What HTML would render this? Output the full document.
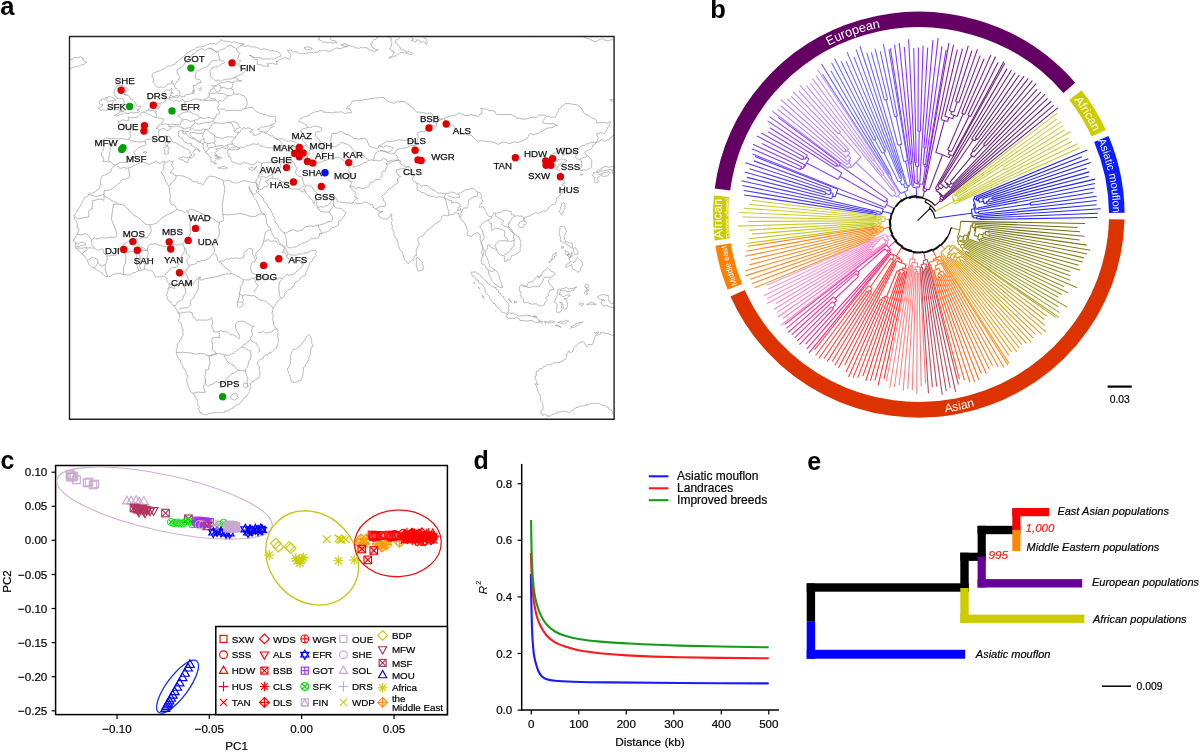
<!DOCTYPE html><html><head><meta charset="utf-8"><style>html,body{margin:0;padding:0;background:#fff;overflow:hidden}svg{display:block;will-change:transform}text{font-family:"Liberation Sans",sans-serif}</style></head><body><svg width="1200" height="752" viewBox="0 0 1200 752"><clipPath id="mapclip"><rect x="69.5" y="36.5" width="544.5" height="383"/></clipPath><g clip-path="url(#mapclip)" fill="none" stroke="#9a9a9a" stroke-width="0.72" stroke-linejoin="round"><path d="M173.5 161.2 L172.5 161.2 L171.5 161.5 L170.4 161.2 L169.6 160.5 L169.0 160.7 L168.5 161.1 L168.2 161.6 L167.6 161.9 L167.0 162.2 L166.3 162.3 L165.7 162.1 L165.1 161.9 L164.3 161.9 L163.6 161.7 L162.9 161.7 L162.2 161.9 L161.6 162.4 L161.1 163.0 L160.3 163.4 L159.5 163.3 L158.8 162.9 L158.0 162.7 L157.5 162.1 L156.9 161.6 L156.3 161.1 L155.6 161.1 L155.0 161.5 L154.7 162.2 L153.5 162.6 L152.3 162.6 L151.4 163.2 L150.7 163.9 L149.7 164.3 L148.7 164.5 L147.8 164.0 L146.8 163.7 L145.9 163.1 L145.3 162.3 L144.6 162.3 L143.9 162.1 L143.2 162.3 L142.5 161.9 L142.0 162.4 L141.3 162.4 L140.7 162.9 L140.0 163.0 L139.3 163.1 L138.6 163.2 L138.0 163.6 L137.5 164.1 L136.9 164.5 L136.1 164.5 L135.6 165.0 L135.1 165.4 L134.4 165.5 L133.7 165.4 L133.2 165.8 L132.6 166.2 L132.2 166.8 L131.4 167.0 L130.9 167.6 L130.1 167.6 L129.3 167.8 L128.5 167.7 L127.7 167.9 L126.9 168.3 L126.2 168.1 L125.5 168.0 L124.9 167.6 L124.1 167.6 L123.5 167.5 L122.8 167.6 L122.2 167.8 L121.7 168.2 L121.0 168.2 L120.4 168.1 L119.8 168.0 L119.2 167.9 L118.8 166.8 L117.6 166.6 L116.7 166.1 L116.0 165.4 L115.0 166.0 L113.9 165.8 L113.7 166.4 L113.3 166.9 L112.9 167.5 L112.5 167.9 L112.0 168.4 L111.5 168.7 L111.2 169.2 L111.2 169.9 L111.0 171.0 L110.7 172.1 L110.1 172.6 L109.3 172.8 L108.5 173.1 L107.9 173.6 L107.0 173.8 L106.4 174.4 L105.5 174.7 L104.7 175.0 L103.7 175.3 L102.6 175.4 L101.9 176.3 L101.9 177.4 L101.2 178.2 L101.0 179.2 L100.3 180.0 L100.1 181.0 L100.6 181.8 L100.8 182.9 L100.7 183.9 L100.8 184.8 L100.2 185.7 L99.7 186.7 L99.9 187.4 L99.7 188.0 L99.2 188.3 L98.7 188.7 L98.2 189.5 L97.3 189.4 L96.7 190.0 L96.6 190.8 L95.9 191.0 L95.4 191.5 L94.9 192.2 L94.1 192.3 L93.6 192.6 L92.9 192.8 L92.4 193.3 L91.7 193.2 L90.9 193.3 L90.3 192.7 L89.8 193.2 L89.2 193.7 L88.6 194.5 L88.1 195.4 L87.5 196.2 L86.7 196.8 L86.1 197.2 L85.5 197.2 L84.8 197.3 L84.3 197.6 L84.1 198.2 L83.7 198.8 L83.8 199.4 L83.5 200.0 L83.1 200.5 L82.7 200.9 L82.4 201.5 L82.3 202.1 L81.9 202.6 L81.7 203.2 L81.3 203.7 L81.0 204.3 L81.1 204.9 L80.6 205.4 L80.3 206.0 L79.7 206.3 L79.6 206.9 L79.3 207.5 L79.1 208.1 L78.6 208.5 L78.2 209.0 L78.1 209.6 L77.6 210.1 L77.1 210.4 L77.1 211.0 L77.1 211.7 L76.8 212.2 L76.5 212.7 L75.8 213.3 L75.2 214.0 L74.8 214.8 L73.9 215.2 L73.7 216.2 L74.4 216.9 L74.6 217.8 L74.5 218.7 L75.0 219.6 L75.6 220.4 L76.2 221.2 L76.5 222.2 L77.0 222.8 L77.2 223.6 L77.4 224.3 L77.5 225.1 L77.3 226.0 L76.8 226.9 L77.3 227.8 L78.2 228.2 L78.7 229.2 L78.8 230.3 L78.3 231.2 L77.9 232.1 L77.6 233.0 L77.3 234.0 L77.2 235.0 L76.5 235.7 L75.7 236.3 L75.3 237.3 L74.9 238.2 L74.7 239.2 L73.5 239.2 L72.9 240.2 L74.0 240.7 L74.7 241.6 L75.7 242.0 L76.0 243.0 L75.6 243.9 L75.4 244.8 L75.1 245.6 L75.3 246.4 L75.7 247.2 L75.7 248.0 L76.1 248.6 L76.8 248.8 L77.1 249.3 L77.5 249.8 L78.4 250.0 L79.0 250.7 L79.6 251.4 L80.3 251.9 L80.9 252.8 L81.8 253.6 L82.4 254.2 L82.9 255.0 L83.8 255.3 L84.2 256.1 L85.1 256.5 L85.2 257.4 L85.7 258.0 L86.3 258.6 L87.0 259.3 L87.4 260.2 L87.6 261.2 L88.1 262.1 L88.3 263.2 L88.7 264.3 L89.8 264.8 L90.6 265.6 L91.4 266.4 L91.9 267.4 L92.5 267.6 L92.9 268.1 L93.4 267.7 L94.1 267.8 L94.5 268.3 L94.8 268.9 L95.6 268.8 L96.2 269.2 L96.6 269.7 L97.1 270.1 L97.7 270.5 L98.3 270.6 L98.9 271.0 L99.5 271.2 L100.0 271.5 L100.5 271.9 L100.9 272.5 L101.6 272.6 L101.9 273.2 L102.2 273.8 L102.9 274.2 L103.6 274.6 L104.2 275.2 L104.8 275.7 L105.5 276.2 L106.1 276.8 L107.0 276.8 L107.9 276.6 L108.9 276.6 L109.9 276.5 L110.8 276.1 L111.8 275.9 L112.0 275.1 L112.6 274.6 L113.3 274.0 L114.1 274.1 L114.9 274.3 L115.6 274.0 L116.3 273.7 L117.0 273.8 L117.9 273.4 L118.8 273.4 L119.7 273.4 L120.6 273.4 L121.3 274.0 L122.2 274.2 L123.2 274.4 L124.1 274.1 L125.0 274.4 L125.9 274.7 L126.8 274.9 L127.6 275.3 L128.5 275.0 L129.4 274.6 L130.4 274.8 L131.2 274.1 L131.9 273.8 L132.6 273.4 L133.1 272.7 L134.0 272.5 L134.7 272.5 L135.4 272.5 L136.0 272.1 L136.5 271.5 L137.1 271.3 L137.7 271.1 L138.2 270.7 L138.9 270.6 L139.6 270.8 L140.2 271.2 L140.6 270.5 L141.2 270.1 L142.4 269.8 L143.5 269.7 L144.3 269.2 L145.1 268.8 L145.9 269.1 L146.7 269.5 L147.5 270.2 L148.5 270.8 L149.5 270.3 L150.6 270.2 L151.4 270.6 L151.8 271.3 L152.7 271.5 L153.1 272.3 L153.6 272.9 L154.0 273.4 L154.4 274.1 L154.5 274.8 L154.8 275.4 L154.9 276.1 L155.1 276.8 L155.9 276.9 L156.8 277.1 L157.7 276.9 L158.6 277.0 L159.4 276.6 L160.5 276.3 L161.7 276.2 L162.9 276.1 L164.0 275.9 L164.7 276.7 L165.3 277.5 L166.2 277.9 L167.2 278.3 L166.8 279.1 L166.7 279.8 L166.8 280.6 L166.8 281.4 L167.4 282.0 L167.9 282.6 L168.5 283.1 L169.3 283.3 L169.1 284.2 L169.0 285.0 L169.1 285.9 L169.3 286.8 L169.0 287.8 L168.0 288.4 L168.3 289.3 L168.2 290.3 L167.7 290.8 L167.2 291.4 L167.4 292.1 L167.5 292.8 L167.3 293.4 L166.9 293.9 L166.3 294.2 L165.8 294.6 L166.3 295.0 L166.6 295.7 L167.0 296.3 L167.2 297.0 L167.1 298.1 L167.5 299.1 L168.1 300.0 L168.6 300.9 L169.3 301.2 L169.6 301.8 L170.2 301.5 L170.9 301.8 L170.9 302.4 L171.2 303.0 L171.3 303.6 L171.8 304.1 L172.4 304.8 L173.3 305.2 L173.7 306.1 L174.6 306.6 L175.3 307.2 L175.1 308.1 L175.7 308.6 L176.4 309.0 L176.8 309.7 L176.7 310.5 L177.3 310.9 L177.8 311.5 L177.8 312.4 L178.1 313.3 L179.0 313.8 L179.8 314.4 L179.5 315.4 L179.9 316.4 L179.5 317.4 L179.2 318.3 L179.1 319.3 L178.5 320.2 L178.6 321.4 L179.3 322.3 L180.2 322.8 L181.3 323.1 L181.4 324.0 L181.2 324.9 L181.4 325.8 L181.6 326.7 L181.9 327.6 L182.2 328.4 L182.6 329.3 L183.4 329.8 L183.1 330.6 L182.9 331.4 L182.9 332.2 L182.7 333.0 L183.0 333.8 L183.2 334.5 L183.0 335.3 L182.4 335.8 L181.8 336.4 L181.6 337.2 L182.1 337.9 L181.8 338.7 L181.2 339.0 L180.5 339.3 L180.2 340.0 L179.5 340.4 L179.2 341.3 L179.2 342.3 L178.4 342.9 L177.8 343.6 L177.1 344.6 L177.4 345.7 L177.5 346.8 L177.3 347.8 L176.9 348.7 L176.4 349.6 L176.2 350.4 L176.4 351.3 L176.4 352.1 L176.2 353.0 L176.8 353.8 L177.1 354.8 L177.0 355.8 L177.8 356.7 L177.9 357.8 L178.7 358.6 L179.4 359.5 L180.2 360.2 L180.6 360.9 L180.5 361.7 L180.7 362.4 L181.1 363.0 L181.4 363.7 L181.9 364.3 L182.4 364.8 L182.7 365.5 L182.8 366.3 L182.8 367.1 L183.2 367.9 L183.9 368.2 L184.3 368.9 L184.9 369.4 L185.2 370.1 L185.5 370.8 L185.8 371.4 L186.1 372.0 L185.9 372.6 L185.9 373.2 L186.1 374.2 L186.6 375.0 L187.4 375.4 L188.2 375.8 L188.1 376.7 L187.5 377.4 L187.1 378.2 L186.6 378.9 L186.6 379.8 L186.8 380.7 L186.8 381.6 L187.1 382.4 L187.7 383.2 L187.8 384.1 L188.1 385.0 L188.0 385.9 L188.4 386.5 L188.6 387.2 L189.1 387.8 L189.4 388.4 L189.7 389.1 L189.9 389.8 L190.4 390.4 L190.4 391.2 L190.7 392.0 L191.4 392.4 L192.0 392.8 L192.8 393.0 L193.1 393.7 L193.7 394.0 L194.3 394.5 L194.2 395.3 L194.7 395.7 L195.0 396.3 L194.9 397.1 L195.4 397.6 L196.1 398.0 L196.4 398.8 L197.1 399.3 L197.1 400.2 L197.2 401.0 L197.4 401.8 L197.3 402.6 L197.9 403.2 L197.8 403.8 L197.9 404.5 L198.3 405.0 L198.3 405.6 L198.7 406.1 L199.2 406.6 L199.2 407.2 L199.3 407.8 L198.9 408.4 L198.2 408.5 L198.7 409.3 L199.4 409.9 L199.7 410.8 L199.7 411.7 L200.0 412.5 L200.0 413.3 L200.6 412.9 L201.1 412.4 L201.1 413.1 L201.5 413.8 L202.2 413.8 L202.8 414.2 L203.5 414.3 L204.0 414.8 L204.7 414.8 L205.3 415.0 L206.2 414.8 L207.1 414.7 L207.6 413.9 L208.5 413.5 L209.6 413.4 L210.6 413.2 L211.7 413.0 L212.7 412.8 L213.9 412.8 L215.0 412.7 L216.2 412.7 L217.3 412.4 L217.9 412.6 L218.6 412.6 L219.2 412.5 L219.8 412.3 L220.4 412.4 L221.1 412.3 L221.6 412.7 L222.2 412.8 L222.9 412.5 L223.6 412.3 L224.3 412.2 L225.1 412.1 L225.3 411.0 L226.4 410.6 L227.3 411.0 L228.2 411.2 L228.9 410.7 L229.1 409.9 L229.8 409.7 L230.3 409.1 L231.0 408.8 L231.7 408.5 L232.4 408.2 L233.2 408.5 L233.5 407.9 L233.7 407.2 L233.9 406.5 L234.5 406.1 L235.3 406.2 L235.8 405.6 L236.4 405.1 L237.1 405.0 L237.6 404.4 L238.4 404.5 L238.8 403.8 L239.6 403.7 L240.1 403.2 L240.6 402.7 L241.0 402.1 L241.3 401.5 L241.7 401.0 L242.0 400.5 L242.6 400.2 L243.1 399.8 L243.3 399.2 L243.8 398.8 L244.1 398.2 L244.1 397.6 L244.7 397.2 L245.5 397.0 L245.9 396.4 L246.6 396.2 L247.1 395.6 L247.2 394.9 L247.7 394.4 L248.0 393.7 L248.7 393.1 L249.4 392.4 L249.6 391.5 L249.4 390.5 L249.8 389.7 L250.0 388.7 L250.6 387.9 L250.8 387.0 L250.8 386.1 L250.7 385.3 L250.5 384.4 L249.8 383.8 L250.5 383.9 L250.9 383.3 L251.1 382.7 L251.2 382.1 L251.9 381.3 L253.0 381.2 L254.0 381.1 L254.7 380.3 L255.3 379.7 L256.1 379.5 L256.9 379.2 L257.7 379.1 L258.2 378.3 L258.2 377.4 L259.1 377.1 L259.7 376.4 L259.2 375.5 L259.8 374.6 L260.0 373.8 L260.0 372.9 L259.7 372.0 L259.0 371.5 L259.4 370.6 L259.3 369.7 L259.2 368.8 L259.2 367.9 L259.4 367.0 L259.0 366.2 L258.4 365.7 L257.8 365.1 L257.4 364.5 L257.2 363.7 L257.4 362.8 L257.5 362.0 L258.3 361.2 L259.0 360.4 L259.9 359.8 L260.7 359.1 L261.4 359.0 L262.2 358.9 L262.9 358.7 L263.5 358.4 L262.9 357.5 L263.4 356.4 L264.4 356.2 L265.0 355.3 L265.6 354.9 L266.2 355.0 L266.9 355.2 L267.6 355.1 L267.6 354.3 L268.4 354.0 L268.6 353.4 L268.8 352.8 L269.8 352.5 L270.9 352.7 L271.6 352.1 L272.4 351.4 L272.9 350.9 L273.3 350.4 L273.8 350.0 L274.3 349.6 L274.8 349.0 L275.2 348.4 L275.8 348.0 L276.6 348.2 L276.9 347.3 L276.9 346.4 L277.6 345.8 L278.0 345.0 L277.9 344.1 L278.2 343.3 L277.8 342.3 L278.4 341.5 L278.3 340.8 L278.2 340.1 L278.4 339.5 L278.5 338.8 L278.0 338.3 L277.8 337.6 L277.8 336.9 L277.7 336.2 L277.7 335.4 L277.9 334.6 L277.5 333.8 L278.0 333.0 L277.8 332.2 L277.8 331.4 L277.9 330.6 L277.7 329.8 L277.5 329.0 L276.7 328.5 L276.2 327.8 L275.5 327.4 L274.7 327.0 L274.3 326.2 L273.7 325.5 L273.1 324.8 L273.4 324.0 L273.5 323.1 L273.4 322.2 L273.8 321.4 L273.1 320.9 L272.4 320.4 L272.8 319.7 L272.8 318.8 L272.9 318.1 L272.8 317.4 L273.0 316.7 L273.4 316.1 L273.0 315.4 L273.0 314.5 L272.3 314.1 L271.7 313.6 L272.1 312.8 L272.3 311.9 L272.6 311.0 L272.7 310.1 L273.2 309.0 L273.1 307.9 L273.8 307.1 L274.8 306.6 L275.1 305.7 L275.2 304.8 L275.7 304.1 L276.3 303.4 L276.7 302.3 L277.1 301.3 L278.1 300.8 L279.1 300.2 L279.5 299.5 L280.0 298.8 L280.8 298.5 L281.5 298.1 L282.2 297.8 L282.7 297.2 L283.3 296.8 L283.8 296.3 L284.3 295.7 L284.7 295.0 L285.0 294.3 L284.7 293.5 L285.2 293.0 L285.5 292.4 L286.0 291.9 L286.4 291.3 L287.0 291.0 L287.4 290.4 L287.9 289.9 L288.3 289.3 L288.9 289.8 L289.8 289.7 L290.3 289.1 L290.8 288.5 L291.1 287.8 L291.8 287.6 L292.4 287.2 L292.5 286.5 L293.1 286.2 L293.6 285.8 L294.2 285.6 L294.6 285.0 L294.9 284.2 L294.8 283.3 L295.4 282.7 L295.8 281.9 L296.6 281.7 L297.5 281.5 L298.1 280.9 L298.8 280.5 L299.3 279.9 L299.8 279.4 L299.9 278.7 L300.2 278.0 L300.9 277.8 L301.4 277.3 L301.9 276.7 L302.4 276.2 L303.2 276.0 L304.0 276.2 L304.7 275.8 L305.3 275.3 L305.6 274.6 L305.9 273.9 L305.9 273.1 L305.9 272.3 L306.4 271.8 L306.8 271.1 L307.3 270.4 L306.8 269.6 L307.0 268.9 L307.6 268.3 L308.2 267.9 L308.7 267.4 L309.0 266.7 L309.0 266.0 L309.0 265.2 L308.9 264.5 L309.4 264.0 L309.5 263.2 L309.9 262.6 L310.5 262.1 L311.6 261.7 L312.3 260.8 L312.7 259.7 L313.0 258.6 L313.5 257.5 L314.6 257.0 L315.4 256.2 L316.1 255.4 L315.6 254.9 L315.1 254.4 L315.4 253.3 L316.2 252.5 L316.3 251.5 L315.8 250.5 L315.1 250.7 L314.5 250.9 L313.7 250.8 L313.3 250.1 L312.7 250.4 L312.1 250.6 L311.4 250.8 L310.7 250.9 L310.1 251.3 L309.4 251.3 L308.7 251.6 L308.4 252.2 L307.3 252.5 L306.3 253.0 L305.2 253.0 L304.1 252.6 L303.6 253.1 L302.8 253.2 L302.2 253.7 L301.8 254.3 L301.1 253.9 L300.3 253.9 L299.6 254.1 L298.8 254.0 L298.1 254.1 L297.4 254.2 L296.9 254.7 L296.3 255.3 L295.7 254.8 L294.9 255.0 L294.2 255.2 L293.5 255.4 L292.7 255.0 L291.8 254.7 L291.0 255.1 L290.0 255.1 L289.4 254.4 L288.7 253.9 L288.2 253.2 L287.5 252.6 L286.9 252.1 L286.8 251.2 L286.3 250.5 L285.8 249.7 L285.9 248.9 L285.8 248.0 L285.3 247.6 L285.2 246.9 L284.6 246.7 L284.0 246.6 L283.5 245.9 L283.1 245.2 L282.3 244.8 L281.5 244.5 L280.6 243.8 L279.6 243.1 L279.1 242.1 L278.7 240.9 L278.2 240.4 L278.2 239.7 L278.1 239.0 L277.6 238.5 L276.9 238.1 L276.2 238.2 L275.6 238.7 L274.8 238.5 L274.2 237.5 L273.8 236.4 L273.0 235.7 L272.3 234.9 L272.3 233.8 L272.0 232.8 L271.4 231.9 L271.2 230.7 L271.0 229.6 L270.6 228.6 L270.0 227.6 L269.4 226.6 L268.7 226.9 L268.2 226.3 L268.1 225.6 L267.4 225.4 L267.6 224.6 L267.3 223.9 L266.5 223.6 L266.0 223.0 L266.3 222.4 L266.5 221.7 L266.3 221.0 L266.9 220.5 L266.7 219.9 L266.2 219.4 L266.5 218.7 L266.4 218.0 L265.5 217.4 L265.5 216.3 L265.4 215.4 L265.0 214.5 L264.0 214.7 L263.4 214.0 L263.2 213.2 L262.5 212.7 L261.8 212.2 L261.0 211.9 L260.8 211.1 L260.7 210.3 L260.3 209.7 L259.9 209.2 L259.7 208.4 L260.0 207.8 L259.4 206.9 L258.9 206.0 L258.8 204.9 L257.9 204.3 L257.3 203.5 L256.9 202.6 L256.8 201.6 L256.5 200.7 L256.1 199.9 L255.5 199.2 L255.0 198.5 L254.4 197.9 L253.8 197.3 L253.2 196.7 L253.4 195.9 L253.0 195.1 L252.2 194.2 L251.5 193.3 L251.1 192.2 L250.5 191.2 L250.1 190.1 L249.6 189.0 L249.3 188.4 L249.3 187.8 L249.6 187.2 L249.8 186.6 L249.4 187.3 L248.7 187.7 L249.2 188.1 L249.8 188.5 L249.9 189.2 L250.1 189.8 L250.7 190.6 L251.4 191.1 L251.5 192.1 L251.9 193.0 L252.8 193.3 L253.3 194.0 L254.4 194.2 L255.4 194.0 L256.0 193.3 L256.5 192.6 L256.7 191.8 L256.3 191.1 L256.5 190.2 L257.2 189.8 L257.7 189.0 L257.9 188.0 L257.4 187.5 L256.8 187.0 L256.7 186.3 L256.9 185.6 L257.1 185.0 L257.3 184.3 L256.8 183.8 L256.4 183.2 L256.0 182.7 L255.8 182.0 L255.1 182.3 L254.4 182.3 L253.7 182.3 L253.0 182.4 L251.9 182.3 L250.8 182.1 L249.8 181.9 L248.7 181.7 L247.8 181.5 L247.0 181.0 L246.2 181.2 L245.5 180.7 L244.8 180.9 L244.1 180.6 L243.1 180.9 L242.1 181.1 L241.2 181.7 L240.2 182.0 L239.4 182.4 L238.5 182.5 L237.6 182.8 L236.7 183.1 L236.0 182.9 L235.2 182.9 L234.5 182.5 L233.7 182.5 L232.9 182.3 L232.1 182.4 L231.4 181.9 L230.7 181.5 L230.2 180.6 L229.2 180.3 L228.3 180.7 L227.3 180.5 L226.4 180.7 L225.5 180.9 L224.6 180.7 L223.7 180.6 L222.7 180.0 L221.6 179.7 L220.6 179.1 L219.4 178.9 L218.7 178.1 L217.7 177.9 L216.7 177.6 L215.9 177.1 L215.1 176.9 L214.5 176.4 L213.7 176.3 L213.0 176.7 L212.2 176.9 L211.7 176.2 L210.9 176.3 L210.2 176.1 L209.5 176.3 L208.8 176.4 L208.1 177.2 L207.6 178.0 L207.2 178.5 L206.9 179.0 L206.3 178.6 L205.7 178.9 L206.2 179.7 L205.7 180.5 L205.4 181.3 L204.9 182.0 L204.4 182.9 L203.6 183.6 L203.1 184.4 L202.5 185.2 L202.2 184.6 L201.8 184.1 L201.3 183.6 L200.9 183.1 L200.2 183.3 L199.6 183.6 L198.9 183.4 L198.2 183.4 L197.8 182.7 L197.5 181.9 L196.6 181.6 L195.8 182.0 L195.0 182.1 L194.4 181.7 L193.6 181.6 L192.9 182.0 L192.7 181.2 L192.2 180.6 L191.5 180.1 L190.7 179.9 L190.3 179.1 L189.6 178.8 L188.9 178.3 L188.4 177.8 L187.7 177.9 L187.1 178.1 L186.7 177.6 L186.2 177.2 L185.2 176.7 L184.1 176.4 L183.4 176.2 L182.8 175.8 L182.0 175.8 L181.3 176.0 L180.2 175.7 L179.2 175.2 L178.1 175.5 L177.1 176.0 L176.3 175.7 L175.8 175.0 L175.0 175.1 L174.2 175.0 L173.7 174.1 L173.2 173.2 L172.5 173.0 L171.8 172.8 L171.0 172.8 L170.4 172.5 L170.8 171.6 L171.4 170.7 L172.1 170.2 L172.8 169.7 L173.2 168.7 L173.9 167.9 L173.3 167.5 L172.9 166.9 L172.6 166.3 L172.1 165.8 L171.4 165.0 L171.8 164.0 L172.4 163.3 L172.2 162.3 L172.8 161.7 L173.5 161.2 M308.7 334.4 L309.3 334.8 L309.8 335.3 L310.0 335.9 L310.1 336.6 L310.7 337.1 L311.1 337.6 L311.2 338.4 L310.8 339.0 L311.3 339.5 L311.6 340.0 L311.8 340.6 L311.8 341.2 L311.6 341.8 L311.6 342.4 L311.8 343.0 L311.9 343.6 L312.4 344.3 L312.8 345.1 L313.4 345.9 L313.0 346.8 L312.0 346.7 L311.2 347.3 L310.9 348.2 L311.0 349.1 L310.9 349.9 L310.9 350.7 L310.5 351.4 L310.1 352.1 L310.6 352.6 L310.6 353.3 L310.7 353.9 L310.9 354.5 L310.2 354.7 L309.8 355.3 L309.6 355.9 L309.1 356.3 L308.7 357.1 L308.9 357.9 L308.8 358.7 L309.0 359.5 L308.4 360.1 L308.0 360.8 L307.6 361.4 L307.0 362.0 L306.9 362.7 L306.4 363.2 L306.1 363.8 L305.9 364.4 L305.5 365.4 L305.1 366.3 L304.4 367.1 L303.5 367.5 L303.5 368.5 L303.5 369.5 L303.5 370.5 L303.4 371.5 L303.2 372.1 L302.9 372.8 L303.2 373.4 L303.0 374.1 L302.7 374.8 L302.8 375.5 L302.7 376.2 L302.4 376.8 L302.1 377.8 L301.1 378.3 L301.2 379.3 L301.0 380.3 L300.0 380.4 L299.0 380.9 L298.0 380.9 L297.1 381.4 L296.5 381.9 L295.7 382.1 L295.0 382.2 L294.3 382.4 L293.3 382.2 L292.3 382.2 L291.9 381.2 L291.1 380.7 L291.1 380.0 L290.9 379.5 L290.8 378.9 L290.5 378.3 L290.3 377.8 L290.1 377.2 L290.2 376.5 L289.7 376.1 L289.7 375.2 L289.8 374.4 L289.3 373.8 L288.6 373.2 L288.5 372.3 L288.1 371.5 L287.8 370.6 L287.5 369.7 L287.6 368.8 L287.8 367.9 L288.7 367.5 L289.0 366.5 L289.5 365.6 L290.1 364.7 L290.2 363.6 L290.7 362.7 L290.6 361.6 L290.2 360.7 L290.3 359.6 L291.1 358.8 L290.4 358.2 L290.1 357.3 L290.3 356.5 L290.0 355.6 L290.6 354.8 L291.2 354.0 L291.5 353.1 L291.4 352.1 L292.1 351.5 L292.5 350.8 L292.7 349.9 L293.2 349.3 L293.9 349.3 L294.6 349.3 L295.2 349.2 L295.9 349.0 L296.4 348.5 L296.9 348.1 L297.6 347.9 L298.1 347.5 L298.9 347.0 L299.6 346.3 L300.3 345.7 L301.0 345.0 L301.6 344.1 L302.3 343.2 L302.8 342.1 L303.8 341.5 L304.2 340.9 L304.5 340.3 L304.9 339.7 L305.2 339.0 L305.7 338.3 L306.0 337.5 L306.3 336.7 L307.0 336.2 L307.5 335.9 L308.1 335.6 L308.4 335.0 L308.7 334.4 M255.8 182.0 L256.3 181.2 L256.1 180.2 L256.9 179.6 L257.5 178.9 L257.8 178.3 L258.1 177.7 L258.2 177.0 L258.2 176.4 L258.5 175.5 L259.0 174.6 L259.3 173.5 L260.0 172.5 L260.7 171.7 L261.1 170.7 L261.5 169.7 L261.4 168.6 L261.2 167.8 L261.1 166.9 L261.2 165.9 L261.8 165.1 L261.4 164.5 L261.6 163.9 L261.9 163.3 L262.5 163.0 L261.4 163.2 L260.4 163.0 L260.0 162.6 L259.2 162.4 L258.4 162.2 L257.6 162.2 L256.8 162.3 L256.2 162.5 L255.6 163.0 L255.1 163.4 L254.7 164.0 L253.9 164.6 L253.0 164.6 L252.3 164.8 L251.7 164.8 L251.1 165.0 L250.5 165.1 L250.1 164.2 L249.3 163.8 L248.4 163.9 L247.7 163.3 L247.0 163.4 L246.5 163.0 L245.8 163.1 L245.2 163.1 L244.6 162.8 L244.0 162.7 L243.6 162.3 L243.1 161.9 L242.8 162.8 L242.4 163.7 L241.5 164.0 L240.7 164.4 L239.8 164.0 L238.8 164.4 L238.4 163.9 L237.9 163.6 L237.3 163.3 L236.7 163.0 L236.1 163.2 L235.5 163.1 L234.9 162.9 L234.6 162.3 L233.9 162.1 L233.2 162.0 L232.4 162.2 L231.8 161.6 L231.4 160.6 L230.7 159.8 L230.9 159.0 L231.1 158.2 L230.7 157.7 L230.4 157.2 L229.9 156.9 L229.3 156.6 L228.6 156.7 L227.9 157.0 L228.5 156.2 L229.3 155.6 L229.1 154.9 L229.3 154.2 L228.3 153.9 L227.5 153.1 L227.4 152.5 L227.5 151.8 L227.2 151.3 L227.2 150.6 L228.0 150.1 L229.0 149.6 L229.7 149.8 L230.4 149.6 L231.1 149.8 L231.8 149.6 L232.8 149.8 L233.5 149.2 L234.4 149.6 L235.3 149.6 L236.2 149.8 L237.1 149.6 L237.9 149.5 L238.8 149.3 L239.5 148.8 L240.2 148.3 L239.4 148.1 L238.5 148.2 L237.8 147.8 L237.4 147.1 L238.1 147.8 L239.1 148.1 L239.9 147.6 L240.6 146.9 L241.6 147.2 L242.7 147.5 L243.9 147.8 L244.8 147.1 L245.4 146.4 L246.0 145.8 L246.8 145.6 L247.7 145.3 L248.3 145.2 L248.9 145.6 L249.5 145.3 L250.1 145.2 L250.7 145.0 L251.3 144.7 L251.6 144.1 L252.2 143.9 L252.9 144.2 L253.5 144.0 L254.1 143.8 L254.7 143.9 L255.3 144.2 L255.9 144.3 L256.6 144.7 L257.2 144.1 L258.1 143.8 L259.0 143.9 L259.6 144.5 L260.0 145.3 L260.4 146.2 L261.4 146.0 L262.1 146.2 L262.8 146.4 L263.4 146.7 L264.0 146.8 L264.7 147.0 L265.3 147.1 L266.2 147.4 L267.1 147.5 L267.9 148.1 L268.8 147.8 L269.6 147.7 L270.3 147.6 L271.1 147.6 L271.8 147.5 L272.5 147.9 L273.3 148.1 L274.1 147.8 L274.8 147.5 L275.6 147.1 L276.4 147.0 L277.2 147.3 L278.0 147.5 L278.8 146.8 L279.9 146.5 L280.8 146.0 L281.5 145.3 L281.7 144.4 L281.9 143.6 L281.4 142.7 L280.6 142.0 L280.1 141.1 L279.4 140.4 L278.8 140.1 L278.4 139.6 L277.7 139.5 L277.3 139.0 L276.7 138.8 L276.1 138.7 L275.4 138.5 L274.8 138.3 L274.5 137.7 L273.8 137.5 L273.7 136.8 L273.4 136.2 L272.9 135.9 L272.2 135.7 L271.6 135.9 L271.0 135.8 L270.2 135.6 L269.4 135.3 L268.9 134.7 L268.1 134.4 L267.4 133.7 L266.4 133.3 L265.6 133.5 L265.0 133.0 L264.4 132.7 L263.9 132.3 L264.8 131.8 L265.8 132.1 L266.7 131.9 L267.4 131.2 L268.2 130.6 L268.8 129.8 L269.2 129.2 L269.7 128.8 L270.0 128.1 L270.6 127.7 L271.4 127.5 L272.1 127.1 L272.7 126.7 L273.4 126.3 L272.7 126.1 L272.0 125.6 L271.4 125.7 L270.8 125.9 L270.2 125.9 L269.5 125.9 L268.9 125.7 L268.3 125.8 L267.7 126.0 L267.1 126.3 L266.1 126.3 L265.2 126.5 L264.4 126.9 L263.5 127.3 L262.6 126.8 L261.5 126.9 L260.5 127.4 L260.0 128.4 L259.5 128.8 L258.9 129.1 L258.2 128.9 L257.5 129.1 L258.3 129.4 L258.7 130.0 L259.3 130.5 L259.7 131.2 L260.7 131.3 L261.6 131.6 L262.6 131.6 L263.5 131.9 L262.5 132.1 L261.6 132.6 L260.8 133.3 L259.7 133.3 L259.0 134.2 L258.0 134.4 L257.1 134.7 L256.1 135.1 L255.4 135.4 L254.5 135.3 L253.8 135.2 L253.0 135.1 L253.1 134.2 L253.3 133.3 L252.5 132.6 L251.6 132.0 L250.5 132.1 L249.4 131.9 L250.3 131.3 L251.3 130.8 L252.4 130.5 L253.3 129.8 L252.6 129.7 L251.8 129.6 L251.1 129.1 L250.5 128.8 L249.8 128.3 L248.9 128.1 L248.1 128.0 L247.3 127.7 L246.7 128.5 L245.7 128.7 L244.9 128.3 L244.1 127.7 L243.1 128.0 L242.5 128.5 L242.4 129.3 L241.8 129.6 L241.3 130.2 L240.6 130.7 L240.6 131.5 L239.9 131.9 L239.5 132.6 L238.8 132.9 L238.2 133.4 L237.7 134.0 L237.1 134.4 L237.2 135.1 L236.9 135.7 L236.4 136.2 L235.7 136.2 L235.5 137.2 L235.3 138.3 L234.9 138.8 L234.4 139.3 L233.9 139.7 L233.2 139.7 L232.8 140.4 L232.2 140.7 L231.9 141.4 L231.8 142.2 L232.0 143.1 L232.3 143.9 L233.2 144.4 L233.5 145.3 L234.4 145.7 L235.4 145.8 L236.1 146.6 L237.1 146.7 L236.1 146.6 L235.3 146.9 L234.4 147.3 L233.5 147.5 L232.7 147.7 L231.8 147.5 L231.1 147.6 L230.7 148.1 L230.4 148.7 L229.7 148.9 L229.1 149.2 L228.6 149.6 L228.0 149.0 L227.2 148.9 L226.6 148.5 L226.1 148.0 L225.3 148.4 L224.4 148.7 L223.6 148.2 L222.9 147.6 L221.9 147.5 L220.8 147.8 L220.2 148.0 L219.7 148.5 L219.0 148.7 L218.4 148.5 L217.7 148.9 L217.0 148.9 L216.3 148.9 L215.5 148.9 L216.0 149.3 L216.7 149.5 L217.3 149.7 L217.7 150.3 L217.1 150.7 L216.9 151.3 L216.3 151.6 L215.7 151.9 L215.1 152.2 L214.5 152.4 L214.9 153.1 L215.5 153.4 L216.1 154.2 L216.6 154.9 L215.6 155.3 L214.5 155.0 L215.0 155.4 L215.5 155.8 L215.8 156.4 L216.2 156.9 L216.9 157.0 L217.5 157.2 L217.8 157.8 L218.4 158.2 L218.8 158.8 L219.4 159.3 L218.7 159.0 L217.9 158.9 L217.3 158.6 L216.6 158.2 L215.5 158.4 L216.1 159.4 L215.9 160.5 L215.2 161.0 L214.5 161.7 L214.8 162.5 L215.2 163.3 L215.8 163.9 L216.6 163.7 L216.0 163.6 L215.4 163.6 L214.8 163.7 L214.1 163.7 L213.8 163.1 L213.5 162.5 L213.2 162.0 L212.7 161.6 L211.9 161.7 L211.3 162.3 L211.3 161.6 L211.3 160.8 L211.2 160.1 L210.9 159.4 L210.7 158.3 L211.3 157.3 L210.6 157.0 L209.8 157.1 L209.4 156.4 L208.8 155.9 L208.5 154.9 L207.8 154.2 L207.1 153.1 L206.0 152.7 L205.7 151.7 L204.9 151.0 L204.4 149.9 L203.5 149.2 L203.4 148.5 L203.4 147.8 L203.1 147.1 L203.2 146.4 L203.4 145.3 L203.2 144.3 L202.6 143.6 L201.8 143.6 L201.0 142.9 L200.0 142.5 L199.6 141.5 L198.6 140.9 L197.5 140.7 L196.5 140.4 L195.6 139.7 L194.8 138.9 L193.7 138.7 L192.6 138.6 L192.0 138.4 L191.5 138.1 L190.9 138.0 L190.3 138.0 L189.9 137.4 L189.5 137.0 L188.8 136.9 L188.4 136.5 L188.1 135.5 L187.3 134.8 L186.5 134.2 L185.9 133.3 L185.5 132.3 L185.3 132.9 L184.9 133.4 L184.3 133.7 L183.8 134.0 L183.5 133.3 L182.7 133.0 L182.7 132.0 L183.4 131.2 L182.8 130.9 L182.2 131.0 L181.5 130.9 L180.9 130.7 L180.2 130.8 L179.4 131.0 L178.9 131.6 L178.1 131.9 L178.4 132.8 L178.8 133.7 L178.6 134.6 L178.1 135.5 L178.8 135.9 L179.2 136.5 L180.1 136.8 L180.7 137.6 L181.6 137.7 L182.4 138.3 L182.8 139.4 L183.3 140.4 L184.0 141.3 L184.8 142.2 L185.8 142.1 L186.3 143.0 L187.0 143.4 L187.6 143.9 L188.7 143.7 L189.8 143.6 L191.0 143.5 L191.9 144.3 L191.5 145.0 L190.8 145.3 L191.7 145.8 L192.6 146.2 L193.6 146.5 L194.4 147.1 L195.2 147.9 L196.3 148.0 L197.4 148.2 L198.2 148.9 L198.4 149.5 L198.9 149.9 L199.6 150.1 L200.0 150.6 L199.7 151.7 L199.1 151.4 L198.7 150.9 L198.5 150.2 L197.9 149.9 L197.3 149.7 L196.7 149.3 L196.1 149.3 L195.4 149.2 L195.3 150.0 L194.6 150.4 L193.9 150.7 L193.3 151.0 L193.4 151.8 L192.9 152.4 L193.1 153.2 L193.8 153.7 L194.4 154.1 L195.1 154.5 L194.6 155.1 L194.1 155.7 L193.5 156.1 L192.9 156.6 L192.4 157.5 L191.5 158.0 L190.7 157.9 L189.9 157.7 L189.9 156.7 L190.5 155.9 L191.1 155.5 L191.9 155.2 L191.6 154.5 L190.9 154.5 L190.4 154.0 L190.3 153.4 L190.3 152.7 L189.8 152.2 L190.2 151.7 L190.1 151.0 L189.4 150.4 L188.6 149.9 L187.7 149.4 L186.9 148.9 L185.9 148.7 L185.0 148.2 L184.4 148.0 L184.0 147.5 L183.3 147.4 L183.1 146.7 L182.1 146.2 L180.9 145.9 L180.3 145.8 L179.7 145.8 L179.3 145.3 L178.8 145.0 L178.4 144.4 L177.7 144.1 L177.2 143.7 L176.5 143.5 L176.0 143.0 L175.3 142.7 L174.6 142.7 L173.9 142.5 L173.1 142.2 L172.4 141.9 L172.0 141.2 L171.8 140.4 L171.4 139.5 L171.1 138.6 L170.3 138.4 L170.1 137.6 L169.9 136.9 L169.3 136.5 L168.4 136.3 L167.6 136.4 L166.7 136.1 L166.1 135.5 L165.5 136.2 L164.6 136.4 L163.7 136.7 L162.9 137.2 L162.3 137.6 L161.7 137.4 L161.0 137.6 L160.5 137.9 L159.3 138.1 L158.4 138.8 L157.7 139.7 L156.6 140.0 L155.8 139.7 L155.4 139.0 L154.5 138.8 L153.8 139.3 L153.0 139.4 L152.3 139.3 L151.6 139.1 L150.9 139.0 L150.0 139.1 L149.0 139.1 L148.1 139.7 L147.1 139.3 L146.1 139.6 L145.5 140.3 L145.0 141.2 L145.3 142.2 L145.8 143.2 L146.0 144.3 L145.3 145.0 L144.4 145.5 L143.5 146.0 L142.5 146.0 L141.5 146.1 L140.8 146.8 L139.9 147.3 L138.9 147.1 L138.5 147.9 L137.9 148.5 L137.1 149.2 L136.3 149.8 L135.7 150.6 L134.7 151.0 L134.1 151.8 L133.6 152.7 L134.5 153.1 L134.8 154.0 L135.2 154.7 L135.4 155.6 L135.2 156.4 L134.4 156.6 L133.7 157.0 L132.9 157.0 L132.7 157.6 L132.4 158.2 L132.3 158.9 L131.9 159.4 L131.2 159.4 L130.9 160.1 L130.3 160.5 L129.6 160.3 L129.1 160.9 L128.6 161.3 L128.3 161.9 L127.9 162.3 L127.3 162.6 L126.5 162.3 L125.7 162.5 L124.9 162.4 L124.1 162.6 L123.5 162.5 L122.9 162.6 L122.3 162.7 L121.6 162.7 L121.0 162.7 L120.4 162.4 L119.8 162.6 L119.2 162.6 L118.5 163.4 L117.8 164.1 L116.8 164.6 L115.8 164.7 L114.9 165.1 L114.3 164.5 L113.4 164.7 L112.9 164.0 L112.5 163.3 L111.9 162.6 L110.9 162.4 L110.1 161.9 L110.0 160.9 L109.4 161.5 L108.5 161.8 L107.6 161.9 L106.8 161.6 L105.8 161.4 L104.9 161.3 L103.9 161.4 L102.9 161.6 L103.4 160.9 L103.6 160.0 L103.7 159.2 L103.6 158.4 L103.3 157.7 L103.0 156.9 L102.7 156.2 L102.2 155.6 L101.2 155.2 L101.4 154.2 L101.5 153.1 L102.0 152.4 L102.2 151.6 L102.8 151.0 L103.3 150.3 L103.0 149.3 L103.7 148.5 L103.7 147.6 L104.0 146.7 L103.9 146.0 L103.7 145.3 L103.4 144.6 L103.3 143.9 L103.6 143.2 L103.4 142.4 L102.8 142.0 L102.2 141.4 L101.9 140.7 L102.6 140.2 L103.4 139.7 L104.1 139.2 L105.0 139.0 L105.6 138.5 L106.1 138.0 L106.9 138.1 L107.5 137.8 L108.2 138.3 L109.1 138.6 L110.0 138.5 L110.9 138.3 L111.7 138.5 L112.5 138.6 L113.4 138.4 L114.2 138.3 L115.1 138.6 L115.9 138.8 L116.8 138.6 L117.7 138.8 L118.6 138.8 L119.5 138.8 L120.4 138.7 L121.3 138.6 L122.1 138.3 L122.9 138.5 L123.6 138.9 L124.5 139.2 L125.3 139.0 L126.1 139.2 L126.8 139.3 L127.6 139.3 L128.5 139.0 L129.4 138.6 L129.8 137.7 L130.2 136.8 L130.5 135.8 L130.5 134.8 L130.0 133.9 L129.9 132.9 L130.5 132.2 L130.8 131.2 L130.4 130.3 L130.6 129.3 L129.6 129.0 L128.6 128.7 L128.3 127.6 L127.3 127.0 L126.8 126.2 L126.9 125.2 L126.2 125.3 L125.4 125.3 L124.8 124.9 L124.1 124.5 L123.4 124.7 L122.8 124.5 L122.6 123.8 L121.9 123.5 L121.3 123.7 L120.7 123.2 L120.1 123.2 L119.5 123.5 L119.1 123.0 L118.7 122.6 L118.2 122.0 L118.5 121.3 L118.1 120.6 L118.7 120.9 L119.2 121.2 L119.8 121.5 L120.4 121.4 L120.9 121.0 L121.5 120.8 L122.0 120.5 L122.3 119.9 L123.0 119.9 L123.7 120.1 L124.4 120.1 L125.0 120.4 L125.6 120.6 L126.3 120.9 L127.0 120.7 L127.6 120.5 L128.4 120.5 L129.1 120.3 L128.8 119.4 L128.5 118.5 L128.2 117.7 L128.0 116.8 L128.5 117.1 L129.2 117.4 L129.8 117.2 L130.5 117.5 L131.6 117.7 L132.8 117.7 L133.9 117.3 L135.1 117.5 L136.0 117.4 L137.0 117.1 L137.9 116.8 L138.6 116.1 L139.5 115.7 L140.3 115.0 L140.6 114.3 L141.0 113.7 L141.0 113.0 L141.2 112.3 L142.2 112.3 L143.2 112.0 L144.0 112.3 L144.7 111.9 L145.4 111.4 L146.0 110.9 L146.7 110.7 L147.4 110.4 L148.2 109.6 L149.2 109.0 L150.2 108.6 L150.6 107.6 L150.9 107.0 L150.9 106.4 L151.3 105.9 L151.5 105.3 L152.5 104.8 L153.4 104.1 L154.1 104.3 L154.8 104.4 L155.5 104.2 L155.9 103.5 L156.8 103.4 L157.7 103.3 L158.6 103.2 L159.4 103.7 L160.3 103.4 L161.2 103.2 L162.0 103.0 L162.9 103.0 L163.3 102.5 L163.9 102.3 L164.5 102.1 L165.1 101.9 L166.1 101.6 L165.7 100.7 L165.2 99.9 L165.2 99.0 L165.1 98.1 L164.7 97.5 L164.3 96.9 L163.8 96.5 L163.3 96.1 L163.4 95.2 L163.4 94.3 L163.4 93.3 L163.6 92.4 L164.4 91.6 L165.1 90.7 L165.7 90.1 L166.6 89.8 L167.4 90.1 L168.2 90.3 L169.3 90.2 L170.3 89.6 L171.1 88.8 L172.1 88.4 L172.1 89.4 L171.8 90.3 L171.7 91.0 L171.1 91.4 L171.2 92.1 L171.1 92.8 L172.2 92.5 L173.2 93.1 L172.5 93.1 L171.8 93.1 L171.2 93.4 L170.7 94.0 L170.9 94.6 L170.8 95.3 L170.4 95.8 L170.0 96.3 L169.6 97.3 L169.3 98.4 L169.8 99.0 L170.0 99.8 L170.7 100.2 L171.5 100.4 L172.3 100.6 L172.8 101.3 L173.5 101.6 L174.3 100.9 L175.4 100.6 L176.4 100.6 L177.4 100.9 L178.1 101.0 L178.7 101.4 L179.4 101.3 L179.9 100.9 L180.6 100.6 L181.3 100.7 L181.6 100.1 L182.0 99.5 L182.8 100.0 L183.8 100.3 L184.0 101.3 L184.8 101.9 L185.9 101.4 L187.1 101.2 L187.6 101.4 L188.2 101.5 L188.8 101.4 L189.4 101.2 L190.3 101.0 L191.2 100.6 L192.2 100.4 L192.9 99.8 L193.8 99.2 L194.8 99.1 L195.8 99.0 L196.8 98.8 L197.8 99.3 L198.9 99.5 L200.0 99.8 L201.1 99.5 L200.5 100.4 L201.3 100.3 L202.0 100.0 L202.8 100.2 L203.5 100.2 L204.2 99.3 L205.3 99.1 L206.0 99.0 L206.6 98.6 L206.9 98.0 L207.4 97.6 L208.2 97.4 L208.8 97.0 L209.2 96.3 L209.2 95.6 L209.1 94.8 L209.4 94.1 L208.8 93.6 L208.8 92.8 L209.4 92.1 L210.0 91.3 L210.8 90.6 L210.8 89.6 L211.9 89.5 L212.5 88.6 L213.5 88.7 L214.5 88.4 L214.9 89.1 L215.0 89.9 L215.5 90.6 L216.2 91.0 L217.2 91.1 L218.0 91.4 L218.9 91.4 L219.8 91.0 L219.9 90.2 L220.2 89.4 L220.8 88.7 L220.8 87.8 L221.1 87.0 L221.2 86.1 L220.2 85.9 L219.4 85.4 L218.7 84.7 L217.7 84.7 L217.3 83.9 L217.9 83.7 L218.4 83.4 L219.1 83.6 L219.7 83.2 L220.3 82.9 L221.0 83.0 L221.5 82.6 L222.1 82.4 L223.2 82.5 L224.3 82.5 L225.3 81.8 L226.5 81.8 L227.4 81.3 L228.5 81.5 L229.7 81.7 L230.0 82.9 L230.8 82.2 L231.7 82.6 L232.6 82.5 L233.5 82.4 L234.4 81.9 L235.3 81.6 L236.1 81.1 L237.1 80.8 L238.2 81.0 L239.4 80.8 L240.5 80.9 L241.7 80.8 L240.8 80.8 L239.9 81.1 L239.2 80.6 L238.8 79.7 L238.0 79.4 L237.2 79.1 L236.6 78.6 L236.0 78.0 L234.9 77.7 L233.9 78.1 L232.7 78.0 L231.8 78.7 L230.7 79.0 L229.7 78.8 L228.8 79.2 L227.9 79.1 L227.0 79.6 L226.2 79.0 L225.3 79.2 L224.5 79.5 L223.7 80.0 L222.8 79.9 L222.1 80.7 L221.3 81.3 L220.2 81.1 L219.3 80.7 L218.5 80.0 L217.4 80.0 L216.9 81.1 L215.7 81.1 L215.2 80.5 L214.6 80.0 L214.1 79.3 L213.4 78.8 L212.8 78.2 L212.0 77.7 L211.3 77.1 L210.6 76.5 L210.8 75.8 L210.6 75.1 L210.2 74.3 L210.4 73.5 L210.0 72.8 L209.9 72.0 L210.0 71.3 L210.4 70.7 L210.7 70.1 L210.9 69.5 L211.4 68.8 L211.8 68.1 L212.8 68.2 L213.2 67.4 L214.0 67.3 L214.7 67.2 L215.5 67.1 L216.2 66.8 L216.9 66.7 L217.6 66.5 L218.3 66.3 L218.8 65.7 L219.5 65.5 L220.1 65.0 L220.7 64.7 L221.2 64.2 L222.0 63.6 L222.8 63.0 L223.8 63.5 L224.7 62.8 L224.5 61.7 L223.7 61.0 L222.6 61.1 L221.7 60.7 L220.7 60.4 L219.9 59.8 L219.0 60.1 L218.1 59.9 L217.3 60.3 L216.5 60.8 L215.6 60.7 L214.7 60.9 L213.8 60.8 L212.9 60.7 L212.3 60.8 L211.7 61.1 L211.3 61.6 L211.3 62.2 L210.5 63.1 L209.5 63.7 L208.9 64.7 L208.4 65.7 L207.7 65.6 L207.1 65.9 L206.7 66.5 L206.4 67.0 L205.8 67.4 L205.3 67.9 L204.6 67.9 L203.9 67.8 L203.3 68.0 L202.7 68.2 L202.1 68.6 L201.8 69.1 L200.7 69.4 L199.8 69.9 L198.8 70.3 L197.9 70.9 L197.3 71.1 L196.9 71.6 L196.4 71.9 L195.8 72.0 L195.8 72.6 L196.1 73.2 L196.2 73.8 L196.1 74.4 L195.2 75.0 L194.9 76.0 L195.4 76.9 L195.2 78.0 L195.9 78.2 L196.3 78.7 L196.7 79.3 L197.4 79.5 L198.0 79.3 L198.7 79.5 L199.4 79.6 L200.0 79.7 L200.5 80.4 L200.5 81.2 L200.8 82.0 L201.4 82.5 L200.7 82.6 L200.0 82.6 L199.3 82.6 L198.6 82.9 L198.1 83.6 L197.1 83.5 L197.0 84.4 L196.5 85.0 L195.7 85.4 L194.7 85.4 L193.8 85.4 L192.9 85.5 L193.5 86.4 L193.4 87.4 L193.4 88.3 L193.7 89.2 L193.2 89.9 L193.1 90.8 L192.7 91.5 L192.4 92.2 L191.8 92.8 L191.3 93.5 L190.6 93.8 L189.8 94.0 L188.9 94.6 L187.9 94.7 L186.9 94.6 L185.9 94.5 L185.4 94.9 L184.9 95.3 L184.6 96.0 L184.8 96.6 L183.8 96.5 L182.7 96.6 L181.7 96.8 L180.6 96.6 L180.6 95.9 L179.9 95.2 L179.5 94.2 L179.7 93.2 L180.1 92.2 L179.6 91.8 L179.3 91.2 L178.7 91.0 L178.2 90.6 L177.7 90.1 L177.2 89.7 L176.7 89.2 L176.7 88.5 L175.8 88.4 L175.3 87.5 L174.8 86.9 L174.2 86.2 L174.0 85.1 L173.9 83.9 L173.2 83.9 L172.6 83.6 L172.3 83.0 L171.8 82.5 L171.8 81.5 L172.6 80.8 L172.3 81.5 L171.9 82.2 L171.7 83.1 L171.1 83.6 L170.5 83.8 L169.8 83.8 L169.2 84.0 L168.6 83.9 L167.6 83.9 L166.8 84.5 L166.9 85.5 L166.2 86.3 L165.4 86.6 L164.7 87.1 L163.8 87.1 L162.9 86.9 L162.1 87.3 L161.3 87.3 L160.4 87.1 L159.6 87.5 L158.7 87.0 L157.7 87.2 L156.7 86.9 L155.9 86.4 L155.9 85.7 L155.4 85.2 L155.1 84.7 L154.8 84.1 L153.9 83.4 L153.1 82.5 L153.2 81.6 L153.7 80.8 L153.5 79.9 L153.4 79.0 L153.4 78.3 L153.1 77.7 L152.7 77.1 L152.0 76.9 L152.2 76.2 L152.4 75.5 L152.1 74.8 L152.3 74.1 L153.2 73.4 L154.1 72.7 L154.8 72.6 L155.5 72.4 L156.0 71.9 L156.6 71.6 L157.3 71.3 L158.0 71.1 L158.7 71.1 L159.4 71.0 L160.2 70.9 L160.7 70.4 L161.3 70.0 L161.9 69.5 L162.6 69.3 L163.4 68.9 L163.9 68.3 L164.7 68.1 L165.7 67.7 L166.5 67.0 L167.0 66.5 L167.7 66.2 L168.3 66.1 L169.0 65.9 L169.8 66.2 L170.5 66.1 L171.0 65.5 L171.8 65.2 L172.7 64.9 L173.7 64.7 L174.8 64.5 L175.3 63.5 L175.8 62.5 L176.9 62.4 L177.3 61.6 L178.1 61.0 L178.8 60.6 L179.5 60.1 L179.9 59.4 L180.6 58.9 L181.2 58.4 L181.8 57.8 L182.6 57.5 L183.0 56.7 L183.6 56.1 L184.3 55.7 L184.9 55.2 L185.5 54.7 L185.8 53.9 L186.5 53.5 L187.3 53.3 L187.6 52.5 L188.7 52.7 L189.5 51.9 L190.1 51.0 L191.2 50.8 L192.0 50.3 L192.9 49.9 L193.7 49.3 L194.7 49.4 L195.3 48.5 L196.2 47.7 L197.2 47.2 L198.2 46.9 L199.2 47.0 L200.2 47.1 L201.2 46.7 L201.8 45.8 L202.4 46.3 L203.1 46.4 L203.8 46.1 L204.6 46.1 L205.2 45.7 L205.8 45.3 L206.4 45.0 L207.1 44.8 L207.7 44.6 L208.4 44.4 L208.9 43.9 L209.6 43.8 L210.3 43.6 L211.0 44.0 L211.7 44.0 L212.4 43.7 L213.2 43.4 L214.1 43.4 L214.9 43.6 L215.5 44.2 L216.3 44.0 L217.0 43.5 L217.6 43.0 L218.4 42.7 L219.0 41.8 L219.7 40.9 L220.5 40.2 L221.7 40.0 L222.7 40.5 L223.6 41.2 L224.7 41.2 L225.8 41.1 L226.7 41.7 L227.9 41.7 L228.9 41.7 L230.0 41.6 L230.5 42.2 L231.2 42.4 L231.9 42.5 L232.6 42.3 L233.3 41.9 L234.0 42.0 L234.6 41.9 L235.3 42.0 L236.0 42.2 L236.7 42.2 L237.4 42.4 L237.9 42.8 L238.6 43.1 L239.2 43.6 L239.9 43.4 L240.6 43.4 L241.6 43.5 L242.6 43.6 L243.5 43.8 L244.5 43.9 L243.5 44.6 L242.3 44.5 L241.3 45.0 L240.6 45.8 L241.5 46.2 L242.4 46.1 L243.3 45.9 L244.1 46.3 L245.0 46.3 L245.9 46.0 L246.8 46.1 L247.7 45.8 L248.7 45.7 L249.6 46.1 L250.5 46.5 L251.2 47.3 L252.1 46.9 L253.0 46.9 L253.9 46.7 L254.8 47.0 L255.7 47.2 L256.5 47.5 L257.4 47.7 L258.2 48.0 L259.1 48.5 L259.7 49.2 L260.7 49.3 L261.6 49.4 L262.8 49.4 L263.4 48.4 L264.3 48.9 L265.3 49.0 L266.5 49.5 L267.8 49.2 L268.7 50.1 L269.5 50.9 L270.8 51.0 L271.9 50.5 L273.1 50.6 L274.1 51.1 L274.9 51.1 L275.6 51.0 L276.3 51.5 L277.1 51.5 L277.6 52.2 L278.4 52.1 L278.9 52.7 L279.4 53.3 L280.2 53.8 L280.5 54.6 L280.7 55.5 L280.5 56.4 L279.9 56.5 L279.3 56.6 L278.7 56.8 L278.1 57.0 L277.7 57.5 L277.1 57.7 L276.4 57.9 L275.9 58.2 L274.9 58.3 L274.3 59.1 L273.4 59.0 L272.4 59.2 L271.5 59.0 L270.7 58.8 L269.8 58.9 L268.8 58.9 L267.7 59.2 L266.6 58.9 L265.4 58.6 L264.3 59.1 L263.2 59.1 L262.0 59.0 L261.2 58.1 L260.0 57.8 L259.1 57.8 L258.2 57.2 L257.3 57.3 L256.4 57.7 L255.5 57.5 L254.6 57.6 L253.8 57.2 L253.0 56.8 L251.9 56.6 L251.1 56.0 L250.1 55.6 L249.1 55.4 L249.9 55.2 L250.7 55.3 L251.2 56.1 L252.2 55.8 L252.5 56.6 L253.3 57.0 L253.2 57.8 L253.7 58.5 L254.4 59.3 L255.5 59.5 L256.5 59.4 L257.5 59.6 L257.8 60.8 L257.4 61.9 L257.1 63.0 L256.8 64.2 L257.6 64.5 L258.3 64.9 L259.2 64.5 L260.0 64.9 L261.0 64.9 L262.0 65.1 L262.7 65.8 L263.5 66.3 L264.2 66.0 L264.9 66.0 L265.6 66.2 L266.2 65.9 L266.8 66.3 L267.5 66.4 L268.1 66.9 L268.8 66.7 L268.2 65.9 L268.0 64.9 L267.5 64.1 L266.7 63.5 L267.7 63.6 L268.7 64.0 L269.6 63.5 L270.6 63.5 L271.5 63.3 L272.4 63.1 L273.3 63.5 L274.1 63.9 L275.1 64.0 L275.8 64.6 L276.7 64.1 L277.7 64.4 L277.2 63.7 L276.7 63.1 L276.2 62.5 L275.9 61.7 L277.0 61.5 L278.1 61.1 L278.7 60.1 L279.4 59.3 L280.6 59.0 L281.8 59.0 L282.8 58.3 L283.7 57.5 L284.5 57.2 L285.3 57.7 L286.1 57.9 L286.8 58.3 L287.6 58.5 L288.4 58.8 L289.2 59.0 L290.0 58.5 L290.6 57.8 L290.3 56.9 L290.2 56.1 L290.7 55.4 L290.4 54.4 L290.0 53.4 L289.1 52.9 L288.3 52.2 L288.1 51.1 L287.5 50.1 L288.6 50.3 L289.7 50.1 L290.8 49.7 L291.8 50.4 L291.8 51.4 L292.6 51.9 L293.4 51.8 L294.2 51.9 L295.0 51.5 L295.7 52.0 L296.4 51.8 L297.1 51.5 L297.8 52.4 L298.8 52.9 L299.4 53.4 L300.0 53.9 L300.7 53.6 L301.5 53.4 L302.2 53.5 L302.8 53.9 L303.4 53.6 L304.1 53.6 L305.0 53.3 L305.9 53.0 L306.8 53.2 L307.8 53.3 L308.5 52.6 L309.5 52.7 L310.3 52.4 L311.2 52.2 L312.5 52.4 L313.5 53.2 L314.5 52.4 L315.8 52.2 L317.0 52.1 L318.2 51.9 L318.9 51.0 L320.0 50.4 L320.9 50.7 L321.8 51.1 L322.4 50.8 L323.0 50.5 L323.7 50.0 L324.4 50.4 L325.1 50.7 L325.7 50.8 L326.4 51.0 L327.1 51.1 L327.8 51.4 L328.4 51.8 L329.1 51.4 L329.9 51.4 L330.6 51.0 L331.4 51.2 L331.7 50.5 L332.4 50.1 L333.7 49.9 L334.4 48.7 L335.5 48.4 L336.6 47.8 L337.7 48.2 L338.8 48.6 L340.1 48.6 L341.2 49.0 L341.8 48.5 L342.5 48.2 L342.8 47.4 L343.5 47.0 L344.2 47.0 L345.0 46.9 L345.7 47.1 L346.5 46.9 L347.0 46.3 L347.5 45.8 L348.3 45.8 L349.0 45.5 L350.1 45.9 L351.2 46.3 L352.4 46.4 L353.6 46.6 L354.5 47.0 L355.0 47.8 L356.0 48.0 L356.9 48.0 L357.9 48.1 L358.8 48.4 L359.8 48.1 L360.6 47.6 L361.5 47.5 L362.4 47.8 L363.4 47.8 L364.2 47.4 L365.0 47.9 L366.0 47.7 L366.9 47.9 L367.7 48.3 L368.2 48.6 L368.7 49.0 L369.0 49.6 L369.4 50.1 L370.1 49.9 L370.7 49.9 L371.4 50.0 L371.9 50.4 L372.8 50.8 L373.5 51.5 L374.5 51.4 L375.4 51.1 L376.2 50.6 L377.2 50.6 L377.6 49.7 L378.3 49.0 L377.5 49.8 L376.5 49.4 L375.6 49.3 L374.8 49.0 L374.2 48.2 L373.4 47.9 L372.6 47.5 L371.9 46.9 L371.7 46.1 L371.7 45.3 L371.3 44.4 L370.5 44.1 L371.4 44.0 L372.1 43.4 L372.2 42.5 L372.3 41.6 L372.7 41.1 L373.1 40.7 L373.3 39.9 L374.1 39.7 L374.7 39.6 L375.4 39.6 L375.9 39.2 L376.5 38.8 L376.7 37.9 L377.3 37.2 L378.2 37.2 L379.0 36.7 M387.1 36.7 L388.2 37.1 L389.3 37.0 L390.4 37.4 L391.3 38.1 L391.4 39.0 L391.4 39.9 L391.1 40.7 L391.0 41.6 L391.7 42.6 L391.7 43.7 L391.3 44.8 L391.5 45.9 L390.8 46.7 L390.3 47.6 L390.1 48.4 L390.2 49.3 L390.7 50.0 L391.0 50.8 L392.0 50.7 L393.0 50.9 L393.4 52.0 L394.5 52.2 L394.1 52.9 L393.4 53.2 L393.3 54.0 L393.1 54.7 L392.7 55.2 L392.4 55.8 L392.0 56.4 L391.4 56.7 L390.8 56.8 L390.1 56.9 L389.5 57.1 L388.9 57.1 L389.3 58.1 L390.3 58.5 L391.1 57.8 L391.8 57.1 L393.0 57.2 L393.9 56.4 L394.9 56.0 L396.0 55.9 L396.9 55.4 L397.7 54.7 L398.2 54.2 L398.9 53.9 L399.3 53.4 L399.8 52.9 L400.7 52.6 L401.5 52.2 L402.3 52.6 L403.2 52.9 L404.0 52.6 L404.9 52.8 L405.7 53.0 L406.5 53.3 L407.3 52.9 L408.0 53.2 L408.4 53.9 L409.1 54.3 L409.7 54.6 L410.5 54.4 L411.1 54.5 L411.8 54.7 L412.0 53.6 L411.9 52.5 L410.7 52.4 L410.0 51.5 L409.2 51.2 L408.3 51.2 L407.6 51.8 L407.0 52.4 L406.2 51.9 L406.1 51.0 L405.4 50.6 L404.7 50.1 L403.6 49.9 L402.5 49.9 L401.5 49.6 L400.5 49.0 L400.3 47.9 L399.5 47.0 L398.8 46.0 L398.0 45.1 L397.5 44.3 L397.1 43.4 L396.2 43.0 L395.2 42.7 L395.4 41.7 L395.6 40.8 L396.1 40.0 L397.0 39.5 L397.6 39.5 L398.2 39.1 L398.6 38.6 L398.9 38.1 L399.2 37.5 L399.6 37.0 L400.1 36.4 L400.9 36.7 M410.7 36.7 L411.3 37.4 L411.9 38.1 L412.6 38.7 L413.6 38.8 L412.9 39.2 L412.1 39.4 L411.6 40.1 L411.5 40.9 L412.5 40.6 L413.6 41.0 L414.5 41.6 L415.4 42.1 L416.2 41.1 L416.4 39.8 L417.6 40.2 L418.9 39.8 L419.4 40.4 L419.7 41.1 L419.9 41.8 L420.6 42.3 L421.3 42.3 L422.1 42.1 L422.8 42.1 L423.5 41.6 L424.5 42.1 L425.7 42.2 L425.7 43.4 L426.3 44.4 L426.5 43.7 L427.0 43.2 L427.4 42.6 L427.7 42.0 L427.2 41.6 L426.7 41.2 L426.8 40.6 L427.1 40.0 L426.6 39.2 L425.9 38.4 L424.9 38.5 L424.0 37.8 L423.2 37.2 L422.4 36.7 M501.8 36.7 L502.5 36.3 L503.1 35.9 L503.7 36.4 L504.5 36.5 L505.1 36.5 L505.8 36.5 L506.5 36.5 L507.1 36.3 L508.0 36.6 L509.0 36.6 L509.8 36.1 L510.7 35.6 L511.6 35.8 L512.6 35.6 L513.6 35.8 L514.2 36.7 L515.2 36.3 L516.3 36.0 L517.5 35.8 L518.6 35.5 L519.8 35.6 L521.0 35.2 L521.8 36.3 L523.0 36.7 M533.6 36.7 L534.4 36.2 L535.3 36.0 L536.2 35.7 L537.1 35.6 L536.4 35.3 L536.0 34.8 L535.4 34.3 L535.4 33.5 M583.0 36.7 L583.7 36.9 L584.4 37.4 L585.1 37.6 L585.8 37.9 L586.5 38.3 L587.0 38.9 L587.9 38.8 L588.7 38.8 L589.6 38.9 L590.5 39.2 L591.4 39.6 L591.8 40.6 L592.9 40.6 L594.0 41.1 L594.9 41.6 L596.1 41.6 L596.7 41.0 L597.5 40.7 L598.1 40.1 L598.9 39.8 L599.8 39.6 L600.6 39.1 L601.7 39.3 L602.4 38.4 L603.3 39.0 L604.0 39.8 L604.9 40.3 L606.0 40.2 L607.1 40.3 L608.0 41.0 L609.0 40.5 L610.0 40.2 L611.0 39.8 L612.0 39.6 L613.1 40.1 L614.1 39.5 M257.9 188.0 L258.3 188.6 L258.5 189.3 L258.6 190.0 L259.1 190.6 L258.9 191.5 L258.1 191.8 L258.0 192.6 L258.2 193.3 L258.7 194.1 L259.5 194.4 L260.1 194.9 L260.7 195.4 L261.3 195.9 L261.5 196.7 L262.0 197.2 L262.7 197.6 L263.3 198.1 L263.7 198.8 L263.7 199.6 L263.5 200.4 L264.0 201.5 L265.0 202.1 L265.7 203.0 L266.4 203.9 L267.4 204.4 L267.5 205.6 L268.0 206.4 L268.1 207.4 L268.9 207.9 L269.7 208.4 L270.2 209.1 L270.6 209.9 L271.1 210.6 L271.3 211.4 L271.6 212.3 L272.1 213.0 L272.6 213.7 L272.9 214.5 L272.8 215.4 L273.1 216.2 L273.7 216.6 L274.2 217.0 L274.5 217.6 L274.4 218.4 L274.0 219.0 L274.1 219.7 L274.6 220.2 L274.8 220.8 L275.3 221.3 L275.8 221.8 L275.7 222.5 L276.2 223.0 L276.5 223.6 L277.2 223.8 L277.4 224.5 L277.7 225.1 L278.5 226.0 L278.5 227.1 L279.4 227.8 L280.1 228.6 L280.4 229.8 L281.3 230.5 L281.9 231.6 L283.0 232.1 L284.0 232.3 L285.1 232.5 L284.6 233.0 L284.4 233.7 L284.6 234.4 L285.0 235.0 L285.5 235.5 L285.6 236.1 L285.8 236.8 L285.8 237.4 L286.0 238.3 L286.3 239.2 L286.0 240.1 L286.5 240.9 L286.6 242.0 L286.6 243.1 L286.8 244.2 L287.2 245.2 L286.6 245.9 L286.9 246.8 L287.7 247.0 L288.3 247.6 L288.9 247.5 L289.5 247.8 L290.1 247.8 L290.7 247.6 L291.6 247.7 L292.3 248.0 L292.9 247.4 L293.5 246.9 L294.3 247.1 L295.1 247.1 L295.9 247.0 L296.4 246.4 L297.0 246.0 L297.7 245.7 L298.2 245.2 L298.8 244.8 L299.6 244.6 L300.4 244.6 L300.8 244.0 L301.4 243.5 L302.0 243.0 L302.7 242.8 L303.4 242.9 L304.1 242.7 L305.1 242.4 L306.1 241.9 L307.1 241.6 L308.0 240.9 L308.7 240.7 L309.2 240.3 L309.8 239.8 L310.2 239.4 L310.7 238.6 L311.6 238.6 L312.4 238.6 L313.0 239.2 L313.7 238.8 L314.4 238.4 L315.3 238.8 L316.1 238.5 L316.8 238.1 L317.6 238.0 L318.4 237.7 L319.0 237.1 L318.9 236.2 L319.6 235.7 L319.1 235.0 L319.3 234.2 L320.4 233.8 L321.5 233.8 L322.5 233.2 L323.6 232.8 L324.7 232.7 L325.7 232.1 L326.7 232.0 L327.6 231.4 L328.6 231.2 L329.6 230.7 L329.9 230.1 L330.3 229.5 L330.7 228.9 L331.3 228.6 L331.8 227.8 L332.7 227.3 L333.5 227.7 L334.5 227.5 L335.2 226.8 L336.2 226.6 L337.1 226.2 L338.0 225.7 L338.7 225.1 L338.6 224.5 L338.4 223.9 L339.0 223.5 L339.2 223.0 L338.7 222.6 L338.5 222.0 L338.4 221.4 L338.7 220.8 L339.4 221.0 L340.0 220.7 L340.8 220.8 L341.2 220.1 L341.7 219.6 L342.0 219.0 L342.4 218.4 L343.0 218.0 L343.0 217.2 L343.3 216.4 L344.1 216.0 L344.8 215.6 L344.8 214.8 L344.8 214.0 L345.6 213.6 L345.8 212.7 L345.4 212.2 L344.8 211.9 L344.3 211.5 L343.7 211.3 L343.1 210.7 L342.8 209.9 L342.3 209.3 L341.6 208.8 L340.8 208.5 L340.1 208.7 L339.4 208.3 L338.7 208.1 L338.0 208.3 L337.2 208.2 L336.4 208.0 L335.9 207.4 L335.2 207.3 L334.6 207.0 L334.2 206.4 L334.1 205.7 L334.2 205.0 L333.6 204.5 L333.5 203.8 L333.4 203.2 L333.8 202.2 L333.4 201.2 L333.5 200.2 L333.8 199.3 L333.3 199.8 L332.7 200.0 L332.2 200.4 L331.8 200.9 L331.3 201.3 L331.0 201.8 L330.7 202.7 L329.9 203.2 L329.1 203.9 L328.3 204.5 L327.5 205.2 L326.7 206.0 L325.8 205.9 L324.9 205.9 L324.3 206.5 L323.6 207.1 L322.7 207.0 L321.8 207.0 L321.0 206.6 L320.0 206.7 L319.3 206.9 L319.0 207.7 L318.3 207.6 L317.6 207.4 L317.6 206.6 L317.2 206.0 L317.0 205.3 L316.8 204.6 L316.7 203.8 L316.6 203.0 L316.8 202.2 L316.8 201.4 L316.3 200.7 L315.8 200.0 L315.3 200.4 L314.7 200.7 L314.7 201.6 L314.7 202.4 L314.1 203.1 L314.0 203.9 L313.5 203.0 L313.0 202.1 L312.8 201.5 L312.7 200.8 L312.3 200.2 L311.9 199.7 L311.3 198.9 L310.6 198.3 L309.9 197.7 L309.4 196.8 L308.7 196.3 L308.2 195.6 L307.7 194.9 L307.0 194.4 L306.5 193.6 L305.8 193.2 L305.8 192.4 L305.9 191.6 L305.4 190.9 L305.3 190.1 L304.5 190.1 L303.8 189.8 L303.8 189.0 L304.1 188.4 L304.5 187.8 L305.0 187.3 L305.4 186.8 L305.9 186.3 L306.6 185.4 L307.7 185.2 L308.5 185.4 L309.4 185.7 L310.3 186.3 L311.2 185.9 L311.7 186.3 L312.0 186.8 L312.3 187.4 L312.3 188.0 L312.8 188.5 L313.1 189.1 L313.8 189.5 L314.0 190.1 L314.3 190.7 L314.6 191.2 L315.2 191.4 L315.6 191.9 L315.9 192.4 L316.4 192.8 L316.8 193.4 L316.5 194.0 L317.5 194.1 L318.3 194.5 L319.3 194.8 L320.0 195.4 L320.9 195.9 L321.9 196.3 L322.7 196.9 L323.6 197.5 L324.5 197.4 L325.5 197.6 L326.3 198.0 L327.1 198.6 L328.0 198.4 L328.8 198.0 L329.7 197.9 L330.6 197.5 L331.5 197.3 L331.9 196.5 L332.6 196.2 L333.4 196.1 L334.0 196.6 L334.7 196.5 L335.1 197.2 L335.9 197.2 L336.1 198.2 L336.7 199.1 L337.3 200.0 L337.0 201.1 L338.0 201.2 L338.7 201.8 L339.4 202.1 L340.2 202.1 L341.0 202.2 L341.7 202.2 L342.5 202.3 L343.2 202.8 L343.9 202.5 L344.7 202.5 L345.6 202.9 L346.7 202.9 L347.6 203.0 L348.6 202.8 L349.5 202.8 L350.4 203.0 L351.2 203.3 L352.1 203.2 L352.8 203.1 L353.5 202.8 L354.0 203.2 L354.6 203.5 L355.7 203.1 L356.8 203.6 L357.8 203.6 L358.9 203.2 L359.8 203.5 L360.8 203.6 L361.8 203.6 L362.7 203.2 L363.2 202.7 L363.8 202.3 L364.5 202.1 L365.0 201.7 L365.6 202.2 L366.2 202.7 L367.0 202.8 L367.7 202.5 L368.2 203.4 L369.2 204.0 L370.2 204.4 L371.2 204.6 L372.2 204.8 L373.0 205.5 L373.1 206.4 L373.0 207.4 L374.0 207.6 L374.7 208.4 L375.6 208.9 L376.5 209.2 L377.4 209.8 L378.1 210.7 L379.1 211.1 L380.0 211.7 L380.8 211.4 L381.5 211.9 L382.2 211.7 L382.9 211.3 L382.4 211.7 L381.8 211.9 L381.2 211.5 L380.5 211.7 L380.0 212.3 L380.3 213.0 L379.6 213.1 L379.0 213.4 L378.6 213.9 L378.3 214.5 L378.1 215.2 L378.5 215.9 L379.1 216.2 L379.7 216.6 L380.0 217.3 L380.4 217.8 L381.1 218.0 L381.8 218.0 L382.6 218.6 L383.4 219.2 L384.3 218.6 L385.3 219.1 L386.4 219.0 L387.5 219.0 L388.3 218.3 L388.9 217.3 L389.8 216.8 L390.6 216.2 L390.7 215.6 L391.0 215.0 L391.2 214.4 L391.0 213.8 L391.2 214.8 L392.0 215.6 L391.7 216.6 L391.7 217.7 L391.7 218.7 L392.1 219.6 L392.2 220.6 L391.7 221.5 L391.5 222.5 L391.1 223.3 L391.7 224.1 L391.7 225.1 L392.4 225.5 L392.4 226.4 L392.0 227.0 L392.0 227.8 L392.2 228.4 L392.1 229.1 L392.5 229.7 L392.7 230.4 L393.2 230.8 L393.5 231.4 L393.6 232.0 L394.0 232.5 L393.8 233.1 L393.6 233.7 L393.7 234.3 L393.8 234.9 L394.2 235.5 L394.6 236.1 L395.1 236.7 L395.2 237.4 L395.6 237.9 L395.9 238.4 L396.5 238.5 L397.1 238.7 L396.9 239.9 L397.3 240.9 L397.4 241.7 L397.8 242.3 L398.2 243.0 L398.2 243.7 L398.2 244.5 L398.3 245.2 L398.5 245.9 L398.7 246.6 L399.1 247.1 L399.6 247.6 L399.5 248.3 L399.3 248.9 L399.9 249.3 L400.2 249.8 L400.4 250.4 L400.9 250.8 L401.5 251.5 L402.3 251.6 L402.4 252.5 L402.6 253.3 L402.9 254.2 L403.2 255.0 L403.1 256.0 L403.7 256.8 L403.6 257.8 L404.1 258.6 L404.6 259.4 L404.7 260.3 L405.4 260.8 L405.9 261.3 L406.3 261.9 L406.9 262.5 L407.7 263.0 L408.5 263.6 L408.7 262.7 L409.4 262.1 L410.1 261.7 L410.7 261.1 L411.5 260.6 L412.0 259.9 L412.8 259.6 L413.6 259.3 L413.5 258.3 L414.1 257.5 L414.3 256.6 L414.6 255.8 L415.5 255.3 L416.4 255.8 L416.4 254.9 L416.3 254.0 L416.4 253.1 L416.4 252.2 L416.2 251.1 L416.1 249.9 L416.7 248.9 L417.5 248.0 L417.6 246.9 L418.2 245.9 L418.7 245.4 L419.1 244.8 L418.8 244.1 L418.9 243.3 L418.6 242.7 L418.8 241.9 L418.2 241.5 L417.8 240.9 L417.7 240.1 L417.8 239.2 L418.3 238.3 L419.0 237.6 L419.6 236.7 L420.6 236.4 L421.3 236.4 L422.1 236.3 L422.5 235.7 L423.2 235.4 L423.5 234.7 L424.1 234.3 L424.4 233.5 L425.2 233.5 L425.4 232.9 L425.5 232.2 L426.0 231.6 L426.6 231.2 L427.2 231.0 L427.7 230.5 L428.3 230.2 L428.7 229.7 L429.2 228.8 L430.0 228.4 L430.7 227.8 L431.6 227.5 L432.3 226.6 L433.1 225.7 L433.9 224.9 L434.8 224.0 L435.5 223.6 L436.3 223.3 L437.1 223.0 L437.6 222.2 L438.2 221.8 L438.6 221.2 L439.4 221.4 L440.0 220.8 L440.5 220.3 L440.7 219.8 L441.1 219.3 L441.5 218.7 L441.4 218.0 L441.0 217.4 L441.4 216.8 L441.8 216.2 L442.8 216.0 L443.5 215.3 L444.4 215.3 L445.3 215.5 L446.2 215.7 L447.1 215.9 L447.9 215.4 L448.9 215.2 L449.6 215.1 L450.3 215.1 L450.9 214.5 L451.7 214.8 L452.3 214.6 L453.0 214.5 L453.6 214.2 L454.2 213.8 L454.5 213.2 L454.7 212.6 L455.3 212.5 L455.9 212.4 L456.6 212.8 L457.3 213.0 L457.9 213.7 L458.8 213.4 L458.9 214.3 L459.1 215.2 L459.2 216.1 L459.5 217.0 L460.1 218.0 L460.5 219.1 L461.0 219.6 L461.6 220.1 L462.0 220.8 L462.6 221.2 L463.6 221.5 L464.2 222.3 L464.5 223.2 L465.1 224.0 L465.0 224.9 L465.7 225.5 L465.9 226.3 L466.5 226.8 L466.5 227.5 L466.6 228.1 L466.8 228.6 L467.2 229.1 L467.4 229.7 L467.8 230.2 L467.8 230.8 L467.9 231.4 L467.8 232.0 L467.7 232.6 L467.1 232.9 L466.8 233.5 L467.2 234.6 L467.6 235.7 L468.3 235.6 L469.0 235.4 L469.6 235.8 L470.0 236.4 L470.9 235.9 L471.8 236.0 L472.5 235.4 L473.3 235.1 L473.8 234.3 L474.6 233.9 L475.3 233.5 L476.0 233.5 L476.8 233.2 L477.1 232.5 L477.7 232.7 L478.4 232.8 L478.7 233.5 L479.2 233.9 L479.6 234.5 L479.8 235.1 L480.3 235.7 L480.4 236.4 L480.4 237.1 L480.4 237.8 L480.3 238.5 L479.9 239.2 L480.4 240.0 L480.6 240.9 L480.5 241.7 L481.1 242.3 L481.2 243.0 L481.3 243.7 L481.7 244.3 L481.7 245.0 L482.0 245.6 L482.4 246.2 L482.7 247.1 L482.9 248.0 L482.4 248.8 L482.4 249.8 L482.1 250.6 L481.8 251.5 L481.4 252.4 L481.8 253.3 L482.2 254.2 L482.8 254.9 L482.5 255.9 L482.8 256.8 L482.1 257.5 L481.6 258.4 L481.5 259.4 L481.7 260.3 L481.3 261.3 L481.8 262.1 L482.0 263.0 L481.7 263.9 L482.5 264.3 L483.5 264.2 L484.0 264.6 L484.5 264.9 L485.1 265.2 L485.5 265.7 L485.6 266.3 L485.7 266.9 L485.9 267.5 L485.9 268.1 L486.6 268.4 L487.2 268.7 L487.4 269.5 L488.1 269.9 L488.3 270.7 L488.2 271.5 L488.5 272.3 L488.8 273.0 L488.6 273.9 L489.0 274.7 L489.1 275.7 L489.8 276.2 L490.4 277.1 L491.2 277.7 L490.8 278.8 L491.2 279.8 L492.1 280.5 L492.6 281.5 L493.4 282.3 L494.1 283.1 L494.8 284.0 L495.8 284.3 L496.2 285.0 L496.9 285.1 L497.3 285.7 L498.0 285.9 L498.4 286.4 L498.7 287.0 L499.5 286.9 L500.1 287.5 L501.1 287.5 L502.0 287.1 L502.9 287.2 L502.4 286.8 L502.0 286.3 L502.0 285.7 L502.0 285.1 L501.8 283.9 L501.1 282.9 L500.8 281.8 L500.8 280.7 L500.2 279.7 L499.7 278.7 L499.5 278.0 L499.3 277.3 L499.4 276.6 L499.3 275.9 L498.9 275.4 L498.4 274.8 L498.1 274.1 L498.3 273.4 L497.7 272.6 L497.5 271.6 L496.7 271.0 L495.8 270.6 L495.0 269.8 L493.9 269.4 L493.1 268.6 L492.3 267.8 L491.5 267.8 L490.8 267.9 L490.2 267.4 L489.8 266.7 L489.7 265.8 L489.4 264.9 L489.0 264.1 L488.8 263.2 L488.3 262.4 L488.5 261.6 L488.4 260.8 L487.7 260.3 L487.3 259.7 L487.1 258.9 L487.1 258.1 L487.0 257.3 L486.5 256.7 L485.9 256.2 L485.5 255.5 L484.9 255.1 L485.6 254.4 L485.8 253.4 L485.7 252.5 L485.9 251.5 L485.9 250.5 L486.6 249.8 L487.1 248.9 L487.3 248.0 L487.6 247.3 L487.6 246.6 L487.5 245.9 L487.7 245.2 L488.6 244.9 L489.5 244.5 L489.7 245.3 L489.8 246.3 L490.4 246.9 L491.2 247.3 L492.1 247.7 L492.9 248.3 L493.9 248.7 L494.8 249.1 L495.7 249.2 L496.6 249.5 L496.6 250.6 L497.6 251.2 L497.7 252.3 L498.3 253.3 L499.0 253.5 L499.3 254.2 L499.8 254.8 L500.4 255.1 L501.2 255.1 L502.0 255.2 L502.7 255.6 L503.6 255.4 L504.4 256.0 L504.2 257.0 L504.4 257.8 L504.6 258.6 L504.4 259.4 L504.3 260.2 L504.8 260.9 L504.6 261.8 L505.5 261.6 L506.4 261.4 L506.9 260.8 L507.1 260.0 L507.9 260.0 L508.6 260.1 L509.3 259.9 L510.0 259.8 L510.5 259.3 L510.6 258.6 L511.0 257.8 L511.2 257.0 L511.3 256.2 L511.7 255.4 L512.4 255.3 L513.0 255.5 L513.6 255.4 L514.2 255.1 L514.9 254.3 L515.9 254.0 L516.9 253.8 L517.6 253.3 L518.3 252.6 L519.1 252.2 L519.8 251.4 L520.2 250.5 L520.3 249.7 L520.2 249.0 L519.9 248.2 L520.3 247.5 L520.7 246.8 L520.9 246.0 L521.0 245.2 L520.5 244.5 L520.2 243.8 L520.4 243.0 L520.7 242.3 L521.0 241.6 L521.1 240.8 L520.5 240.3 L519.9 239.8 L519.5 239.2 L519.7 238.5 L519.6 237.8 L519.1 237.3 L518.9 236.6 L518.1 236.6 L517.4 236.5 L516.9 236.0 L516.6 235.3 L516.0 235.2 L515.3 235.0 L514.9 234.4 L514.4 233.9 L514.0 233.2 L513.9 232.5 L513.2 232.3 L512.4 232.1 L512.1 231.1 L511.9 230.0 L511.3 229.1 L510.3 228.6 L509.7 228.0 L509.0 227.6 L508.8 226.7 L508.2 226.1 L508.7 225.5 L508.7 224.6 L508.6 223.8 L507.8 223.3 L508.4 223.0 L509.1 223.0 L509.8 222.7 L510.1 222.1 L510.3 221.4 L510.4 220.8 L511.0 220.4 L511.4 219.8 L511.7 218.7 L512.5 217.8 L513.1 217.5 L513.7 217.4 L514.0 216.8 L514.2 216.2 L515.1 216.1 L516.0 216.3 L516.8 215.9 L517.7 215.5 L518.5 216.0 L519.5 216.2 L520.2 216.0 L520.9 216.3 L521.6 216.2 L522.3 216.6 L523.1 217.4 L523.8 218.3 L523.7 219.4 L524.1 220.5 L524.2 219.7 L524.3 218.9 L524.5 218.1 L524.8 217.3 L525.7 217.0 L526.7 217.2 L527.2 216.3 L528.3 216.2 L529.2 216.2 L530.1 215.9 L530.6 215.2 L531.5 214.8 L532.6 214.4 L533.6 213.8 L534.7 213.4 L535.7 212.7 L536.8 212.8 L537.8 213.4 L538.5 213.5 L539.1 213.1 L539.4 212.6 L540.0 212.2 L540.6 212.4 L541.2 212.1 L541.8 211.9 L542.4 211.7 L543.2 211.1 L544.2 211.4 L545.1 211.2 L545.9 211.0 L546.7 210.6 L547.1 209.8 L547.6 209.1 L548.4 208.8 L548.7 207.9 L548.9 207.0 L549.6 206.4 L550.2 205.7 L551.0 205.2 L551.8 204.5 L552.7 204.6 L553.7 204.6 L554.4 204.5 L555.1 204.2 L555.5 203.6 L555.7 202.9 L556.0 202.3 L556.2 201.7 L556.5 201.0 L556.5 200.4 L556.6 199.6 L557.0 198.9 L557.2 198.2 L557.6 197.5 L558.2 196.9 L559.0 196.4 L559.4 195.6 L560.1 195.1 L560.4 194.5 L560.7 194.0 L561.2 193.4 L561.8 193.3 L562.5 192.6 L562.2 191.6 L563.0 191.1 L563.6 190.5 L563.8 189.9 L564.1 189.3 L564.2 188.6 L563.9 188.0 L564.5 187.4 L565.0 186.6 L564.6 185.7 L563.7 185.2 L562.6 185.2 L561.8 184.5 L562.6 184.1 L563.3 183.5 L564.1 183.0 L565.0 183.1 L565.0 182.0 L564.3 181.7 L563.8 181.1 L563.4 180.4 L562.9 179.9 L562.6 179.3 L562.5 178.6 L562.2 178.0 L561.8 177.4 L561.4 176.6 L561.1 175.7 L561.1 175.0 L560.9 174.4 L560.8 173.7 L561.0 173.1 L560.9 172.4 L560.4 171.9 L559.8 171.6 L559.4 171.1 L558.9 170.4 L558.2 169.7 L557.3 169.9 L556.5 169.3 L556.0 168.7 L555.8 167.9 L556.4 167.6 L557.0 167.3 L557.6 167.2 L558.2 166.8 L558.0 166.1 L558.3 165.3 L559.0 165.1 L559.7 164.7 L560.1 164.1 L560.7 163.8 L561.3 163.4 L561.8 163.0 L562.6 163.1 L563.3 163.1 L564.1 162.9 L564.7 162.5 L565.3 162.0 L565.7 161.3 L566.3 160.9 L567.1 160.9 L566.5 160.3 L565.7 159.8 L564.5 159.8 L563.4 159.4 L562.2 159.2 L561.1 158.7 L560.3 159.4 L559.3 159.5 L558.3 159.7 L557.6 160.5 L556.9 160.0 L556.1 160.0 L555.4 160.4 L554.8 160.9 L554.8 160.1 L554.4 159.4 L553.8 158.7 L553.0 158.0 L552.2 157.3 L551.6 156.4 L551.1 155.4 L550.5 154.5 L551.3 154.7 L552.0 154.9 L552.4 154.3 L553.0 153.8 L554.0 153.2 L555.2 153.4 L555.8 152.5 L556.5 151.7 L557.5 151.4 L558.4 151.0 L559.2 150.4 L560.1 149.9 L560.7 149.8 L561.1 149.2 L561.2 148.5 L561.8 148.2 L562.6 148.0 L563.4 148.0 L564.2 148.0 L565.0 147.8 L565.4 148.6 L566.1 149.2 L565.6 149.7 L565.0 149.8 L564.7 150.3 L564.5 150.9 L564.2 152.0 L563.9 153.1 L563.5 153.6 L563.2 154.1 L562.8 154.6 L562.5 155.2 L563.2 155.0 L563.8 154.7 L564.4 154.5 L565.0 154.2 L565.5 153.6 L566.1 153.1 L566.7 153.2 L567.2 152.7 L567.8 152.5 L568.3 152.1 L568.9 152.0 L569.5 152.2 L570.1 152.0 L570.7 151.7 L571.3 151.7 L571.9 151.7 L572.5 151.7 L573.1 151.7 L573.9 151.9 L574.5 152.4 L575.2 152.4 L576.0 152.7 L576.5 153.1 L577.1 153.5 L576.9 154.2 L577.0 154.9 L576.5 155.4 L575.8 155.9 L575.2 156.5 L575.2 157.3 L575.8 157.6 L576.3 158.0 L576.6 158.6 L577.0 159.1 L577.8 159.2 L578.6 159.5 L579.5 159.6 L580.2 159.1 L580.6 159.6 L581.2 159.8 L581.0 160.9 L581.6 161.9 L581.4 162.7 L581.1 163.5 L581.4 164.3 L581.2 165.1 L581.4 166.0 L581.2 166.9 L581.4 168.0 L580.5 168.6 L580.3 169.2 L580.3 169.9 L580.5 170.6 L581.2 170.7 L582.1 170.3 L583.0 170.0 L583.9 170.0 L584.8 169.7 L585.7 170.1 L586.7 170.1 L587.5 169.5 L588.3 169.0 L589.1 168.5 L590.1 168.3 L590.8 167.6 L591.5 166.9 L591.4 165.9 L591.8 165.1 L591.8 164.4 L591.6 163.8 L591.6 163.1 L591.7 162.4 L591.8 161.7 L592.0 161.1 L591.6 160.5 L591.5 159.8 L591.0 159.4 L590.8 158.8 L590.3 158.3 L589.7 158.0 L589.5 157.3 L589.1 156.7 L588.4 156.5 L588.0 155.9 L586.8 156.0 L586.0 155.1 L585.8 154.0 L585.1 153.1 L584.9 152.4 L584.8 151.7 L585.4 151.3 L586.1 150.9 L586.9 150.9 L587.6 150.6 L588.1 150.1 L588.8 150.0 L589.4 150.1 L590.1 150.0 L590.5 149.5 L590.8 149.0 L591.3 148.6 L591.8 148.2 L592.2 147.5 L592.3 146.8 L592.5 146.1 L592.5 145.3 L593.6 145.0 L594.7 144.6 L595.3 143.7 L596.1 142.9 L597.0 142.2 L597.8 141.5 L598.6 141.4 L599.4 141.3 L599.9 140.7 L600.3 140.0 L601.2 139.9 L602.1 139.7 L602.4 140.3 L603.0 140.6 L603.6 140.9 L604.2 141.1 L605.2 141.0 L606.1 140.7 L606.9 140.2 L607.7 139.7 L608.3 140.0 L609.0 139.9 L609.4 139.4 L609.6 138.8 L610.2 137.9 L611.2 137.6 L612.0 137.0 L612.5 136.3 L613.0 135.3 L614.1 135.5 M614.1 98.4 L613.7 98.9 L613.2 99.3 L612.6 99.5 L612.0 99.5 L610.9 99.5 L609.8 99.5 L610.5 100.2 L611.2 100.9 L612.1 101.4 L613.1 100.9 L613.9 101.2 L614.8 101.6 M416.6 257.7 L417.2 257.7 L417.8 257.4 L418.4 258.4 L419.5 258.7 L419.5 259.9 L420.3 260.7 L421.1 261.1 L421.9 261.6 L422.6 262.5 L422.0 263.5 L421.9 264.5 L422.5 265.2 L423.0 266.0 L423.8 266.3 L423.6 267.1 L423.2 267.9 L423.4 268.7 L423.1 269.5 L422.1 270.0 L421.2 270.5 L420.1 270.6 L419.2 271.2 L418.1 270.8 L417.1 270.2 L417.1 269.6 L417.4 269.1 L417.5 268.4 L417.2 267.9 L416.7 266.8 L416.4 265.6 L416.1 265.0 L416.3 264.3 L416.2 263.6 L416.8 263.2 L416.6 262.5 L416.1 262.0 L416.4 261.4 L416.6 260.7 L416.2 260.0 L416.3 259.2 L416.2 258.4 L416.6 257.7 M114.6 115.5 L115.2 115.5 L115.8 115.6 L116.4 115.8 L117.0 115.7 L117.8 115.6 L118.6 115.3 L119.3 114.9 L119.9 114.5 L120.4 114.1 L121.1 114.2 L121.8 114.3 L122.3 113.9 L123.5 113.9 L124.5 113.2 L125.3 113.1 L126.1 113.0 L127.0 112.8 L127.6 113.6 L128.3 113.6 L128.9 113.3 L129.5 113.1 L130.1 112.9 L130.8 112.8 L131.5 112.5 L132.2 112.7 L132.9 112.9 L133.6 112.9 L134.3 112.8 L135.1 112.6 L135.8 112.9 L136.8 112.5 L137.8 112.5 L138.8 112.1 L139.6 111.5 L139.0 110.9 L138.2 110.4 L137.5 110.3 L136.8 110.2 L137.6 110.3 L138.2 109.9 L138.6 109.2 L139.3 109.0 L139.9 108.7 L140.4 108.2 L140.7 107.6 L140.7 106.9 L140.3 105.8 L139.8 106.2 L139.5 106.6 L138.9 106.5 L138.3 106.5 L137.3 106.0 L136.5 105.3 L136.0 104.4 L135.8 103.4 L135.3 102.3 L134.3 101.6 L133.8 101.2 L133.4 100.7 L132.9 100.4 L132.6 99.8 L131.6 99.3 L130.5 99.3 L130.4 98.6 L130.5 97.9 L130.0 97.4 L129.4 97.0 L129.2 96.4 L128.7 95.9 L128.1 95.7 L127.6 95.2 L126.8 94.9 L125.9 94.5 L125.0 94.4 L124.1 94.5 L124.9 94.1 L125.5 93.5 L124.8 92.8 L125.3 92.3 L125.8 91.8 L126.2 91.2 L126.9 91.0 L127.6 90.1 L128.3 89.2 L127.6 88.5 L126.7 87.9 L125.5 87.7 L124.9 87.7 L124.3 87.6 L124.1 88.3 L123.4 88.5 L122.7 88.4 L121.9 88.1 L121.0 88.1 L120.6 88.9 L120.9 88.4 L121.1 87.8 L121.7 87.7 L122.3 87.5 L122.3 86.3 L123.1 85.4 L122.1 85.4 L121.1 85.5 L120.1 85.1 L119.2 85.5 L118.1 85.8 L117.0 85.4 L116.5 86.4 L116.0 87.5 L115.7 88.1 L115.5 88.8 L114.9 89.3 L114.6 89.9 L114.5 90.6 L114.2 91.1 L114.3 91.8 L114.2 92.4 L114.7 93.2 L115.0 94.1 L114.8 95.0 L114.9 95.9 L115.8 96.2 L116.3 97.0 L116.7 97.7 L117.4 98.1 L117.0 98.8 L117.7 98.7 L118.3 98.7 L118.9 98.6 L119.5 98.8 L120.3 98.7 L121.1 98.6 L122.0 98.9 L122.7 98.4 L123.3 98.9 L123.4 99.6 L123.9 100.2 L124.1 100.9 L124.2 101.8 L124.1 102.6 L124.1 103.4 L123.8 104.1 L122.8 104.1 L121.8 104.4 L120.9 104.5 L119.9 104.4 L119.3 105.3 L118.5 105.8 L118.6 106.5 L119.2 106.8 L119.9 107.0 L120.2 107.6 L119.4 108.2 L118.5 108.6 L117.7 109.3 L116.7 109.3 L117.6 109.2 L118.3 109.6 L119.0 110.2 L119.9 110.2 L120.6 110.5 L121.4 110.7 L122.2 110.8 L123.1 110.8 L123.6 111.1 L124.1 111.5 L123.1 111.6 L122.0 111.7 L120.9 111.8 L119.9 111.5 L119.5 112.2 L118.8 112.5 L118.1 113.4 L117.0 113.9 L116.5 114.5 L115.8 114.8 L115.2 115.0 L114.6 115.5 M113.5 107.9 L113.1 107.0 L113.2 106.0 L113.6 104.9 L112.8 104.1 L112.8 103.4 L112.6 102.8 L112.9 102.2 L113.2 101.6 L113.7 101.3 L114.1 100.8 L114.6 100.5 L115.3 100.5 L115.3 99.7 L115.2 99.0 L114.6 98.4 L113.9 98.1 L112.9 97.6 L111.8 97.4 L111.1 96.8 L110.4 96.9 L109.7 96.7 L108.9 96.6 L107.9 96.8 L107.3 97.6 L106.4 97.3 L105.4 97.4 L105.0 98.4 L104.7 99.5 L104.1 98.9 L103.3 98.8 L102.6 99.0 L101.8 98.7 L101.4 99.6 L101.5 100.5 L100.6 100.4 L99.8 100.9 L99.3 101.4 L99.4 102.1 L99.2 102.7 L99.4 103.4 L100.0 104.3 L100.8 105.1 L101.9 104.8 L102.9 104.4 L102.7 105.2 L102.6 105.9 L101.9 106.3 L101.2 106.5 L100.6 107.1 L99.9 107.7 L99.3 108.5 L98.3 108.3 L99.0 108.4 L99.5 108.9 L99.8 109.5 L100.1 110.1 L100.7 110.1 L101.3 110.3 L101.9 110.2 L102.4 109.8 L103.6 109.7 L104.7 110.1 L105.4 110.3 L106.2 110.5 L106.9 110.3 L107.6 109.9 L108.0 109.2 L108.8 109.0 L109.4 108.7 L110.0 108.3 L110.9 108.0 L111.7 107.9 L112.6 108.0 L113.5 107.9 M69.7 58.5 L70.8 59.4 L72.1 59.2 L73.2 58.5 L73.9 57.5 L75.0 57.5 L76.1 57.6 L77.2 57.7 L78.2 57.5 L78.9 57.3 L79.6 57.4 L80.2 56.9 L80.9 56.6 L81.4 57.2 L81.6 57.9 L82.4 58.0 L83.2 58.2 L82.8 58.9 L82.8 59.7 L83.2 60.3 L83.5 61.0 L84.4 61.1 L85.3 61.4 L86.0 61.9 L86.7 62.4 L85.6 62.7 L85.1 63.7 L84.2 64.1 L83.5 64.9 L82.5 64.8 L81.6 64.5 L80.9 65.1 L80.0 65.6 L79.4 65.9 L78.7 65.9 L78.0 66.2 L77.3 66.3 L76.7 66.9 L76.0 66.5 L75.3 66.8 L74.7 67.0 L74.1 67.2 L73.5 67.4 L72.8 67.5 L72.3 67.9 L71.7 68.2 L71.0 68.2 L70.4 68.1 L69.7 68.1 M614.1 335.1 L613.4 335.2 L612.7 335.4 L612.0 335.2 L611.2 335.1 L610.8 334.6 L610.0 334.5 L609.1 334.4 L608.8 333.6 L608.1 333.6 L607.4 333.6 L606.7 333.8 L606.0 333.7 L605.1 333.5 L604.4 333.0 L603.6 332.7 L602.8 332.7 L601.7 332.4 L600.7 332.0 L600.7 333.1 L600.4 334.2 L599.8 334.1 L599.2 334.1 L598.6 334.3 L598.2 334.8 L597.6 335.2 L596.8 335.0 L596.3 335.5 L595.7 335.8 L595.0 336.3 L594.4 337.0 L594.4 337.8 L594.3 338.7 L593.8 339.3 L593.9 340.1 L593.9 341.0 L593.2 341.5 L593.4 342.3 L593.0 343.0 L592.9 343.8 L592.2 344.3 L591.2 344.7 L590.1 344.7 L589.0 344.4 L588.0 344.7 L587.5 345.7 L586.9 346.8 L586.4 346.3 L585.8 345.8 L585.6 345.1 L585.0 344.6 L585.1 343.8 L584.4 343.2 L584.4 342.5 L584.1 341.8 L583.4 341.8 L582.8 341.6 L582.2 341.9 L581.6 342.2 L580.7 342.2 L579.8 342.6 L579.0 343.1 L578.1 343.4 L577.8 344.4 L577.0 345.0 L576.4 345.7 L575.6 346.1 L574.8 346.5 L574.2 347.1 L573.6 347.7 L573.3 348.4 L573.3 349.2 L573.1 350.0 L573.0 350.9 L572.2 351.5 L571.6 352.1 L571.0 352.8 L570.3 352.4 L569.6 351.9 L569.0 351.4 L568.5 350.7 L568.3 351.3 L568.1 352.0 L568.0 352.7 L568.1 353.4 L567.5 353.7 L566.9 354.1 L566.1 354.4 L566.1 355.3 L566.2 356.0 L566.4 356.7 L566.4 357.3 L566.2 357.9 L565.7 358.4 L565.5 359.0 L564.9 359.3 L564.4 359.7 L563.8 359.8 L563.2 360.2 L562.8 360.9 L562.0 360.8 L561.7 361.5 L560.9 361.6 L560.4 362.0 L559.7 362.3 L559.0 362.6 L558.3 362.3 L557.5 362.6 L556.8 363.1 L556.0 362.6 L555.1 362.7 L554.3 362.8 L553.7 363.2 L552.9 363.3 L552.3 363.9 L551.5 364.0 L550.8 364.2 L550.1 364.6 L549.5 365.1 L548.7 364.8 L548.2 364.2 L547.6 364.9 L546.7 364.8 L546.0 365.0 L545.7 365.6 L545.4 366.1 L545.0 366.6 L544.3 366.5 L543.6 366.4 L543.3 367.1 L542.8 367.6 L542.1 368.3 L541.1 368.6 L540.2 368.8 L539.2 369.0 L539.1 369.6 L538.7 370.2 L538.3 370.7 L537.8 371.1 L537.0 371.5 L536.1 371.5 L536.0 372.4 L536.2 373.3 L536.2 374.1 L536.4 375.0 L536.0 376.1 L534.9 376.5 L535.0 377.5 L535.4 378.5 L535.7 379.3 L536.1 380.1 L536.3 380.9 L536.4 381.8 L536.7 382.6 L536.9 383.4 L537.5 384.1 L537.8 384.9 L537.5 384.0 L536.5 384.0 L535.8 384.1 L535.0 383.8 L535.4 384.6 L536.1 385.1 L536.5 385.8 L536.4 386.7 L536.8 387.7 L537.5 388.7 L537.3 389.2 L537.1 389.9 L537.6 390.3 L537.8 390.9 L537.9 391.5 L538.2 392.1 L538.5 392.6 L538.7 393.2 L539.1 393.8 L539.2 394.4 L539.8 394.7 L540.3 395.1 L540.3 395.8 L540.5 396.4 L540.6 397.0 L540.2 397.6 L540.6 398.1 L540.7 398.8 L540.7 399.4 L540.6 400.1 L540.7 400.7 L540.9 401.3 L541.4 401.7 L541.9 402.2 L542.2 402.7 L542.4 403.3 L542.7 403.8 L543.1 404.3 L543.2 405.1 L542.7 405.7 L543.0 406.4 L543.5 406.9 L543.2 407.6 L543.2 408.2 L542.8 408.9 L543.1 409.6 L542.6 410.1 L542.0 410.3 L541.3 410.4 L540.6 410.6 L541.0 411.3 L540.8 412.1 L540.9 412.8 L541.0 413.5 L542.1 414.0 L542.1 415.2 L543.2 415.1 L544.2 414.9 L545.1 414.6 L546.1 414.8 L547.1 415.4 L547.2 416.5 L547.9 415.7 L548.9 416.2 L549.7 416.4 L550.5 415.9 L551.3 415.1 L552.2 414.3 L553.3 414.3 L554.4 413.8 L555.6 413.9 L556.3 412.9 L557.4 412.7 L557.9 411.7 L558.6 411.9 L559.2 412.1 L559.8 412.1 L560.4 411.9 L561.0 411.6 L561.7 411.6 L562.3 411.6 L562.9 411.3 L563.9 411.2 L564.9 411.3 L565.6 412.2 L566.8 411.8 L567.8 411.8 L568.7 412.4 L569.8 412.3 L570.7 411.7 L570.7 411.0 L571.1 410.5 L571.8 410.4 L572.4 410.3 L573.3 409.9 L573.9 409.1 L574.7 408.5 L575.6 408.2 L576.0 407.5 L576.8 407.5 L577.5 407.5 L578.1 407.7 L578.3 406.9 L578.8 406.4 L579.6 406.5 L580.2 406.1 L581.0 405.8 L581.8 405.9 L582.6 405.8 L583.4 406.1 L584.3 406.2 L585.1 405.9 L586.0 405.4 L586.2 404.4 L587.0 405.0 L587.9 405.0 L588.7 404.6 L589.4 403.9 L590.0 403.5 L590.8 403.7 L591.5 403.7 L592.2 403.7 L592.9 403.4 L593.6 403.4 L594.3 403.3 L595.0 403.6 L595.9 403.6 L596.8 403.5 L597.6 403.2 L598.5 403.2 L599.3 403.6 L600.1 403.9 L600.7 404.4 L601.4 405.0 L602.3 405.0 L603.2 405.2 L604.0 405.4 L604.9 405.7 L605.6 406.4 L606.5 406.9 L607.4 407.3 L608.4 407.5 L608.6 408.3 L608.8 409.2 L609.5 409.5 L610.0 410.0 L610.6 410.3 L611.4 410.3 L612.0 410.9 L612.3 411.6 L612.4 412.4 L612.0 413.1 L612.6 413.4 L613.2 413.8 L613.9 414.2 L614.1 414.9 M307.7 127.7 L308.3 127.7 L308.9 127.5 L309.5 127.5 L310.1 127.7 L310.6 127.4 L311.2 127.3 L311.7 126.9 L312.3 126.6 L313.1 126.4 L313.9 126.6 L314.6 126.2 L315.4 126.3 L316.2 125.9 L317.0 126.1 L317.8 126.4 L318.3 127.0 L319.2 126.9 L320.1 126.9 L320.8 127.6 L321.8 127.7 L321.6 128.4 L321.6 129.2 L322.1 129.7 L322.1 130.5 L321.3 130.4 L320.5 131.0 L319.8 131.4 L319.1 131.8 L318.2 131.9 L317.4 131.7 L316.6 132.0 L315.8 132.3 L315.8 133.0 L315.7 133.7 L315.4 134.4 L315.4 135.1 L316.2 135.8 L316.8 136.7 L317.1 137.8 L317.8 138.6 L318.9 139.0 L319.3 140.1 L320.2 141.0 L320.0 142.2 L320.0 143.1 L320.3 144.0 L320.2 145.1 L321.1 145.7 L321.6 146.5 L321.3 147.5 L321.4 148.4 L321.1 149.2 L322.0 149.0 L322.8 149.0 L323.7 149.0 L324.6 148.9 L324.0 149.2 L323.4 149.4 L323.7 150.2 L323.1 150.8 L322.7 151.2 L322.2 151.6 L322.0 152.2 L321.8 152.7 L322.5 153.3 L323.3 153.6 L323.6 154.4 L323.9 155.2 L323.8 156.0 L324.1 156.6 L323.7 157.2 L323.7 158.0 L323.9 158.7 L324.5 159.2 L324.6 159.9 L325.0 160.5 L324.0 160.4 L323.2 160.7 L322.4 161.3 L321.8 161.9 L321.1 161.7 L320.5 162.2 L319.8 162.1 L319.1 162.1 L318.5 162.3 L317.8 162.3 L317.2 162.3 L316.5 162.3 L315.9 162.1 L315.3 162.0 L314.6 161.8 L314.1 161.4 L313.7 160.8 L313.1 160.6 L312.5 160.4 L311.9 160.2 L311.2 159.7 L310.6 160.2 L309.9 159.9 L309.8 159.2 L308.7 158.6 L307.7 158.0 L307.2 157.2 L307.3 156.3 L307.6 155.4 L308.0 154.6 L308.8 154.1 L309.6 153.7 L309.0 153.0 L308.9 152.0 L309.1 151.2 L309.1 150.3 L309.9 149.9 L310.8 149.5 L311.7 149.7 L312.6 149.9 L311.7 149.4 L310.7 149.6 L310.3 148.7 L309.4 148.2 L308.8 148.1 L308.2 147.8 L307.6 147.4 L307.3 146.9 L306.8 146.4 L306.8 145.8 L306.7 145.1 L306.3 144.6 L306.0 144.0 L305.7 143.3 L305.2 142.9 L304.8 142.2 L304.2 141.9 L303.6 141.5 L303.2 140.9 L302.7 140.4 L302.5 139.7 L302.9 139.0 L302.5 138.4 L302.0 137.9 L302.0 137.2 L302.0 136.5 L302.0 135.8 L302.0 135.1 L302.0 134.3 L302.2 133.6 L302.4 132.9 L302.7 132.3 L302.1 132.3 L301.5 132.2 L301.3 131.5 L300.6 131.2 L301.2 130.2 L302.1 129.5 L303.0 128.8 L304.1 128.4 L305.1 128.5 L305.9 128.1 L306.8 127.8 L307.7 127.7 M163.6 147.5 L164.6 147.2 L165.6 147.4 L166.3 146.8 L167.2 146.4 L168.3 146.8 L169.3 147.5 L169.0 148.2 L168.8 149.0 L168.5 149.8 L168.2 150.5 L168.2 151.4 L168.5 152.2 L168.0 153.0 L168.6 153.8 L167.4 153.8 L166.5 154.5 L165.4 154.6 L164.4 154.2 L164.8 153.1 L165.0 151.9 L164.8 151.3 L164.5 150.8 L164.7 150.2 L164.7 149.6 L164.1 148.5 L163.6 147.5 M165.4 141.8 L165.9 141.3 L166.5 140.9 L167.1 140.3 L167.9 140.4 L167.6 141.1 L167.5 141.9 L168.0 142.4 L168.2 143.2 L167.9 143.9 L167.7 144.6 L167.5 145.4 L167.2 146.0 L166.6 145.7 L166.0 145.6 L165.2 145.4 L165.1 144.6 L165.2 143.9 L165.2 143.2 L165.3 142.5 L165.4 141.8 M178.5 158.7 L179.2 158.2 L179.9 157.8 L180.8 157.5 L181.6 157.3 L182.7 156.8 L183.9 156.9 L185.0 157.3 L185.9 158.0 L186.9 158.0 L187.8 157.6 L188.8 157.2 L189.8 157.0 L189.5 158.1 L188.8 158.9 L188.4 159.9 L188.0 160.9 L187.4 161.7 L188.0 162.6 L187.2 162.6 L186.4 162.6 L185.9 161.9 L185.2 161.6 L184.2 161.3 L183.6 160.6 L183.0 159.8 L181.9 159.9 L181.0 159.8 L180.2 159.4 L179.4 158.9 L178.5 158.7 M217.7 167.6 L218.3 167.3 L219.0 167.2 L219.8 167.1 L220.5 167.4 L221.1 167.1 L221.8 166.9 L222.5 166.6 L223.2 166.4 L223.9 166.8 L224.7 166.5 L225.2 167.1 L225.8 167.6 L226.7 167.7 L227.5 167.9 L226.9 168.2 L226.2 168.5 L225.5 168.7 L224.7 168.8 L224.0 168.9 L223.4 168.7 L222.7 168.8 L222.0 168.9 L221.5 168.4 L220.8 168.1 L220.1 168.1 L219.4 168.4 L218.4 168.2 L217.7 167.6 M248.7 168.3 L249.4 168.2 L250.0 167.8 L250.6 167.6 L251.2 167.2 L252.1 167.3 L252.6 168.1 L253.5 168.0 L254.3 168.3 L254.9 167.7 L255.5 167.2 L256.2 166.7 L256.8 166.2 L256.1 166.8 L256.2 167.8 L255.4 168.1 L254.7 168.6 L254.4 169.7 L253.3 170.2 L252.2 170.5 L251.2 170.0 L250.4 169.6 L249.5 169.8 L249.3 168.9 L248.7 168.3 M143.0 152.4 L143.7 152.2 L144.2 151.7 L145.0 151.6 L145.6 151.3 L146.3 151.6 L146.9 152.0 L146.4 152.7 L146.0 153.4 L145.3 153.1 L144.6 152.7 L143.8 152.6 L143.0 152.4 M216.2 155.6 L216.9 156.3 L217.9 156.8 L218.7 157.5 L219.8 157.3 L220.5 158.1 L221.5 158.0 L220.8 157.7 L220.1 157.3 L219.4 157.0 L218.7 156.6 L218.1 156.3 L217.7 155.7 L217.0 155.4 L216.2 155.6 M172.8 97.0 L173.7 96.7 L174.6 96.3 L175.4 95.8 L176.4 95.6 L177.0 96.0 L177.8 95.8 L178.5 95.8 L179.2 95.6 L178.7 96.5 L178.1 97.4 L177.2 97.5 L176.4 97.3 L175.5 97.4 L174.6 97.4 L173.7 97.1 L172.8 97.0 M169.6 96.3 L170.2 95.5 L171.2 95.5 L172.0 95.9 L172.8 96.3 L172.3 97.1 L172.1 98.1 L171.5 98.0 L170.9 97.9 L170.3 97.7 L169.6 97.7 L169.5 97.0 L169.6 96.3 M198.6 89.2 L199.2 88.6 L199.7 88.0 L200.6 87.9 L201.4 87.8 L201.4 88.7 L200.8 89.5 L200.5 90.3 L200.0 91.0 L199.3 90.2 L198.6 89.2 M192.6 93.8 L193.3 92.9 L194.2 92.2 L194.4 91.1 L194.4 89.9 L193.9 90.9 L193.1 91.7 L193.1 92.8 L192.9 93.8 M211.7 85.7 L212.3 85.4 L213.0 85.6 L213.7 85.6 L214.3 85.8 L215.0 85.8 L215.6 85.8 L216.3 86.1 L216.9 85.7 L215.9 85.8 L214.9 86.3 L214.1 87.0 L213.1 87.5 L212.4 86.6 L211.7 85.7 M558.7 211.0 L559.7 210.5 L560.5 209.7 L560.9 208.6 L560.3 207.5 L561.3 206.9 L561.2 205.8 L561.4 204.9 L561.5 203.9 L562.2 203.7 L562.7 203.3 L563.2 202.7 L563.9 202.8 L564.1 203.5 L564.5 204.0 L565.0 204.6 L565.0 205.3 L565.0 206.2 L564.9 207.2 L564.8 208.1 L565.0 209.0 L564.5 209.8 L564.0 210.5 L563.4 211.3 L562.9 212.0 L562.9 212.9 L562.5 213.8 L562.0 214.5 L561.1 214.8 L560.8 213.7 L560.2 212.7 L559.4 211.9 L558.7 211.0 M518.1 224.4 L518.5 223.9 L519.2 223.8 L519.2 223.1 L519.2 222.5 L520.2 221.9 L521.2 221.5 L522.1 221.0 L523.1 220.8 L524.1 221.2 L525.1 221.2 L525.8 222.1 L526.5 223.0 L526.3 223.7 L525.6 224.1 L524.8 224.3 L524.1 224.5 L523.5 225.2 L523.9 226.0 L523.5 226.6 L523.0 227.2 L522.1 227.5 L521.2 227.2 L520.4 227.4 L519.5 227.5 L519.0 226.8 L518.7 226.0 L518.6 225.1 L518.1 224.4 M592.5 175.0 L592.8 174.4 L593.3 173.9 L593.6 173.3 L593.3 172.6 L593.9 172.7 L594.6 172.7 L595.2 172.6 L595.7 172.1 L596.8 172.3 L597.8 172.5 L598.3 173.4 L598.7 174.4 L599.9 174.6 L600.3 175.7 L599.6 176.3 L599.1 177.1 L598.1 177.2 L597.4 177.8 L597.6 178.7 L598.1 179.5 L598.0 180.4 L598.2 181.3 L598.2 182.2 L597.6 182.7 L596.8 182.6 L596.1 182.7 L595.2 182.2 L594.3 181.7 L594.5 181.1 L594.8 180.6 L594.6 180.0 L594.2 179.5 L594.5 178.5 L594.7 177.4 L594.2 176.8 L593.5 176.3 L593.0 175.7 L592.5 175.0 M600.7 173.9 L601.8 173.6 L602.8 174.1 L603.3 173.1 L604.2 172.5 L605.3 172.6 L606.4 172.5 L607.5 172.1 L608.4 171.4 L609.4 172.0 L610.2 172.9 L609.8 173.4 L609.3 173.9 L608.8 174.4 L608.4 175.0 L607.6 175.8 L606.4 176.1 L605.8 176.2 L605.3 175.8 L604.9 176.4 L604.2 176.4 L603.3 176.2 L602.4 176.4 L601.8 175.9 L601.6 175.1 L601.3 174.4 L600.7 173.9 M596.8 172.5 L597.4 171.5 L597.6 170.3 L598.2 170.0 L598.8 169.8 L599.3 170.2 L600.0 170.0 L600.5 169.6 L601.0 169.3 L601.0 168.6 L601.2 168.0 L601.8 168.1 L602.4 167.9 L602.7 167.2 L603.5 167.2 L604.5 166.7 L605.6 166.5 L606.7 166.6 L607.7 166.9 L608.3 167.1 L608.9 167.3 L609.5 167.3 L610.1 167.2 L610.7 167.1 L611.1 166.6 L611.7 166.5 L612.3 166.5 L613.2 166.6 L614.1 166.7 M614.1 171.1 L613.3 170.3 L612.3 170.0 L611.6 169.9 L610.9 169.6 L610.2 169.7 L609.5 169.7 L608.6 169.5 L607.7 169.9 L606.9 170.5 L606.0 170.4 L605.1 170.7 L604.2 170.9 L603.3 170.9 L602.4 171.1 L601.5 171.0 L600.6 171.3 L599.7 171.6 L598.9 172.1 L597.9 172.4 L596.8 172.5 M614.1 173.9 L613.1 174.1 L612.7 173.2 L612.4 172.3 L612.0 171.4 L612.6 170.8 L613.0 170.0 M580.2 174.3 L580.7 174.8 L581.5 174.9 L581.9 174.2 L582.7 173.9 L582.5 174.8 L581.6 175.0 L580.7 175.0 L580.2 174.3 M471.1 272.3 L472.1 272.1 L473.2 272.3 L474.1 271.7 L475.2 271.8 L476.0 272.6 L476.9 273.1 L477.8 273.5 L478.9 273.8 L479.6 274.3 L480.2 274.8 L480.7 275.5 L480.9 276.3 L481.6 276.8 L482.2 277.3 L482.9 277.8 L483.1 278.7 L483.8 279.4 L484.6 280.1 L485.7 280.5 L486.1 281.6 L487.2 281.9 L487.5 283.0 L488.2 283.9 L489.1 284.3 L490.0 284.8 L490.7 285.5 L491.6 286.0 L492.6 286.1 L493.4 286.8 L493.9 287.8 L494.9 287.4 L496.0 287.5 L496.1 288.5 L496.4 289.5 L497.5 289.7 L498.3 290.3 L498.5 291.0 L498.5 291.8 L498.5 292.5 L498.9 293.1 L499.7 293.3 L500.6 293.3 L500.9 294.1 L501.1 294.9 L501.5 295.4 L502.0 295.9 L502.5 296.4 L503.2 296.3 L503.5 297.4 L503.8 298.4 L504.6 299.2 L505.0 300.2 L505.6 300.6 L506.2 301.0 L506.4 301.7 L506.8 302.3 L507.4 302.7 L507.9 303.2 L508.4 303.7 L508.5 304.4 L509.0 305.4 L509.0 306.5 L508.7 307.5 L508.4 308.5 L508.8 309.5 L508.7 310.6 L508.2 311.5 L508.2 312.6 L507.2 313.1 L506.1 313.6 L505.1 313.1 L503.9 312.9 L503.2 312.6 L502.5 312.6 L501.9 312.1 L501.2 311.9 L501.1 311.1 L500.8 310.4 L500.4 309.8 L499.7 309.4 L499.0 309.2 L498.6 308.7 L498.1 308.2 L497.7 307.7 L497.2 307.3 L496.8 306.7 L496.5 306.1 L495.8 305.9 L495.6 304.8 L495.2 303.8 L494.2 303.3 L493.1 303.6 L493.0 302.6 L492.6 301.8 L491.9 301.2 L491.2 300.6 L490.5 300.3 L490.1 299.7 L490.0 298.9 L489.7 298.2 L489.4 297.5 L489.8 296.7 L489.3 296.2 L488.8 295.6 L488.3 295.1 L487.8 294.6 L487.1 294.3 L486.5 293.9 L486.0 293.4 L485.8 292.7 L485.5 292.1 L485.2 291.4 L484.9 290.7 L485.2 289.9 L485.1 289.2 L484.9 288.4 L484.6 287.7 L484.2 287.1 L483.8 286.5 L483.1 286.1 L482.7 285.6 L482.4 285.0 L481.9 284.5 L481.3 284.2 L480.7 283.9 L480.2 283.4 L479.8 282.9 L479.2 282.6 L479.0 281.9 L478.3 281.5 L478.2 280.9 L478.2 280.2 L477.5 280.2 L476.8 280.1 L476.3 279.7 L475.7 279.4 L475.4 278.3 L474.8 277.4 L474.0 276.5 L472.9 276.2 L472.0 275.5 L471.6 274.4 L471.0 273.5 L471.1 272.3 M506.1 316.1 L506.5 315.1 L507.3 314.3 L508.3 313.8 L509.2 313.3 L509.9 313.3 L510.6 313.2 L511.3 313.2 L512.0 312.9 L512.7 313.0 L513.3 313.4 L513.9 313.6 L514.5 314.0 L515.5 314.2 L516.4 314.7 L517.3 315.2 L518.1 315.7 L518.9 315.9 L519.6 316.2 L520.4 315.9 L521.2 316.0 L522.1 315.5 L523.0 315.2 L523.8 315.7 L524.4 316.4 L525.0 315.6 L526.0 315.3 L527.0 315.1 L527.9 315.4 L529.1 315.6 L530.2 315.3 L530.6 315.9 L530.8 316.6 L531.5 316.2 L532.2 316.4 L533.2 316.3 L534.1 315.7 L535.1 316.0 L535.9 316.7 L536.3 317.5 L537.0 318.2 L537.8 318.7 L538.5 319.3 L538.6 320.2 L539.0 321.0 L538.9 321.9 L538.9 322.8 L538.2 322.9 L537.5 322.7 L536.8 322.5 L536.1 322.5 L535.4 322.4 L534.8 322.1 L534.2 321.7 L533.6 321.4 L532.7 321.1 L531.9 320.5 L531.0 320.3 L530.1 320.5 L529.2 320.6 L528.3 320.7 L527.5 321.1 L526.5 321.0 L525.6 320.7 L524.7 320.9 L523.8 320.7 L523.0 320.2 L522.0 320.5 L521.0 320.6 L519.9 320.3 L519.5 319.3 L518.8 319.0 L518.3 318.3 L517.8 317.8 L517.0 317.7 L516.2 317.9 L515.4 317.7 L514.8 318.1 L514.2 318.6 L513.2 318.2 L512.2 318.4 L511.2 318.6 L510.3 318.2 L509.7 318.4 L509.0 318.3 L508.4 318.3 L507.8 317.8 L507.4 317.3 L506.7 317.2 L506.5 316.6 L506.1 316.1 M538.9 320.7 L539.9 320.9 L540.8 321.3 L541.7 321.8 L542.8 321.7 L542.1 322.5 L541.4 323.3 L540.8 322.6 L540.5 321.7 L539.5 321.5 L538.9 320.7 M544.2 321.7 L545.3 321.7 L546.3 321.4 L546.0 322.5 L545.6 323.5 L545.0 322.5 L544.2 321.7 M547.0 322.1 L548.2 322.0 L549.1 321.3 L550.1 320.9 L551.2 321.0 L552.2 321.2 L553.1 321.0 L553.8 321.6 L554.8 321.7 L554.0 322.0 L553.2 322.1 L552.6 322.7 L551.9 323.1 L551.3 322.9 L550.8 322.5 L550.2 322.8 L549.5 322.5 L548.8 322.9 L548.1 323.1 L547.6 322.5 L547.0 322.1 M557.6 322.4 L558.4 322.3 L559.0 321.9 L559.8 321.8 L560.5 321.4 L561.3 321.1 L562.1 321.5 L562.8 321.6 L563.6 321.7 L564.0 321.1 L564.6 320.8 L565.2 320.5 L565.9 320.2 L566.5 320.6 L567.2 320.7 L567.8 321.1 L568.5 321.0 L567.7 321.5 L567.0 322.1 L566.1 322.6 L565.4 323.1 L564.6 323.3 L564.1 323.8 L563.4 323.8 L562.7 323.5 L562.0 323.5 L561.4 323.1 L560.7 323.1 L560.1 323.1 L559.5 322.6 L559.0 322.1 L558.3 322.4 L557.6 322.4 M570.7 328.4 L571.2 327.6 L571.1 326.7 L572.0 326.6 L572.7 326.1 L573.2 325.4 L574.0 325.1 L574.6 324.7 L575.2 324.2 L576.1 323.7 L577.2 323.4 L578.1 323.0 L579.0 322.5 L580.1 322.7 L581.1 322.4 L582.2 322.2 L583.0 321.4 L582.3 322.2 L581.4 322.8 L580.3 323.2 L579.5 323.9 L578.9 324.4 L578.3 324.9 L577.5 325.1 L576.9 325.6 L576.2 326.2 L575.7 326.8 L574.8 326.8 L574.2 327.4 L573.2 327.7 L572.2 327.2 L571.3 327.6 L570.7 328.4 M554.8 325.6 L555.6 325.6 L556.4 325.9 L557.2 326.1 L558.0 326.1 L558.8 326.8 L559.7 326.5 L560.3 327.1 L561.1 327.4 L560.4 327.0 L559.7 326.7 L559.4 326.0 L559.0 325.3 L557.9 325.3 L556.8 324.9 L555.7 325.1 L554.8 325.6 M519.5 286.5 L520.0 286.0 L520.6 285.8 L521.0 285.3 L521.6 285.0 L522.3 285.0 L522.9 285.2 L523.5 285.6 L524.1 285.7 L524.8 285.7 L525.5 286.0 L525.9 286.5 L526.5 286.8 L527.0 286.0 L527.4 285.1 L528.0 284.3 L527.9 283.3 L528.4 282.6 L529.1 282.2 L530.0 282.4 L530.6 281.6 L531.4 281.9 L532.2 281.7 L532.9 281.2 L533.6 280.8 L534.1 280.2 L534.4 279.6 L534.7 278.9 L535.0 278.2 L535.7 278.0 L536.3 277.5 L536.9 277.0 L537.1 276.2 L537.8 275.8 L538.5 276.3 L539.2 276.4 L539.9 276.6 L540.4 276.1 L540.9 275.6 L541.6 275.3 L541.7 274.5 L542.2 273.5 L542.6 272.4 L543.2 271.5 L544.2 270.9 L544.9 270.8 L545.2 270.1 L545.7 269.7 L546.2 269.5 L546.4 268.8 L546.6 268.2 L547.1 267.7 L547.7 267.4 L548.3 267.9 L548.7 268.5 L549.4 268.8 L549.8 269.5 L550.3 270.0 L550.9 270.4 L551.4 270.9 L551.6 271.6 L552.2 271.8 L552.8 271.7 L553.5 271.8 L554.0 272.2 L554.5 272.5 L554.9 273.0 L555.2 273.6 L555.5 274.1 L554.6 274.7 L553.7 275.3 L552.8 276.0 L551.9 276.6 L551.3 276.7 L550.9 277.3 L550.5 277.8 L550.2 278.3 L550.0 279.3 L549.3 280.1 L548.7 280.8 L548.3 281.8 L549.0 282.6 L549.0 283.7 L549.8 284.3 L550.5 285.0 L551.0 285.5 L551.5 286.1 L552.1 286.4 L552.6 286.9 L552.6 287.7 L553.0 288.4 L553.6 288.9 L554.4 288.9 L553.7 289.5 L552.7 289.7 L551.8 289.6 L550.9 289.6 L550.2 289.9 L549.8 290.6 L549.3 291.3 L549.5 292.1 L548.7 292.8 L548.3 293.7 L547.8 294.7 L548.4 295.6 L547.7 296.0 L547.2 296.6 L546.6 297.1 L545.9 297.4 L546.3 297.9 L546.3 298.5 L546.8 299.0 L547.1 299.5 L547.0 300.1 L546.6 300.6 L546.2 301.1 L545.9 301.6 L545.2 302.2 L544.6 303.0 L544.5 303.9 L544.2 304.8 L543.5 305.0 L542.9 305.3 L542.3 305.6 L541.9 306.2 L541.3 305.8 L540.6 305.6 L539.9 305.9 L539.2 305.9 L538.5 305.4 L537.6 305.1 L537.2 304.3 L536.4 303.7 L535.7 303.6 L535.3 304.2 L534.7 303.8 L534.1 303.8 L533.0 304.1 L531.8 304.1 L530.9 303.8 L530.0 303.5 L529.1 303.2 L528.3 302.7 L527.2 302.4 L526.0 302.3 L525.4 302.5 L524.9 302.9 L524.3 302.7 L523.7 302.3 L523.7 301.3 L523.5 300.4 L523.3 299.4 L523.0 298.5 L522.4 297.5 L521.4 297.0 L520.5 296.3 L520.2 295.3 L520.6 294.7 L520.8 294.1 L521.1 293.6 L521.3 292.9 L520.8 292.3 L520.9 291.5 L520.1 291.5 L519.5 291.0 L519.7 289.9 L519.4 288.7 L519.6 287.6 L519.5 286.5 M556.2 311.5 L556.4 310.6 L556.5 309.8 L556.9 308.9 L556.7 308.0 L557.0 307.1 L557.1 306.2 L557.0 305.3 L556.9 304.4 L556.5 303.6 L555.8 302.8 L555.1 302.1 L554.1 302.0 L554.2 301.3 L554.8 300.9 L555.4 300.5 L555.7 299.9 L555.5 299.3 L555.5 298.6 L556.1 298.1 L556.2 297.4 L556.5 296.7 L556.7 296.0 L557.2 295.4 L556.9 294.6 L557.0 293.9 L557.3 293.2 L557.5 292.5 L557.6 291.7 L557.9 290.8 L557.7 289.9 L558.5 289.4 L559.4 288.9 L560.4 289.4 L561.5 289.2 L562.4 288.4 L563.6 288.6 L564.3 288.3 L564.9 288.1 L565.6 287.7 L566.3 287.6 L567.1 287.6 L567.6 288.3 L568.3 288.5 L568.9 288.9 L569.7 288.9 L570.3 288.5 L571.0 288.5 L571.7 288.8 L572.4 288.6 L573.1 288.6 L573.7 288.1 L574.2 287.5 L574.9 287.7 L575.6 287.8 L576.1 287.3 L576.7 286.8 L576.2 287.2 L575.6 287.6 L575.1 287.9 L574.8 288.5 L574.1 288.8 L573.8 289.4 L573.6 290.1 L573.5 290.7 L572.6 290.7 L571.7 290.7 L570.9 291.0 L569.9 291.0 L569.4 291.5 L568.6 291.7 L567.9 291.7 L567.2 291.9 L566.6 291.5 L566.1 291.0 L565.4 290.9 L564.7 290.7 L563.6 290.5 L562.5 290.8 L561.5 290.4 L560.4 290.3 L560.1 291.4 L560.0 292.5 L559.7 293.6 L558.7 294.2 L559.8 294.6 L560.9 294.9 L561.4 295.3 L561.9 295.6 L562.2 296.2 L562.5 296.7 L563.3 296.5 L564.1 296.6 L564.6 296.0 L565.3 295.6 L566.0 295.3 L566.7 295.2 L567.4 294.9 L568.2 294.9 L569.3 295.0 L570.3 295.6 L569.2 296.0 L568.2 296.7 L567.4 297.5 L566.8 298.5 L566.1 298.8 L565.3 298.5 L564.7 298.8 L563.9 298.8 L564.8 299.0 L565.6 299.2 L565.9 300.1 L566.6 300.6 L566.7 301.5 L567.2 302.1 L567.5 302.9 L567.5 303.7 L567.4 304.4 L567.5 305.1 L567.5 305.8 L567.5 306.5 L567.1 307.1 L566.7 307.7 L566.6 308.3 L566.4 309.0 L565.7 308.9 L565.0 309.2 L564.3 309.0 L563.6 308.7 L563.3 307.9 L563.3 307.1 L563.2 306.3 L563.3 305.5 L563.0 304.8 L562.5 304.1 L562.4 303.3 L561.8 302.7 L560.8 302.3 L559.7 302.3 L560.7 303.4 L561.8 304.2 L561.9 305.7 L561.3 307.0 L562.0 308.3 L561.7 309.7 L561.4 311.2 L560.1 311.9 L559.1 312.3 L558.1 312.2 L557.0 312.3 L556.2 311.5 M584.8 285.4 L585.7 284.8 L586.5 284.0 L587.2 284.6 L588.1 284.9 L588.4 285.8 L589.0 286.5 L588.5 287.1 L587.6 287.3 L586.7 287.6 L586.5 288.6 L587.1 289.1 L587.7 289.6 L588.2 290.2 L589.0 290.3 L588.2 290.4 L587.7 291.0 L586.9 291.0 L586.2 291.0 L586.7 292.0 L587.2 292.9 L587.2 293.9 L587.2 294.9 L586.4 294.5 L585.7 294.0 L584.9 293.5 L584.1 293.2 L584.6 292.1 L585.3 291.2 L586.3 290.6 L586.9 289.5 L586.7 288.3 L585.9 287.4 L585.0 286.6 L584.8 285.4 M579.5 303.4 L580.5 302.8 L581.6 303.0 L582.6 303.6 L583.7 303.7 L583.4 304.3 L582.8 304.6 L582.5 305.2 L582.3 305.9 L581.5 305.6 L581.0 305.0 L580.2 305.2 L579.5 304.8 L579.7 304.1 L579.5 303.4 M586.5 304.1 L587.3 304.2 L588.1 304.3 L588.6 303.6 L589.2 303.2 L589.8 302.7 L590.5 302.6 L591.2 302.2 L591.8 302.0 L592.3 302.4 L592.9 302.7 L593.5 302.9 L594.1 303.2 L594.5 303.7 L595.1 303.9 L595.8 304.2 L596.4 304.1 L595.9 304.6 L595.4 305.1 L594.7 304.9 L594.1 304.4 L593.0 304.2 L591.8 304.1 L591.2 304.3 L590.5 304.1 L589.9 304.4 L589.2 304.3 L588.6 304.6 L587.8 304.6 L587.2 304.3 L586.5 304.1 M597.1 297.0 L598.0 296.6 L598.8 296.2 L599.5 295.5 L600.3 294.9 L601.3 295.1 L602.3 294.9 L603.2 294.8 L604.2 294.6 L605.2 294.8 L606.0 295.4 L607.1 295.6 L608.1 295.3 L608.7 296.2 L608.6 297.4 L608.8 298.5 L608.4 299.5 L608.4 300.2 L608.7 300.8 L609.3 301.0 L609.8 301.3 L610.3 301.8 L610.5 302.6 L610.8 303.2 L611.2 303.7 L612.0 303.6 L612.7 303.3 L613.5 303.2 L614.1 302.7 M614.1 307.6 L613.4 307.5 L612.7 307.3 L612.0 307.2 L611.2 307.3 L610.5 307.5 L610.0 307.0 L609.4 306.6 L608.8 306.6 L608.1 306.6 L607.5 306.2 L607.3 305.5 L606.7 305.2 L605.8 305.4 L605.0 305.8 L604.1 305.8 L603.5 306.6 L603.2 306.0 L602.8 305.5 L602.8 304.8 L602.3 304.3 L601.8 303.7 L601.1 303.6 L601.2 302.9 L600.7 302.3 L601.3 301.9 L602.1 301.7 L602.4 300.9 L602.3 300.1 L603.0 300.2 L603.7 300.0 L604.5 300.3 L604.9 300.9 L604.0 300.3 L603.5 299.3 L602.5 299.7 L601.4 299.9 L600.6 299.1 L599.5 299.0 L598.6 298.5 L597.8 297.7 L597.1 297.0 M560.4 226.8 L561.1 226.7 L561.6 226.3 L562.2 226.3 L562.8 226.4 L563.5 226.6 L564.1 226.7 L564.5 227.2 L565.0 227.5 L565.0 228.2 L565.5 228.7 L565.4 229.3 L565.5 229.9 L566.1 230.3 L566.5 230.8 L566.4 231.4 L566.4 232.1 L565.8 232.5 L565.4 233.0 L565.3 233.7 L565.4 234.4 L565.1 234.9 L564.6 235.3 L564.3 235.9 L563.9 236.4 L564.0 237.1 L564.5 237.7 L564.5 238.5 L564.5 239.2 L565.1 239.7 L565.2 240.5 L565.4 241.3 L565.0 242.0 L565.6 241.9 L566.2 241.9 L566.9 241.8 L567.5 241.6 L568.0 242.0 L568.4 242.6 L569.1 242.7 L569.5 243.2 L570.1 243.0 L570.8 242.9 L571.6 242.9 L572.1 243.4 L572.1 244.5 L572.5 245.5 L572.4 246.6 L572.8 247.6 L571.9 247.8 L571.1 247.6 L570.3 247.1 L569.9 246.2 L569.2 246.1 L568.5 245.9 L568.1 245.2 L567.5 244.8 L566.8 244.3 L566.1 243.8 L565.4 243.4 L564.7 243.1 L564.1 242.8 L563.5 242.8 L563.2 242.3 L562.7 241.9 L562.1 241.6 L561.6 241.2 L561.1 241.7 L560.4 241.6 L560.3 241.0 L560.6 240.4 L560.4 239.7 L560.1 239.2 L560.5 238.6 L560.7 238.0 L560.4 237.4 L560.4 236.7 L559.9 236.4 L559.7 235.8 L559.5 235.2 L559.4 234.6 L559.5 233.6 L559.1 232.6 L559.5 231.7 L559.8 230.7 L559.6 229.7 L560.1 228.8 L559.8 227.7 L560.4 226.8 M562.9 246.2 L563.4 247.1 L563.6 248.0 L563.0 248.0 L562.3 248.1 L561.7 248.1 L561.1 247.6 L562.2 247.2 L562.9 246.2 M573.5 248.0 L574.1 247.9 L574.7 248.0 L575.3 247.8 L576.0 248.0 L576.3 248.6 L576.6 249.2 L577.0 249.7 L577.1 250.4 L577.6 250.9 L577.8 251.6 L577.9 252.3 L578.1 252.9 L578.1 253.9 L577.3 254.3 L576.6 254.6 L576.0 255.1 L575.2 254.2 L574.2 253.6 L573.8 252.6 L573.5 251.5 L573.4 250.6 L573.4 249.8 L573.4 248.9 L573.5 248.0 M565.4 250.5 L566.3 251.2 L567.2 251.9 L568.2 252.4 L569.2 252.9 L569.0 253.6 L568.9 254.2 L568.2 254.7 L568.2 255.4 L567.2 255.0 L566.1 255.1 L566.2 254.4 L565.7 253.9 L565.2 253.4 L564.9 252.9 L565.2 252.3 L565.4 251.7 L565.3 251.1 L565.4 250.5 M568.9 253.6 L569.3 254.5 L569.9 255.4 L570.4 256.2 L570.7 257.2 L570.5 257.8 L570.1 258.4 L569.8 259.0 L569.6 259.6 L569.6 258.9 L569.3 258.3 L569.4 257.6 L569.2 256.9 L568.4 256.6 L568.2 255.9 L567.7 255.4 L567.1 255.1 L568.0 254.3 L568.9 253.6 M571.0 252.6 L572.0 253.1 L572.0 254.2 L572.3 255.2 L572.4 256.1 L571.7 256.9 L570.7 257.2 L571.0 256.1 L571.3 254.9 L571.3 254.2 L570.8 253.8 L571.3 253.3 L571.0 252.6 M556.5 255.1 L555.6 255.7 L554.5 256.0 L554.6 257.2 L554.1 258.2 L553.2 258.6 L552.9 259.5 L552.2 259.9 L551.5 260.4 L550.7 260.9 L550.2 261.5 L549.8 262.4 L548.8 262.5 L549.5 261.5 L550.4 260.7 L551.1 259.8 L551.9 258.9 L552.1 257.8 L552.2 256.7 L552.6 255.7 L552.8 254.6 L553.8 254.1 L554.8 253.6 L555.8 253.0 L556.5 252.2 L556.3 253.0 L556.0 253.6 L556.3 254.3 L556.5 255.1 M565.0 266.7 L565.6 266.0 L566.1 265.3 L566.3 264.4 L567.1 263.9 L567.8 264.0 L568.4 264.0 L568.8 263.5 L569.0 262.8 L570.0 262.3 L570.7 261.4 L571.5 261.6 L572.3 261.6 L572.9 262.2 L573.5 262.8 L574.1 262.1 L574.9 261.8 L575.4 261.0 L576.0 260.3 L576.0 259.5 L576.5 258.7 L577.1 258.1 L577.7 257.5 L578.6 258.5 L579.5 259.5 L580.6 260.1 L581.6 261.1 L581.9 262.4 L582.5 263.7 L582.9 265.3 L581.6 266.3 L581.2 267.4 L580.5 268.1 L580.6 269.2 L580.2 270.2 L579.7 271.0 L579.1 271.8 L578.2 271.9 L577.4 272.3 L577.2 271.7 L576.7 271.2 L576.2 270.7 L575.7 270.2 L575.1 269.9 L574.5 269.6 L573.8 269.8 L573.1 269.5 L572.9 268.9 L572.4 268.4 L572.3 267.8 L572.2 267.1 L572.0 266.5 L571.8 265.9 L571.7 265.2 L571.7 264.6 L571.2 265.2 L570.4 265.5 L569.5 265.4 L569.0 266.2 L568.4 266.8 L567.5 266.8 L566.9 267.3 L566.1 267.4 L565.6 266.9 L565.0 266.7 M533.6 316.8 L534.4 316.5 L535.2 316.3 L536.1 316.3 L536.8 316.8 L536.0 317.2 L535.2 317.2 L534.4 317.3 L533.6 317.5 M508.2 299.2 L508.9 299.1 L509.6 299.2 L510.0 299.8 L510.5 300.3 L510.7 301.0 L511.0 301.6 L511.2 302.2 L511.7 302.7 L511.2 302.2 L510.7 302.0 L510.4 301.4 L509.9 300.9 L509.9 300.2 L509.5 299.6 L508.8 299.5 L508.2 299.2 M514.5 300.9 L514.8 301.6 L515.4 301.7 L516.0 301.9 L516.6 302.0 L515.6 302.6 L514.5 303.0 L514.7 302.0 L514.5 300.9 M473.6 282.9 L474.6 283.0 L475.3 283.6 L474.6 283.1 L473.6 282.9 M478.2 287.2 L478.7 287.5 L479.0 288.1 L479.5 288.5 L479.9 288.9 L479.6 288.4 L479.1 288.0 L478.6 287.6 L478.2 287.2 M482.4 295.3 L482.8 296.1 L482.8 297.0 L483.6 297.6 L484.5 297.7 L483.8 297.1 L482.9 297.0 L482.8 296.1 L482.4 295.3 M495.1 310.8 L496.2 311.2 M594.3 332.3 L595.5 332.2 L596.6 332.5 L597.8 332.4 L598.9 332.0 L598.0 332.7 L597.5 333.7 L596.5 333.8 L595.4 333.7 L594.7 333.1 L594.3 332.3 M304.1 47.6 L304.9 47.5 L305.5 47.2 L306.3 47.1 L307.0 46.9 L308.0 47.2 L309.0 46.7 L309.8 47.4 L310.8 47.4 L311.2 48.5 L312.3 48.8 L311.4 49.5 L310.5 50.1 L309.5 49.4 L308.4 49.6 L307.6 49.8 L306.7 49.8 L306.0 49.3 L305.2 49.0 L304.8 48.2 L304.1 47.6 M340.9 44.6 L341.9 44.8 L342.9 44.9 L343.3 43.8 L344.4 43.6 L345.4 44.1 L346.4 43.9 L347.4 44.4 L348.3 45.0 L347.9 45.6 L347.2 46.0 L346.5 46.1 L345.8 46.2 L344.9 46.0 L344.1 45.6 L343.2 45.5 L342.3 45.5 L341.5 45.1 L340.9 44.6 M319.3 36.7 L319.3 37.5 L319.5 38.4 L318.7 38.8 L318.3 39.5 L319.0 39.7 L319.7 39.9 L320.3 40.4 L321.1 40.6 L322.0 41.2 L322.8 41.8 L323.9 42.4 L325.0 42.1 L326.1 42.1 L327.1 42.7 L327.8 42.7 L328.4 42.5 L329.1 42.5 L329.8 42.3 L330.4 42.6 L331.0 42.8 L331.7 42.9 L332.4 43.0 L333.0 42.9 L333.6 42.9 L334.2 42.6 L334.8 42.6 L335.5 42.4 L336.1 42.8 L336.7 43.3 L337.3 42.8 L336.6 42.0 L335.9 41.3 L335.0 40.8 L334.1 40.7 L333.1 40.9 L332.5 40.6 L331.8 40.5 L331.2 40.1 L331.0 39.5 L330.8 38.8 L330.7 38.1 L330.7 37.3 L331.0 36.7 M103.3 143.9 L103.9 143.9 L104.5 143.7 L105.1 143.5 L105.8 143.6 L107.6 143.7 L109.3 144.2 L111.0 144.9 L112.8 145.3 L112.1 145.7 L111.4 146.2 L110.9 146.8 L110.3 147.5 L110.1 148.1 L110.3 148.9 L110.3 149.6 L110.3 150.3 L110.1 151.2 L110.0 152.0 L109.5 152.6 L108.9 153.1 L109.6 153.9 L110.0 154.9 L109.5 155.3 L109.1 155.9 L108.8 156.6 L108.9 157.3 L108.7 158.2 L108.6 159.1 L108.6 160.0 L108.6 160.9 M128.3 139.0 L129.1 139.6 L129.8 140.4 L131.0 140.8 L132.2 141.1 L133.5 141.0 L134.7 141.5 L136.1 141.5 L137.3 142.1 L138.7 141.7 L140.0 142.2 L141.6 142.0 L143.0 141.5 L144.7 141.6 L146.0 142.5 M143.5 111.8 L144.4 112.4 L145.3 112.9 L146.5 113.0 L147.4 113.8 L148.5 114.0 L149.5 114.6 L150.1 115.0 L150.7 115.0 L151.2 115.2 L151.6 115.7 L152.4 116.3 L153.3 116.7 L154.3 117.0 L155.2 117.5 L156.2 117.5 L157.3 117.5 L158.4 117.9 L159.4 118.5 L160.5 118.5 L161.6 118.4 L162.6 119.0 L163.6 119.2 L163.3 120.6 L162.4 121.6 L162.0 122.9 L161.5 124.2 L161.0 124.6 L160.4 124.8 L159.7 125.1 L159.1 124.9 L158.4 125.9 L157.9 127.0 L156.8 127.7 L155.9 128.4 L156.7 128.4 L157.6 128.5 L158.0 129.2 L158.7 129.8 L159.4 130.5 L159.0 131.1 L158.6 131.7 L158.3 132.3 L158.0 133.0 L158.2 133.8 L158.5 134.7 L158.9 135.5 L159.4 136.2 L160.1 137.2 L161.2 137.6 M146.7 110.8 L147.6 110.7 L148.5 110.5 L149.4 110.5 L150.2 110.8 L151.3 110.5 L152.3 110.4 L153.0 110.8 L153.8 111.0 L154.5 111.2 L155.2 111.5 L155.4 112.2 L155.5 112.9 L156.1 113.7 L156.6 114.6 L156.5 115.4 L156.6 116.1 L156.2 116.7 L156.2 117.5 M155.5 112.9 L155.8 112.1 L156.2 111.5 L155.8 110.5 L155.9 109.3 L156.4 108.8 L157.2 108.5 L157.9 108.7 L158.7 108.6 L159.2 108.0 L159.4 107.2 L159.5 106.4 L160.2 105.9 L160.3 105.2 L160.1 104.4 M165.1 98.4 L165.7 98.8 L166.4 99.0 L167.1 98.9 L167.9 98.8 L168.8 98.9 L169.6 98.8 M184.8 101.9 L185.0 103.1 L185.5 104.1 L185.0 104.9 L184.5 105.8 L185.3 106.3 L186.2 106.5 L186.8 107.5 L186.6 108.6 L186.7 109.5 L187.2 110.2 L187.4 111.0 L187.6 111.8 L187.0 111.7 L186.4 112.1 L185.8 111.7 L185.2 112.2 L183.6 112.8 L181.9 113.1 L180.5 114.1 L178.8 114.6 L177.8 115.0 L178.3 115.7 L178.8 116.4 L179.2 116.9 L179.8 117.2 L180.3 117.6 L180.6 118.2 L181.3 118.5 L182.0 119.1 L182.6 119.6 L183.4 119.9 L182.5 120.3 L182.0 121.1 L181.0 121.5 L180.6 122.4 L180.7 123.5 L180.6 124.5 L179.9 124.8 L179.1 125.0 L178.3 124.7 L177.8 124.2 L176.3 124.3 L174.8 124.6 L173.3 124.1 L171.8 124.5 L170.9 124.4 L170.2 124.9 L169.4 124.8 L168.6 124.5 L167.7 124.5 L166.8 124.3 L165.9 124.0 L165.1 123.8 L164.2 124.2 L163.3 124.5 L162.4 124.4 L161.5 124.2 M168.6 124.5 L168.6 125.4 L168.2 126.3 L169.0 126.4 L169.8 126.6 L170.6 126.5 L171.4 126.6 L171.0 127.2 L170.5 127.7 L170.5 128.4 L170.4 129.1 L169.4 129.6 L168.5 130.0 L167.5 130.5 L166.5 130.5 L166.2 129.8 L165.6 129.3 L164.9 129.0 L164.4 128.4 L163.1 128.7 L161.7 128.9 L160.5 129.5 L159.4 130.2 M171.4 126.6 L172.5 126.7 L173.5 127.0 L174.4 126.2 L175.5 126.0 L176.6 126.2 L177.8 125.9 L179.2 126.3 L180.4 127.0 L181.8 127.4 L183.1 128.0 L182.9 128.7 L183.1 129.3 L182.8 129.9 L182.7 130.5 M183.4 119.9 L184.3 119.6 L185.1 119.4 L186.1 119.4 L186.9 119.2 L187.6 119.9 L189.2 120.9 L190.9 121.6 L192.5 120.9 L194.4 120.6 L194.6 121.7 L195.1 122.8 L194.5 123.2 L194.1 123.8 L193.6 124.3 L192.9 124.5 L192.6 125.1 L192.2 125.6 L191.9 126.1 L191.5 126.6 L190.8 127.3 L189.7 127.7 L188.5 127.8 L187.4 128.1 L186.2 128.4 L185.4 128.7 L184.6 128.7 L183.8 128.5 L183.1 128.0 M182.7 131.6 L184.1 131.2 L185.5 131.2 L186.9 131.5 L188.4 131.6 L189.1 131.2 L189.7 130.7 L189.9 129.9 L190.1 129.1 L190.6 128.7 L191.0 128.3 L191.6 128.2 L192.2 128.0 L193.0 128.8 L193.7 129.6 L194.7 130.0 L195.8 130.2 L197.2 130.1 L198.6 130.2 L200.0 130.3 L201.4 130.2 L202.6 129.6 L203.8 129.2 L205.1 129.5 L206.4 129.5 L207.1 129.1 L207.9 129.0 L208.7 128.9 L209.5 128.8 L210.1 127.4 L211.2 126.3 L211.7 124.9 L212.7 123.8 L213.4 123.5 L214.2 123.6 L214.9 123.2 L215.5 122.8 M187.6 111.8 L188.9 112.0 L190.1 111.9 L191.2 112.6 L192.2 113.2 L192.9 113.5 L193.5 113.7 L194.0 114.2 L194.7 114.3 L195.7 114.3 L196.7 114.4 L197.6 114.9 L198.2 115.7 L198.6 116.6 L199.3 117.2 L200.2 117.4 L201.1 117.5 L202.0 118.1 L203.1 118.3 L204.2 118.3 L205.3 118.5 L206.5 117.7 L207.8 117.3 L209.2 117.6 L210.6 117.8 L211.6 118.1 L212.5 118.5 L213.5 118.8 L214.5 118.9 L213.9 119.3 L213.5 120.0 L213.1 120.7 L212.7 121.3 L210.9 122.1 L209.1 122.7 L207.2 122.5 L205.3 122.1 L204.4 122.8 L203.4 123.3 L202.2 123.6 L201.1 123.5 L199.5 123.8 L198.0 124.1 L196.5 123.4 L195.1 122.8 M194.4 120.6 L195.0 120.1 L195.8 119.8 L196.7 119.8 L197.5 119.6 L198.4 119.0 L199.3 118.6 L200.2 118.1 L201.1 117.5 M212.7 121.3 L213.3 122.0 L214.0 122.2 L214.8 122.4 L215.5 122.8 M190.1 132.6 L190.8 132.4 L191.5 132.6 L192.2 132.8 L192.9 132.6 L195.2 132.9 L197.3 133.3 L199.5 133.6 L201.8 133.3 L202.5 133.4 L203.2 133.7 L203.1 134.8 L202.5 135.8 L202.6 136.6 L203.0 137.3 L203.5 137.9 L203.9 138.6 L203.3 139.5 L202.2 139.3 L201.5 139.9 L200.7 140.4 L200.3 141.4 L200.0 142.5 M190.1 132.6 L190.0 133.2 L190.0 133.9 L189.9 134.5 L190.1 135.1 L190.5 135.7 L190.9 136.3 L191.4 136.7 L191.9 137.2 L193.3 137.7 L194.7 138.2 L195.6 139.5 L196.8 140.4 L197.6 141.0 L198.3 141.7 L199.2 142.0 L200.0 142.5 M206.4 129.5 L207.5 130.0 L208.4 131.0 L209.2 131.9 L210.2 132.6 L211.3 133.1 L212.0 134.0 L213.1 134.3 L214.1 134.8 L214.5 135.4 L214.8 136.2 L214.6 136.8 L214.5 137.5 L214.3 138.1 L213.8 138.6 L214.4 139.1 L215.0 139.6 L215.3 140.3 L215.5 141.1 L215.1 141.6 L214.6 141.9 L214.1 142.3 L213.8 142.9 M203.2 133.7 L203.8 132.4 L204.1 131.1 L205.4 130.6 L206.4 129.5 M214.8 136.2 L215.9 136.8 L217.0 137.2 L218.2 137.6 L219.4 137.9 L221.2 138.3 L223.0 138.1 L224.7 137.3 L226.5 137.2 L227.9 136.5 L229.5 137.1 L231.0 136.8 L232.5 136.9 L233.3 136.9 L234.1 137.3 L234.8 137.9 L235.7 137.9 M215.5 122.8 L217.3 123.1 L219.1 123.2 L220.9 123.2 L222.6 123.8 L224.2 123.4 L225.4 122.3 L227.0 122.6 L228.6 122.1 L230.6 122.9 L232.4 124.1 L232.9 126.3 L234.2 128.0 L233.9 128.9 L234.2 129.8 L233.9 130.7 L234.2 131.6 L235.6 132.0 L236.8 132.4 L238.2 132.4 L239.5 132.6 M228.6 122.1 L229.7 122.1 L230.8 122.3 L231.9 122.0 L232.8 121.3 L234.1 121.8 L235.2 122.6 L236.5 122.7 L237.8 123.1 L238.3 124.4 L238.8 125.6 L239.6 126.8 L240.6 127.7 L239.5 127.5 L238.7 128.1 L237.7 128.4 L236.7 128.4 L236.2 129.3 L235.8 130.3 L235.0 130.9 L234.2 131.6 M213.8 142.9 L214.4 143.7 L215.2 144.4 L215.1 145.4 L215.5 146.4 L216.5 146.1 L217.4 145.8 L218.4 145.9 L219.4 145.7 L220.7 145.5 L222.0 145.2 L223.0 145.9 L224.0 146.7 L224.6 146.0 L225.4 145.4 L226.3 145.5 L227.2 145.0 L227.9 144.6 L228.5 144.3 L229.3 144.2 L230.0 143.9 L230.9 144.3 L231.8 144.2 L232.6 143.8 L233.5 143.9 M227.2 145.0 L228.0 145.6 L228.6 146.4 L228.1 146.9 L227.5 147.1 L227.3 147.7 L226.8 148.2 M215.5 146.4 L213.9 147.1 L212.2 147.4 L210.5 147.7 L208.8 148.2 L208.6 148.8 L208.2 149.5 L207.8 150.0 L207.4 150.6 L206.9 151.0 L206.6 151.5 L206.1 151.9 L205.7 152.4 M203.2 144.3 L203.4 143.7 L203.7 143.1 L204.2 142.6 L204.6 142.2 L205.2 142.4 L205.9 142.6 L206.5 142.9 L207.1 143.2 L207.0 144.2 L207.1 145.2 L207.2 146.1 L207.4 147.1 L208.2 147.6 L208.8 148.2 M207.1 143.2 L208.7 143.5 L210.4 143.3 L212.1 142.8 L213.8 142.9 M203.9 138.6 L204.0 139.5 L203.9 140.5 L204.4 141.2 L204.6 142.2 M203.5 100.2 L206.4 100.6 L209.4 100.2 L212.3 100.4 L215.2 100.2 L215.8 100.5 L216.4 100.8 L217.1 101.1 L217.7 101.6 L218.3 102.2 L218.5 103.1 L219.0 103.9 L219.1 104.8 L218.5 105.2 L218.4 106.0 L218.0 106.6 L217.7 107.2 L217.5 107.9 L217.5 108.7 L217.8 109.3 L218.0 110.1 L218.7 110.6 L219.1 111.4 L219.4 112.1 L219.8 112.9 L219.0 113.6 L218.2 114.2 L217.2 114.5 L216.2 115.0 L216.0 116.1 L216.0 117.2 L215.0 117.8 L214.5 118.9 M208.8 94.2 L209.7 93.9 L210.6 93.7 L211.5 93.5 L212.4 93.1 L214.2 93.3 L215.9 92.8 L217.7 93.0 L219.4 93.5 L221.8 93.5 L224.2 93.7 L226.2 95.1 L228.6 95.6 M217.7 101.6 L218.9 100.9 L220.2 100.3 L221.5 101.0 L222.9 100.9 L223.7 100.3 L224.2 99.5 L225.1 99.0 L225.8 98.4 L226.2 97.5 L227.0 96.8 L227.8 96.3 L228.6 95.6 M209.2 97.0 L210.5 97.9 L211.9 98.8 L213.6 99.0 L215.2 98.4 L215.4 99.3 L215.2 100.2 M220.5 87.8 L221.4 87.8 L222.3 87.7 L223.1 87.4 L224.0 87.5 L225.0 87.9 L226.1 88.3 L227.1 89.0 L228.2 88.9 L229.1 88.9 L229.8 88.4 L230.7 88.5 L231.4 88.9 M231.4 88.9 L232.3 89.1 L232.8 89.9 L233.2 90.9 L233.7 91.8 L233.8 92.9 L234.2 93.8 L233.6 94.1 L232.9 94.1 L232.5 94.6 L232.1 95.2 L231.2 95.3 L230.4 95.4 L229.5 95.4 L228.6 95.6 M233.5 82.4 L232.9 83.3 L232.5 84.3 L232.8 85.5 L232.4 86.7 L231.8 87.7 L231.4 88.9 M234.2 93.8 L236.8 94.4 L239.3 93.8 L241.4 95.1 L243.8 95.9 L245.1 97.1 L246.3 98.2 L246.5 99.9 L247.0 101.6 L247.2 102.5 L247.1 103.4 L247.1 104.2 L247.0 105.1 L246.4 105.8 L246.0 106.6 L245.6 107.5 L245.2 108.3 M218.0 110.1 L219.4 109.9 L220.4 109.0 L221.6 109.2 L222.9 109.0 L224.8 109.5 L226.3 110.9 L228.1 110.2 L230.0 110.4 L232.7 110.3 L235.3 110.3 L238.0 110.5 L240.6 110.8 L241.8 110.2 L242.8 109.3 L244.0 108.8 L245.2 108.3 L247.1 108.1 L248.9 107.5 L250.7 107.4 L252.6 107.2 L253.2 108.5 L254.2 109.5 L255.1 110.6 L256.1 111.5 L257.1 111.9 L258.0 112.4 L258.9 112.8 L259.7 113.6 L260.8 113.0 L261.9 113.6 L262.9 114.2 L263.9 114.6 L265.3 114.4 L266.4 115.2 L267.6 115.7 L268.8 116.1 L270.6 116.2 L272.4 116.6 L274.2 116.6 L275.9 117.1 L275.7 117.8 L275.6 118.6 L275.3 119.3 L274.8 119.9 L275.4 121.0 L275.9 122.1 L275.3 122.8 L274.5 123.5 L273.2 123.9 L272.0 124.7 L270.6 124.9 L269.5 125.9 M232.8 78.7 L233.8 77.8 L235.0 77.1 L236.2 76.8 L237.4 76.2 L239.1 75.3 L240.9 74.7 L242.6 73.9 L243.8 72.3 L244.2 71.6 L244.8 71.0 L245.5 70.5 L246.2 70.2 L244.1 69.5 L241.9 69.1 L240.7 67.3 L239.2 65.6 L238.7 64.1 L238.9 62.6 L240.0 61.5 L241.0 60.3 L240.0 60.2 L239.1 59.9 L238.3 59.3 L237.4 58.9 L238.2 57.5 L238.6 56.0 L239.0 54.4 L240.2 53.3 L238.9 52.5 L237.6 51.7 L236.7 50.4 L236.0 49.0 L236.7 48.7 L237.7 48.0 L238.5 47.2 L239.5 46.5 L240.6 46.2 M236.7 48.7 L235.1 47.7 L233.4 46.8 L231.8 45.8 L230.0 45.1 L228.5 45.7 L226.9 46.3 L225.8 47.5 L224.7 48.7 L220.4 49.8 L216.7 52.4 L213.1 49.7 L208.8 48.3 L211.4 48.2 L213.5 49.6 L215.4 51.2 L217.7 52.2 L218.3 53.3 L218.4 54.5 L218.2 55.8 L219.1 56.8 L219.3 57.5 L219.5 58.3 L219.7 59.0 L219.9 59.8 M208.8 48.3 L207.8 48.7 L206.8 49.2 L206.1 50.0 L205.3 50.8 L203.9 49.3 L201.9 48.7 L200.0 49.5 L198.2 50.4 L196.7 51.0 L195.7 52.4 L194.5 53.4 L192.9 54.0 L192.0 55.5 L190.5 56.6 L189.0 57.7 L187.6 58.9 L186.9 60.4 L185.6 61.5 L185.1 63.2 L184.1 64.5 L183.8 65.1 L183.2 65.4 L182.7 65.8 L182.4 66.3 L181.2 67.5 L179.8 68.2 L178.3 68.8 L177.1 69.8 L177.1 71.1 L177.3 72.4 L177.4 73.7 L178.1 74.8 L178.7 75.2 L179.0 75.8 L179.4 76.4 L179.9 76.9 L179.3 77.6 L179.1 78.6 L178.8 79.5 L178.5 80.4 L178.1 80.9 L177.6 81.4 L176.9 81.5 L176.4 81.8 L176.1 82.5 L176.1 83.3 L175.5 83.8 L174.9 84.3 M113.9 99.5 L113.1 100.3 L112.5 101.2 L111.6 101.1 L110.7 100.8 L109.8 101.0 L108.9 101.2 L108.0 101.2 L107.1 101.1 L106.4 100.4 L105.8 99.8 L106.4 99.3 L107.1 98.9 L107.4 98.0 L108.2 97.7 M124.1 94.9 L125.0 94.9 L125.9 95.0 L126.8 95.0 L127.6 95.2 M275.5 139.0 L277.0 139.0 L278.4 139.0 L279.8 138.8 L281.2 139.0 L282.7 138.9 L284.0 139.6 L285.2 140.5 L286.5 141.1 L287.9 141.2 L289.3 141.1 L290.8 140.7 L292.1 141.5 L293.1 141.6 L294.1 141.8 L295.0 142.0 L296.0 142.2 L296.7 142.8 L297.5 143.3 L298.4 143.7 L299.2 144.3 L300.2 145.0 L301.3 145.5 L302.1 146.5 L303.4 146.7 L304.2 146.2 L305.0 145.9 L305.8 145.4 L306.3 144.6 M281.2 145.7 L282.3 145.8 L283.5 145.8 L284.6 145.6 L285.8 145.7 L286.3 146.2 L287.1 146.3 L287.7 146.7 L288.3 147.1 L288.2 148.0 L288.3 148.9 L288.7 149.7 L288.6 150.6 L289.5 151.1 L290.3 151.5 L291.3 151.5 L292.1 152.0 L292.6 152.5 L292.8 153.1 L292.1 153.8 L291.7 154.7 L291.1 155.6 L291.1 156.6 L291.1 157.7 L291.4 158.7 L291.5 159.8 L291.8 160.9 M288.3 147.1 L289.5 148.0 L291.0 147.7 L292.2 147.2 L293.5 146.7 L294.9 146.7 L296.2 146.8 L297.6 146.9 L298.8 147.5 L298.9 146.7 L298.9 145.9 L299.1 145.1 L299.2 144.3 M293.5 146.7 L294.0 147.4 L294.7 147.8 L295.3 148.2 L295.7 148.9 L296.7 149.7 L297.5 150.6 L298.1 151.7 L298.8 152.7 L298.9 153.8 L298.8 154.9 L300.0 154.3 L301.1 153.6 L302.2 153.1 L303.4 152.7 L303.8 153.6 L303.9 154.5 L304.0 155.4 L304.1 156.3 L304.9 156.4 L305.7 156.7 L306.5 156.9 L307.3 156.6 M292.8 153.1 L294.5 153.5 L296.1 153.2 L297.4 154.1 L298.8 154.9 M261.4 165.4 L261.9 164.5 L262.4 163.5 L263.2 162.7 L264.3 162.3 L265.4 162.5 L266.5 162.5 L267.7 162.3 L268.8 162.3 L270.6 162.5 L272.4 162.4 L274.1 162.5 L275.9 162.3 L278.0 161.9 L280.1 161.7 L282.3 161.5 L284.4 161.2 L285.4 161.1 L286.3 161.3 L287.3 161.2 L288.3 160.9 L289.1 160.6 L290.0 160.6 L290.9 160.5 L291.8 160.9 L292.8 162.0 L294.0 163.0 L294.8 164.3 L295.3 165.8 L295.4 166.6 L295.9 167.2 L296.7 167.5 L297.1 168.3 L296.5 169.2 L296.3 170.2 L295.8 171.2 L295.3 172.1 L295.8 173.1 L296.2 174.0 L296.9 174.8 L297.4 175.7 L298.6 176.3 L299.9 176.7 L301.2 176.8 L302.4 177.4 L302.6 178.4 L302.7 179.4 L302.8 180.4 L303.1 181.3 L303.2 182.2 L303.4 183.0 L303.8 183.7 L304.1 184.5 L304.5 185.1 L305.0 185.4 L305.3 185.9 L305.9 186.3 M284.4 161.2 L283.6 162.3 L282.4 162.6 L281.4 163.3 L280.5 164.0 L280.4 165.7 L280.1 167.4 L279.6 169.0 L279.4 170.7 L277.5 171.7 L275.6 172.5 L273.5 173.2 L271.7 174.3 M261.4 170.0 L262.1 170.4 L262.6 170.9 L263.2 171.2 L263.9 171.4 L263.1 172.2 L262.3 172.9 L261.5 173.6 L261.1 174.6 M261.1 176.7 L262.2 176.4 L263.2 176.8 L264.3 177.1 L265.3 177.4 L267.1 177.2 L268.6 176.2 L270.4 175.6 L271.7 174.3 L272.1 175.3 L272.5 176.4 L272.8 177.4 L273.1 178.5 L270.9 178.1 L269.0 179.2 L267.4 180.6 L265.3 181.0 L266.0 182.0 L266.8 183.0 L267.9 183.6 L268.8 184.5 L268.3 184.8 L267.9 185.3 L267.3 185.6 L267.1 186.3 L265.6 186.7 L264.1 187.0 L263.1 188.2 L261.8 189.1 L260.8 189.2 L259.9 189.3 L259.0 188.8 L258.1 188.6 M257.9 188.0 L258.5 187.3 L258.8 186.4 L258.6 185.4 L259.0 184.5 L259.4 183.7 L259.5 182.7 L259.7 181.8 L260.0 181.0 L260.5 179.9 L261.0 178.9 L260.8 177.8 L260.4 176.7 L259.5 176.0 L258.6 175.3 M257.9 188.0 L257.1 186.6 L256.9 185.0 L256.2 183.6 L255.8 182.0 M273.1 178.5 L275.8 178.6 L278.5 179.2 L280.6 180.9 L283.0 182.4 L285.7 183.6 L288.0 185.4 L289.4 188.2 L292.5 189.1 L294.1 189.0 L295.7 189.1 L297.2 189.3 L298.8 189.4 L299.8 190.2 L300.8 190.9 L301.9 191.2 L303.1 191.6 L303.6 192.0 L304.3 192.0 L304.9 191.6 L305.6 191.6 M298.8 189.4 L299.9 188.6 L301.0 187.7 L302.1 186.9 L303.1 185.9 L304.1 186.3 M285.8 234.2 L286.6 233.1 L287.5 231.9 L288.8 231.4 L290.0 230.7 L292.1 230.1 L294.3 229.8 L296.2 231.1 L298.5 231.1 L299.4 230.8 L300.4 230.5 L301.4 230.3 L302.4 230.4 L303.2 228.9 L304.5 227.7 L305.9 226.6 L307.7 226.5 L310.4 225.7 L313.1 226.6 L315.5 225.3 L318.3 225.1 L321.6 224.5 L324.8 223.5 L327.9 221.9 L331.3 221.5 L332.6 219.1 L332.2 216.4 L330.5 214.5 L329.6 212.0 L327.2 212.0 L324.9 212.2 L322.7 211.6 L320.4 211.3 L319.7 209.7 L318.1 209.2 L317.9 207.6 L316.8 206.4 M319.0 233.5 L319.8 233.5 L320.5 233.3 L321.3 233.3 L322.1 233.2 L321.0 231.2 L319.8 229.3 L318.6 227.3 L318.3 225.1 M329.6 212.0 L330.0 210.7 L330.6 209.5 L331.8 208.8 L332.4 207.4 L332.7 206.6 L333.3 205.9 L333.6 205.1 L333.8 204.3 M314.0 205.0 L314.8 205.1 L315.4 205.7 M222.9 214.5 L228.5 214.9 L234.1 214.3 L239.6 213.4 L245.2 214.5 L250.0 216.3 L255.1 216.5 L259.7 213.9 L265.0 214.5 M222.9 180.6 L224.9 189.0 L223.4 197.5 L222.2 206.0 L222.9 214.5 L223.1 216.3 L223.4 218.0 L223.3 219.8 L222.9 221.5 L222.1 221.4 L221.2 221.6 L220.3 221.7 L219.4 221.5 L219.4 222.4 L219.4 223.3 L213.0 218.6 L205.6 215.7 L198.6 211.9 L191.2 209.2 L190.2 209.5 L189.4 210.0 L188.6 210.6 L187.6 211.0 L186.6 211.1 L185.8 211.7 L185.1 212.5 L184.1 212.7 L182.7 211.3 L180.9 210.4 L178.9 210.2 L177.1 209.2 L176.6 208.5 L176.2 207.7 L175.5 207.2 L175.3 206.4 L174.5 205.2 L173.2 204.8 L171.8 204.7 L170.7 203.9 L171.0 202.5 L170.1 201.3 L170.2 199.9 L170.0 198.6 L170.4 195.9 L169.9 193.3 L169.5 190.7 L169.3 188.0 L169.1 187.4 L169.2 186.7 L168.7 186.2 L168.6 185.6 L169.5 185.3 L170.4 184.9 L170.7 184.0 L171.1 183.1 L172.4 182.4 L173.6 181.4 L174.3 180.0 L175.3 178.9 L175.7 178.0 L176.3 177.2 L175.8 176.3 L175.6 175.3 M164.4 161.9 L164.2 163.6 L163.9 165.3 L163.8 166.9 L164.0 168.6 L163.0 169.3 L162.8 170.6 L162.0 171.4 L161.2 172.1 L161.8 173.1 L162.1 174.1 L163.1 174.7 L163.6 175.7 L164.8 178.2 L165.4 180.9 L167.1 183.0 L168.2 185.6 M128.3 168.3 L128.7 170.4 L129.5 172.4 L129.5 174.6 L129.8 176.7 L128.9 177.5 L127.8 177.8 L126.8 178.3 L125.9 178.9 L124.6 179.3 L123.3 179.0 L122.1 179.6 L121.3 180.6 L120.2 182.6 L118.2 183.5 L116.9 185.3 L115.3 186.6 L112.7 188.3 L110.1 189.9 L107.0 190.3 L104.0 190.8 L104.2 191.7 L104.2 192.6 L104.0 193.5 L104.0 194.4 L100.0 195.4 L96.0 196.6 L92.1 195.3 L88.1 194.4 M104.0 194.4 L104.0 195.9 L104.1 197.4 L104.0 198.9 L104.0 200.4 L101.2 199.1 L98.2 199.3 L95.3 200.2 L92.3 200.4 L92.2 202.6 L92.7 204.8 L92.0 206.9 L92.3 209.2 L91.2 209.4 L90.2 210.1 L89.1 210.6 L88.5 211.7 L88.6 213.0 L88.8 214.3 L88.8 215.6 L88.8 217.0 L85.2 217.4 L81.8 218.3 L78.0 218.9 L74.7 217.0 M104.0 195.8 L107.5 197.6 L110.8 200.0 L114.3 201.8 L117.8 203.9 L124.3 205.3 L128.8 210.2 L133.4 214.8 L138.9 218.0 L141.0 219.4 L142.4 221.4 L144.5 222.7 L146.0 224.7 L146.8 224.3 L147.8 224.4 L148.6 224.7 L149.5 224.7 L151.0 224.5 L152.5 224.8 L153.7 224.0 L155.2 223.7 L157.0 222.9 L158.4 221.4 L159.6 219.9 L161.2 218.7 L164.9 216.1 L168.9 213.9 L173.1 212.1 L176.7 209.2 M117.8 203.9 L116.7 204.2 L115.7 204.7 L114.6 204.6 L113.5 204.3 L112.3 211.9 L111.4 219.5 L114.5 226.6 L117.0 233.9 L116.5 234.7 L116.2 235.7 L115.8 236.6 L115.3 237.4 L110.4 237.1 L105.6 238.1 L100.6 237.8 L95.9 239.2 L95.4 238.7 L95.2 238.1 L94.6 237.9 L94.1 237.4 L93.8 238.3 L93.0 238.8 L92.4 239.4 L91.6 239.9 L90.3 238.0 L89.0 236.2 L87.2 234.8 L85.3 233.5 L83.3 234.3 L81.3 235.0 L79.3 234.5 L77.2 234.6 M149.5 224.7 L150.3 227.1 L151.3 229.5 L150.9 232.1 L149.5 234.2 L149.1 235.3 L148.6 236.2 L147.5 236.7 L147.1 237.8 L145.1 237.9 L143.2 237.5 L141.2 237.9 L139.3 238.1 L138.5 238.9 L137.5 239.2 L136.5 239.4 L135.4 239.5 L134.6 239.3 L133.9 238.8 L133.1 238.7 L132.2 238.8 L130.8 239.2 L129.8 240.2 L128.8 241.2 L127.6 242.0 L126.8 242.7 L126.0 243.2 L125.0 243.6 L124.1 244.1 L123.0 245.3 L122.2 246.7 L120.8 247.6 L119.2 248.0 L118.4 249.4 L117.1 250.3 L116.3 251.6 L115.6 252.9 M135.4 239.5 L136.1 240.9 L136.8 242.4 L137.5 243.8 L138.2 245.2 L139.7 246.2 L141.2 247.1 L142.9 247.8 L144.6 248.4 L145.1 249.1 L145.8 249.8 L146.7 250.1 L147.4 250.8 L147.4 249.1 L147.9 247.5 L148.4 245.9 L149.2 244.5 L150.9 244.1 L152.6 244.4 L154.2 244.0 L155.9 243.8 L157.6 244.5 L159.3 245.3 L161.1 245.9 L162.9 246.2 L164.7 246.7 L166.6 246.7 L168.4 246.1 L170.0 245.2 L171.8 244.8 L173.5 244.8 L175.3 244.6 L177.1 245.2 L178.5 244.8 L179.8 244.1 L181.3 244.2 L182.7 243.8 L184.4 241.6 L185.2 239.0 L187.5 237.6 L189.4 235.7 L190.5 232.3 L190.2 228.8 L190.1 225.3 L190.1 221.9 L190.3 220.9 L190.8 220.1 L189.9 217.8 L190.0 215.3 L188.6 213.2 L187.6 211.0 M219.4 223.3 L218.7 226.6 L219.2 230.0 L219.2 233.4 L218.7 236.7 L217.5 238.0 L216.5 239.4 L216.0 241.0 L215.5 242.7 L214.8 243.4 L214.3 244.3 L213.5 244.9 L212.7 245.5 L213.1 246.3 L213.5 247.2 L213.9 248.0 L214.5 248.7 L214.5 249.9 L214.7 251.1 L214.1 252.2 L213.8 253.3 L212.7 254.8 L211.1 255.7 L210.1 257.3 L208.8 258.6 L207.1 259.2 L205.4 260.0 L203.7 260.8 L201.8 260.3 L199.8 261.3 L197.8 261.7 L196.1 263.0 L194.7 264.6 L193.3 264.9 L192.0 264.6 L190.6 265.0 L189.4 265.6 L188.0 264.8 L187.3 263.2 L186.9 261.6 L185.9 260.3 L186.8 259.4 L187.9 258.7 L188.8 257.7 L189.8 256.8 L188.4 255.1 L186.5 254.0 L186.1 251.9 L186.2 249.8 L185.7 248.8 L184.8 248.0 L183.9 247.2 L183.3 246.1 L183.0 244.9 L182.7 243.8 M184.8 248.0 L184.4 249.3 L184.5 250.7 L184.0 252.0 L183.4 253.3 L182.5 253.9 L182.1 254.9 L181.6 255.8 L181.3 256.8 L180.5 258.1 L179.5 259.2 L179.1 260.6 L178.8 262.1 L178.4 263.6 L178.3 265.1 L177.3 266.2 L176.4 267.4 L175.2 267.3 L174.0 267.4 L172.8 267.1 L171.8 267.8 L171.1 268.3 L170.5 269.0 L170.0 269.7 L169.3 270.2 L168.1 271.3 L167.3 272.8 L165.8 273.6 L165.1 275.2 M147.4 250.8 L148.0 252.3 L148.3 253.8 L147.8 255.3 L147.4 256.8 L146.9 257.9 L145.8 258.6 L144.7 259.1 L144.2 260.3 L143.7 262.8 L145.2 264.9 L144.4 267.2 L144.2 269.5 M147.4 250.8 L146.4 250.5 L145.3 250.5 L144.2 250.3 L143.2 250.5 L141.6 250.5 L140.3 251.2 L139.3 252.3 L138.2 253.3 L137.4 253.5 L136.6 253.6 L135.9 253.0 L135.1 252.9 L132.6 251.6 L129.9 251.5 L127.4 252.6 L124.8 253.3 L125.5 255.7 L126.0 258.2 L125.4 260.6 L125.5 263.2 L124.6 264.8 L123.9 266.5 L123.4 268.4 L123.4 270.2 L123.4 271.2 L123.4 272.2 L123.3 273.2 L123.8 274.1 M135.1 252.9 L135.6 253.8 L136.3 254.7 L136.3 255.8 L136.5 256.8 L135.9 258.6 L135.9 260.4 L136.6 262.1 L136.8 263.9 L137.0 265.6 L137.6 267.3 L138.3 269.0 L138.9 270.6 M138.2 253.3 L139.0 255.0 L139.9 256.6 L140.4 258.5 L140.3 260.3 L140.2 262.8 L139.4 265.2 L139.9 267.6 L141.1 269.9 M124.8 253.3 L123.4 252.0 L121.7 250.9 L120.3 249.6 L119.2 248.0 M107.9 276.6 L107.2 274.9 L106.4 273.3 L105.9 271.5 L105.0 269.9 L105.3 268.7 L105.2 267.6 L105.4 266.4 L105.4 265.3 L105.8 264.5 L105.8 263.7 L106.2 262.9 L106.5 262.1 L106.9 260.6 L107.3 259.2 L107.0 257.6 L106.8 256.1 L108.1 256.0 L109.3 255.8 L110.5 255.4 L111.8 255.4 L112.8 255.4 L113.7 255.0 L114.7 255.2 L115.6 255.4 L115.6 254.8 L115.6 254.2 L115.7 253.6 L115.6 252.9 M106.8 256.1 L106.1 255.4 L105.5 254.6 L104.9 253.8 L104.0 253.3 L103.5 252.3 L103.2 251.2 L103.1 250.1 L102.9 249.1 L101.4 249.0 L100.1 249.6 L98.7 249.9 L97.3 250.1 L96.5 249.6 L95.7 249.2 L94.8 249.0 L94.1 248.4 L93.5 248.2 L92.9 248.2 L92.3 247.9 L91.6 248.0 L90.3 247.8 L89.0 247.9 L87.6 247.9 L86.3 247.3 L85.2 247.8 L84.0 247.8 L82.9 248.0 L81.8 248.4 L80.3 248.0 L78.8 248.1 L77.2 248.1 L75.7 248.0 M91.6 239.9 L91.8 242.2 L91.9 244.5 L93.4 246.3 L94.5 248.4 M87.8 260.3 L88.9 259.6 L90.1 258.9 L91.0 257.8 L92.3 257.2 L93.6 257.7 L94.9 258.0 L96.0 258.9 L97.3 259.3 L97.8 260.1 L98.0 261.0 L98.0 261.9 L97.6 262.8 L97.0 264.2 L96.1 265.5 L95.1 266.6 L94.1 267.8 M97.6 262.8 L98.7 263.5 L99.7 264.0 L100.5 265.0 L101.2 266.0 L102.2 266.1 L103.1 265.6 L104.0 264.9 L105.0 264.9 L105.4 265.3 M75.4 244.1 L77.9 243.6 L80.2 242.5 L82.9 242.4 L85.3 243.4 L85.5 244.3 L86.0 245.2 L83.4 245.1 L80.9 245.8 L78.3 246.5 L75.7 245.9 M86.3 247.3 L86.6 248.1 L86.9 248.9 L86.7 249.7 L86.3 250.5 L85.0 251.0 L84.1 252.2 L83.0 253.0 L81.8 253.6 M271.0 228.6 L269.7 229.8 L268.1 230.3 L266.7 231.2 L265.3 232.1 L265.1 234.6 L264.4 236.9 L264.1 239.3 L263.5 241.6 L263.0 243.7 L262.4 245.7 L261.0 247.2 L260.0 249.1 L258.8 250.4 L257.2 251.2 L256.3 252.7 L255.8 254.4 L255.8 256.3 L256.9 258.0 L255.5 259.5 L255.1 261.4 L253.9 261.8 L252.7 262.0 L252.0 263.0 L251.2 263.9 L250.9 266.2 L250.6 268.6 L251.2 270.9 L252.2 273.0 L253.8 273.7 L255.2 274.6 L256.8 275.0 L258.2 275.9 M215.5 253.6 L216.2 255.3 L217.1 256.8 L217.5 258.6 L217.7 260.3 L218.3 261.1 L219.1 261.8 L221.0 260.9 L223.1 261.2 L224.8 260.1 L226.5 258.9 L227.4 258.8 L228.3 259.1 L229.3 258.8 L230.0 258.2 L231.8 258.1 L233.6 258.4 L235.3 258.1 L237.1 257.9 L238.6 258.5 L240.2 258.1 L241.9 258.2 L243.4 257.9 L244.1 255.4 L244.1 252.8 L245.9 251.0 L247.7 249.1 L248.7 248.8 L249.8 248.5 L250.9 248.5 L251.9 249.1 L252.8 251.5 L252.5 254.2 L253.8 256.3 L255.1 258.6 M219.1 261.8 L220.1 262.4 L221.2 262.8 L222.0 264.0 L223.2 264.9 L224.0 266.1 L224.7 267.4 L226.6 268.8 L228.8 269.8 L230.2 271.7 L231.4 273.8 L233.0 274.2 L234.6 274.5 L235.7 275.7 L237.1 276.6 L239.0 276.6 L240.5 277.7 L241.9 278.8 L243.4 279.8 L246.2 279.9 L249.0 280.1 L251.4 278.3 L254.4 278.3 L255.2 277.5 L256.4 277.2 L257.1 276.3 L258.2 275.9 M231.4 273.8 L229.3 274.0 L227.2 273.7 L225.1 274.2 L222.9 274.5 L220.4 275.6 L217.8 276.5 L215.1 277.0 L212.4 277.3 L209.7 277.9 L207.0 278.6 L204.3 278.9 L201.8 280.1 L200.9 279.9 L200.0 279.8 L200.1 279.0 L200.1 278.3 L200.1 277.6 L200.4 276.9 L197.6 278.0 L195.8 280.2 L194.1 282.5 L191.9 284.3 M189.4 265.6 L188.6 267.6 L186.8 268.8 L186.3 270.8 L185.5 272.7 L186.1 274.0 L186.8 275.3 L187.3 276.6 L187.6 278.0 L188.6 279.6 L189.7 281.2 L190.7 282.8 L191.9 284.3 L189.9 284.3 L188.0 283.9 L186.1 284.0 L184.1 284.3 L181.7 283.8 L179.4 283.0 L177.1 284.1 L174.6 284.3 L173.3 284.4 L171.9 284.4 L170.6 284.6 L169.3 284.0 M174.6 284.3 L174.8 285.4 L174.9 286.5 L174.7 287.5 L174.6 288.6 L172.8 288.0 L171.1 287.3 L169.3 287.9 L167.5 288.6 M184.1 284.3 L184.2 286.7 L185.1 288.9 L185.8 291.2 L185.9 293.5 L184.7 295.0 L183.2 296.2 L183.2 298.1 L182.4 299.9 L180.2 300.9 L177.9 301.4 L176.8 303.5 L175.6 305.5 L174.8 305.6 L173.9 305.9 M200.4 276.9 L198.9 278.6 L198.6 280.8 L198.4 282.9 L198.2 285.0 L198.4 287.7 L197.8 290.3 L196.3 292.6 L195.1 294.9 L194.4 296.1 L194.2 297.4 L193.3 298.3 L192.2 299.2 L191.0 300.1 L190.3 301.5 L190.5 303.0 L190.8 304.4 L190.2 305.1 L189.6 305.9 L188.8 306.4 L188.4 307.3 L187.3 307.4 L186.3 307.8 L185.2 308.0 L184.1 308.0 L182.8 308.1 L181.5 308.2 L180.4 308.9 L179.2 309.4 M177.8 312.6 L178.5 312.5 L179.2 312.9 L179.9 313.1 L180.6 312.9 L183.5 312.6 L186.4 312.1 L189.4 311.9 L192.2 312.9 L192.6 315.2 L193.5 317.4 L195.5 318.7 L196.8 320.7 L197.9 320.0 L199.2 319.8 L200.5 320.2 L201.8 320.0 L204.4 320.2 L207.0 320.1 L209.6 319.5 L211.7 317.9 L212.3 319.7 L212.6 321.6 L212.5 323.5 L211.7 325.3 L212.1 326.9 L212.7 328.4 L213.1 330.0 L213.4 331.6 L214.9 331.9 L216.5 331.9 L218.2 332.2 L219.4 330.9 L219.0 332.7 L219.5 334.4 L219.2 336.2 L219.4 338.0 L217.7 337.3 L215.9 337.6 L214.1 337.7 L212.4 338.0 L211.8 340.8 L212.5 343.6 L212.7 346.4 L212.4 349.3 L213.4 350.6 L214.9 351.3 L215.5 352.9 L216.9 353.8 M176.2 353.0 L177.7 352.5 L179.3 352.4 L180.9 352.8 L182.4 352.1 L186.7 352.7 L191.2 353.0 L195.5 354.1 L200.0 353.5 L202.2 353.8 L204.5 353.7 L206.2 355.1 L208.5 355.6 L210.7 355.4 L212.6 354.1 L214.8 354.3 L216.9 353.8 L218.7 353.2 L220.6 353.7 L222.2 354.5 L224.0 354.9 M219.4 330.9 L220.6 330.7 L221.7 331.1 L222.8 331.5 L224.0 331.6 L225.7 331.9 L227.4 331.7 L228.6 332.8 L229.7 334.1 L230.9 334.9 L232.4 334.8 L233.7 335.2 L235.0 335.8 L236.1 336.5 L237.1 337.4 L238.0 338.3 L239.2 339.0 L239.2 338.1 L239.2 337.1 L239.1 336.1 L239.2 335.1 L237.8 332.6 L236.2 330.2 L235.8 327.4 L235.3 324.6 L236.1 323.9 L236.7 323.1 L237.1 322.1 L237.8 321.4 L239.2 321.6 L240.6 321.5 L242.0 321.0 L243.4 321.4 M243.4 279.8 L243.0 281.7 L242.8 283.7 L241.8 285.5 L240.2 286.8 L240.6 288.6 L240.4 290.4 L239.7 292.1 L239.2 293.9 L239.7 296.0 L238.9 298.1 L238.2 300.2 L237.1 302.0 L237.4 303.4 L237.7 304.8 L237.8 306.2 L237.8 307.6 M254.4 278.3 L255.1 280.3 L255.6 282.4 L256.9 284.1 L258.2 285.7 L257.2 286.9 L256.3 288.2 L255.4 289.6 L254.7 291.0 L254.4 292.1 M242.4 295.6 L245.3 294.8 L248.4 295.4 L251.4 295.9 L254.4 295.6 L257.2 298.1 L260.4 300.0 L264.3 300.4 L267.4 302.7 L268.9 304.0 L270.5 305.3 L272.0 306.6 L273.1 308.3 M239.2 293.9 L240.1 294.1 L240.7 294.9 L241.5 295.2 L242.4 295.6 L242.8 296.8 L242.7 298.1 L243.1 299.4 L243.4 300.6 L242.9 301.3 L242.4 302.0 L241.1 302.2 L239.7 302.2 L238.4 302.1 L237.1 302.0 M242.4 302.0 L242.8 302.6 L243.0 303.4 L243.4 304.0 L243.4 304.8 L242.3 305.6 L241.6 306.7 L240.4 307.3 L239.2 308.0 M258.2 275.9 L259.2 275.9 L260.1 275.6 L260.9 276.0 L261.8 276.2 L263.6 277.0 L265.4 277.6 L267.5 277.8 L268.8 279.4 L270.2 279.5 L271.5 279.7 L272.8 279.7 L274.1 280.1 L275.3 279.3 L276.8 279.1 L278.2 278.8 L279.4 278.0 L280.2 278.1 L281.0 278.2 L281.8 278.5 L282.6 278.3 L282.0 279.5 L281.3 280.5 L280.2 281.2 L279.4 282.2 L279.0 285.5 L278.9 288.7 L279.2 292.0 L279.4 295.3 L279.8 296.1 L280.4 296.7 L280.9 297.5 L281.5 298.1 M282.6 278.3 L283.7 277.5 L284.8 276.6 L285.8 275.7 L286.5 274.5 L288.2 275.2 L290.0 274.9 L291.8 274.8 L293.5 274.5 L296.1 271.8 L299.1 269.7 L301.5 267.0 L303.4 263.9 L300.0 262.3 L297.4 259.7 L293.7 260.1 L290.0 260.3 L289.2 259.4 L288.1 258.8 L287.8 257.4 L286.5 256.8 L286.3 256.0 L286.2 255.2 L285.9 254.4 L285.8 253.6 L285.3 253.2 L284.8 253.0 L284.7 252.4 L284.4 251.9 L283.7 252.1 L283.1 252.4 L282.5 252.7 L281.9 252.9 L282.7 251.7 L283.9 250.8 L284.2 249.4 L284.7 248.0 M263.5 241.6 L264.8 241.1 L266.1 240.9 L267.3 240.1 L268.5 239.5 L268.9 240.1 L269.3 240.7 L270.0 241.0 L270.6 241.3 L271.9 241.1 L273.2 240.9 L274.6 241.1 L275.9 240.9 L276.5 242.3 L277.5 243.4 L278.7 244.4 L280.1 244.8 L281.4 245.3 L282.5 246.0 L283.5 247.0 L284.4 248.0 M286.5 256.8 L286.8 256.0 L287.1 255.1 L287.6 254.2 L287.5 253.3 M277.3 329.1 L275.8 329.2 L274.3 329.3 L273.2 330.4 L272.4 331.6 L271.1 332.0 L269.7 332.4 L268.4 332.7 L267.1 333.0 L265.2 332.8 L263.8 331.5 L262.1 332.1 L260.4 332.7 L259.7 332.6 L259.1 332.6 L258.5 332.2 L257.9 332.0 M243.4 321.4 L245.4 322.2 L247.1 323.4 L249.0 324.2 L250.8 325.3 L251.6 325.8 L252.5 326.2 L253.4 326.1 L254.4 326.3 M250.5 339.7 L248.1 341.3 L246.4 343.6 L243.6 344.7 L242.0 347.1 L240.5 347.9 L239.2 348.9 L237.9 349.9 L236.4 350.7 L234.8 351.9 L233.6 353.5 L231.5 353.8 L230.0 355.3 L228.5 355.7 L227.0 354.9 L225.5 354.9 L224.0 354.9 M258.6 352.4 L259.1 351.7 L259.4 350.7 L259.2 349.8 L259.3 348.9 L258.8 347.4 L257.6 346.2 L257.0 344.8 L256.5 343.3 L255.3 342.7 L254.1 342.6 L253.2 341.7 L251.9 341.5 L251.4 340.5 L250.5 339.7 L250.7 338.5 L250.8 337.4 L251.7 336.6 L252.2 335.5 L252.7 333.3 L251.5 331.4 L251.9 329.4 L252.2 327.4 L253.3 326.8 L254.4 326.3 M242.0 347.1 L244.5 347.6 L246.4 349.1 L248.5 350.4 L250.8 351.0 L250.6 353.1 L251.0 355.1 L250.7 357.1 L250.5 359.1 L249.0 360.8 L248.5 363.0 L248.0 365.1 L247.7 367.2 L246.6 367.9 L245.7 368.7 L245.8 370.0 L245.2 371.1 M245.2 371.1 L245.8 373.0 L246.3 374.9 L247.2 376.6 L247.7 378.5 L247.5 379.5 L247.1 380.3 L247.1 381.2 L247.3 382.1 L247.6 383.3 L247.8 384.5 L247.8 385.8 L248.0 387.0 M245.2 371.1 L243.5 370.8 L241.9 370.0 L240.3 370.6 L238.5 370.4 L236.8 368.9 L235.2 367.4 L233.9 365.5 L231.8 364.4 L230.5 363.7 L229.2 363.1 L228.0 362.1 L227.2 360.9 L226.3 359.4 L225.4 358.0 L224.5 356.5 L224.0 354.9 M238.5 370.4 L236.3 371.6 L234.2 372.9 L232.0 373.9 L230.0 375.4 L228.6 377.2 L226.8 378.7 L225.7 380.7 L224.7 382.8 L222.4 383.8 L220.2 382.7 L217.9 382.5 L215.9 381.4 L214.4 383.3 L212.2 384.3 L209.8 384.9 L208.1 386.7 L206.8 385.2 L205.5 383.6 L205.7 381.6 L205.3 379.6 L204.8 377.1 L205.6 374.7 L205.7 372.2 L205.3 369.7 L206.2 369.8 L207.1 370.0 L207.9 369.8 L208.8 369.7 L208.6 366.3 L210.2 363.2 L209.6 359.9 L208.8 356.7 L210.9 355.9 L213.0 355.5 L214.7 354.1 L216.9 353.8 M205.3 379.6 L205.4 383.1 L203.4 385.9 L204.1 389.2 L205.3 392.3 L202.6 392.5 L200.0 392.2 L197.3 392.2 L194.7 392.6 L193.8 393.1 L192.8 393.0 M230.0 396.9 L231.0 396.1 L232.1 395.4 L232.8 394.4 L233.5 393.4 L234.4 393.6 L235.2 394.0 L236.2 393.9 L237.1 394.1 L237.2 395.1 L237.0 396.1 L237.9 396.7 L238.5 397.6 L237.7 398.3 L236.8 398.7 L235.9 399.2 L235.3 400.1 L234.1 400.1 L233.2 399.4 L232.1 399.2 L231.1 399.0 L230.6 397.9 L230.0 396.9 M244.1 382.8 L245.0 383.0 L245.9 383.3 L246.8 383.4 L247.7 383.5 L247.5 384.4 L247.5 385.3 L247.9 386.1 L248.0 387.0 L247.2 387.1 L246.4 387.4 L245.8 387.9 L245.2 388.4 L244.7 387.6 L244.2 386.9 L243.7 386.1 L243.4 385.2 L243.4 384.6 L243.6 384.0 L243.8 383.3 L244.1 382.8 M307.7 127.7 L307.3 127.0 L307.0 126.2 L306.7 125.5 L306.3 124.9 L304.9 124.4 L303.9 123.3 L302.6 122.8 L301.3 122.4 L300.7 122.1 L300.1 121.8 L299.5 121.6 L298.8 121.3 L299.4 120.7 L299.8 120.0 L300.3 119.3 L300.6 118.5 L302.0 118.0 L303.2 117.3 L304.5 116.7 L305.9 116.4 L308.2 115.7 L310.3 114.5 L312.2 113.1 L314.4 112.2 L316.2 111.7 L318.1 111.4 L319.9 110.7 L321.8 110.4 L323.0 112.1 L325.1 112.2 L327.0 112.4 L328.8 112.5 L331.1 112.9 L333.3 112.7 L335.4 112.1 L337.7 112.2 L339.6 112.0 L341.4 111.7 L343.1 112.6 L344.7 113.6 L346.3 112.9 L348.1 112.9 L349.7 112.7 L351.4 112.9 L351.2 111.8 L350.9 110.7 L350.5 109.7 L350.0 108.6 L349.2 108.9 L348.3 108.9 L347.4 108.6 L346.5 108.6 L346.9 107.4 L347.7 106.3 L348.9 105.9 L350.0 105.1 L350.7 104.3 L351.1 103.4 L351.5 102.5 L351.8 101.6 L353.0 100.9 L354.4 100.7 L355.7 100.5 L357.1 100.9 L358.9 100.4 L360.7 100.4 L362.5 100.4 L364.1 99.5 L366.8 99.3 L369.5 99.0 L372.1 98.5 L374.7 98.1 L376.5 97.9 L378.3 97.7 L380.0 97.6 L381.8 97.4 L383.5 97.6 L384.6 98.9 L386.0 99.7 L387.1 100.9 L388.8 101.7 L390.5 102.4 L392.4 102.8 L394.2 103.4 L396.5 101.7 L399.3 101.8 L402.0 101.5 L404.7 101.6 L406.0 102.7 L407.3 103.8 L409.0 104.4 L410.0 105.8 L411.8 107.4 L413.9 108.6 L415.1 110.7 L417.1 112.2 L418.9 112.1 L420.6 112.3 L422.4 112.6 L424.2 112.9 L425.9 113.3 L427.7 113.6 L429.4 113.1 L431.2 112.9 L432.4 114.5 L433.0 116.5 L434.7 117.6 L436.5 118.5 L438.1 118.8 L439.7 119.2 L441.3 119.2 L442.9 118.9 L443.7 118.6 L444.6 118.5 L446.4 117.5 L448.3 116.6 L450.4 116.2 L452.4 115.7 L454.3 115.5 L456.2 114.9 L457.8 113.8 L459.5 112.9 L461.5 114.1 L463.7 114.8 L465.9 115.7 L468.3 115.7 L470.9 114.5 L473.6 115.3 L476.3 115.7 L478.9 116.4 L479.4 115.4 L479.9 114.3 L481.1 114.0 L481.7 112.9 L482.0 111.7 L482.3 110.5 L481.3 109.7 L480.6 108.6 L482.4 108.6 L484.2 109.1 L486.1 108.6 L487.7 109.7 L489.3 110.7 L491.2 110.7 L493.0 110.7 L494.8 111.1 L495.0 112.0 L495.1 112.8 L495.6 113.6 L496.2 114.3 L497.6 114.3 L499.0 114.5 L500.4 114.7 L501.8 114.6 L504.1 114.7 L506.4 114.4 L508.7 114.3 L511.0 114.6 L512.6 115.3 L514.1 116.0 L515.7 116.7 L516.6 118.2 L519.0 118.0 L521.2 119.0 L523.5 119.2 L525.8 118.9 L527.4 118.7 L528.8 118.2 L530.3 117.5 L531.8 117.5 L533.9 117.0 L535.8 118.0 L537.1 116.4 L538.5 115.0 L540.6 115.0 L542.6 115.2 L544.7 115.2 L546.7 116.1 L547.8 116.4 L548.9 116.3 L550.1 116.6 L550.9 117.5 L552.7 117.0 L554.4 117.5 L556.0 116.4 L556.5 114.6 L556.9 113.5 L557.7 112.6 L558.1 111.5 L558.3 110.4 L558.8 108.9 L560.3 108.3 L561.2 107.1 L561.8 105.8 L563.8 105.2 L565.0 103.6 L567.0 103.7 L568.9 103.4 L570.6 104.1 L572.4 104.0 L574.1 104.8 L576.0 104.4 L577.3 105.2 L578.7 106.0 L580.0 107.0 L581.2 107.9 L582.2 109.5 L583.1 111.1 L583.8 112.7 L584.8 114.3 L586.8 114.7 L588.5 115.6 L590.4 116.4 L591.8 117.8 L592.9 118.3 L594.1 118.5 L595.0 119.1 L596.1 119.6 L596.4 120.6 L596.5 121.7 L596.8 122.8 L597.1 123.8 L598.5 122.3 L600.5 122.4 L602.4 122.8 L604.2 122.4 L605.9 122.8 L607.6 123.2 L609.1 122.4 L610.5 121.3 L610.1 123.2 L609.4 124.9 L608.6 126.6 L607.4 128.0 L607.0 129.5 L606.5 130.9 L605.7 132.1 L604.9 133.3 L603.7 133.3 L602.5 133.1 L601.3 133.0 L600.3 132.3 L599.7 133.0 L598.8 133.2 L598.0 133.5 L597.1 133.7 L596.8 135.1 L597.4 136.4 L598.1 137.6 L598.2 139.0 L597.3 139.6 L597.1 140.7 L596.6 141.6 L596.1 142.5 L595.1 142.5 L594.3 142.9 L593.4 142.6 L592.5 142.5 L590.8 142.1 L589.6 143.3 L588.1 143.9 L586.5 143.9 L585.3 144.8 L584.1 145.6 L582.5 145.4 L581.2 146.4 L579.9 147.4 L579.1 149.0 L577.6 149.6 L576.0 149.9 L575.3 150.4 L574.5 150.7 L573.9 151.3 L573.1 151.7 M596.1 142.5 L596.1 142.9 M580.2 159.1 L580.9 158.8 L581.5 158.4 L582.2 158.0 L583.0 158.0 L584.2 157.4 L585.4 157.3 L586.7 156.8 L587.6 155.9 M444.6 118.5 L444.6 119.1 L444.6 119.8 L444.7 120.4 L444.6 121.0 L445.4 121.1 L446.0 121.7 L446.5 122.3 L447.1 122.8 L449.0 123.6 L450.3 125.1 L452.5 124.9 L454.2 126.3 L454.4 127.3 L454.5 128.3 L455.4 128.9 L455.9 129.8 L458.0 131.1 L460.2 132.1 L462.3 133.3 L464.8 133.7 L466.5 134.3 L468.2 135.1 L470.1 135.1 L471.8 135.8 L473.1 137.1 L474.4 138.5 L475.8 139.8 L477.1 141.1 L479.8 141.0 L482.4 140.8 L485.1 141.1 L487.7 141.8 L490.5 141.7 L493.2 142.4 L495.7 143.3 L498.3 144.3 L500.8 142.9 L503.4 141.9 L506.2 142.6 L508.9 143.6 L511.6 143.1 L514.0 141.8 L516.7 142.4 L519.5 142.2 L521.1 141.2 L522.9 140.4 L524.7 139.6 L526.5 139.0 L527.3 137.5 L528.6 136.3 L528.9 134.7 L530.1 133.3 L531.8 134.0 L533.5 135.0 L535.2 134.0 L537.1 133.7 L539.1 133.1 L540.7 131.9 L542.6 131.0 L544.2 129.8 L546.1 128.5 L548.4 127.9 L550.7 127.8 L553.0 127.3 L554.0 126.6 L554.8 125.7 L556.0 125.7 L557.2 125.6 L556.0 125.3 L555.0 124.6 L554.0 123.9 L553.0 123.1 L552.1 123.5 L551.1 123.8 L550.1 123.8 L549.1 123.8 L547.9 123.6 L546.7 123.5 L545.4 123.4 L544.2 123.5 L543.1 123.0 L542.4 122.1 L543.5 120.5 L544.4 119.0 L545.3 117.3 L546.7 116.1 M442.9 118.9 L441.6 119.2 L440.6 119.9 L439.4 120.4 L438.3 121.0 L437.3 122.1 L436.5 123.3 L436.6 124.8 L436.5 126.3 L434.3 125.7 L432.2 125.3 L429.9 124.6 L427.7 125.6 L427.2 127.2 L426.0 128.4 L425.7 130.0 L425.2 131.6 L423.1 131.5 L420.9 131.3 L418.9 132.1 L417.1 133.3 L418.1 135.1 L418.0 137.2 L417.7 139.2 L417.1 141.1 L417.1 141.8 L417.2 142.6 L417.4 143.3 L417.8 143.9 L415.1 145.3 L412.0 145.3 L409.3 146.5 L406.5 147.5 L405.2 148.0 L403.9 148.3 L402.5 148.2 L401.2 148.9 L399.7 148.8 L398.3 149.3 L396.8 149.7 L395.9 151.0 L395.4 151.4 L395.1 151.9 L394.9 152.6 L394.5 153.1 L395.9 154.7 L397.2 156.3 L397.6 158.4 L398.7 160.2 L399.4 160.4 L400.0 160.9 L400.7 161.1 L401.2 161.6 L400.4 162.0 L399.4 162.3 L400.5 163.1 L401.0 164.2 L402.2 164.8 L403.0 165.8 L404.6 166.1 L406.1 167.0 L407.7 166.9 L409.3 166.9 L410.0 167.7 L410.9 168.4 L411.3 169.4 L411.8 170.4 L413.0 171.4 L413.4 172.9 L414.0 174.2 L414.3 175.7 L413.5 176.5 L412.9 177.4 L412.4 178.4 L412.3 179.6 L413.0 180.4 L413.6 181.3 L414.5 181.7 L415.3 182.3 L416.2 182.7 L417.1 183.1 L418.3 183.7 L419.6 184.2 L420.6 185.1 L421.3 186.3 L422.5 186.0 L423.7 185.8 L424.7 185.3 L425.9 185.2 L427.4 186.0 L429.1 186.4 L430.0 187.9 L431.2 189.1 L433.1 189.9 L435.0 190.7 L436.6 192.0 L438.3 193.3 L440.0 192.9 L441.8 193.3 L443.6 193.2 L445.3 193.7 L446.1 193.3 L446.9 193.2 L447.7 193.6 L448.5 193.3 L449.5 193.0 L450.3 192.3 L451.4 191.9 L452.4 192.3 L454.0 192.5 L455.4 193.1 L456.7 194.1 L458.4 194.0 L459.5 193.2 L460.8 192.7 L462.0 192.1 L463.0 191.2 L464.2 190.5 L465.5 189.7 L467.0 189.9 L468.3 189.1 L469.6 188.9 L470.9 188.6 L472.3 188.7 L473.6 188.4 L474.3 189.4 L475.0 190.3 L476.1 190.9 L477.1 191.6 L478.3 192.4 L479.8 192.6 L480.7 193.7 L481.3 195.1 L481.5 196.8 L481.0 198.5 L482.1 199.7 L483.1 201.1 L481.9 202.4 L481.0 204.1 L479.6 205.4 L479.6 207.4 L480.6 207.0 L481.6 206.6 L482.7 207.1 L483.8 207.1 L484.1 208.3 L484.3 209.5 L485.0 210.5 L485.9 211.3 L486.7 212.6 L486.6 214.0 L487.6 215.1 L488.4 216.2 L489.3 216.5 L490.2 216.6 L491.0 216.7 L491.9 216.6 L492.3 215.6 L492.9 214.7 L493.3 213.7 L493.7 212.7 L494.4 212.9 L495.1 213.1 L496.0 213.1 L496.9 213.4 L497.5 212.8 L498.3 212.4 L499.2 212.6 L500.1 212.3 L501.0 212.1 L501.8 211.7 L502.9 211.0 L504.0 210.4 L505.3 210.6 L506.4 209.9 L507.5 210.7 L508.7 211.3 L510.1 211.2 L511.4 211.7 L511.3 212.4 L511.5 213.1 L511.4 213.8 L511.4 214.5 L512.4 214.7 L513.4 215.0 L514.4 215.3 L515.2 215.9 M417.8 143.9 L416.7 143.2 L415.5 142.7 L414.4 142.1 L413.6 141.1 L410.8 141.3 L408.3 140.0 L405.6 140.2 L403.0 140.4 L401.7 139.9 L400.4 139.9 L399.0 139.9 L397.7 139.7 L396.4 140.7 L394.8 141.0 L393.1 141.1 L391.7 141.8 L390.3 141.6 L389.0 141.7 L387.8 141.1 L386.4 141.1 L385.7 141.9 L385.3 142.9 L384.2 143.0 L383.2 143.6 L382.1 144.3 L381.1 145.1 L379.9 145.7 L378.6 146.0 L378.5 146.9 L378.2 147.8 L377.6 148.4 L376.9 148.9 L376.3 148.6 L375.6 148.4 L375.4 147.8 L374.7 147.5 L373.5 147.9 L372.2 147.5 L371.1 146.7 L369.8 146.7 L369.0 145.3 L368.5 143.8 L367.6 142.4 L367.7 140.7 L366.3 139.9 L365.5 138.6 L363.9 138.2 L362.4 138.3 L360.2 138.8 L358.0 139.2 L355.9 138.4 L353.6 138.6 L353.0 137.5 L352.2 136.5 L351.0 136.2 L350.0 135.5 L347.7 134.5 L345.2 134.1 L343.1 132.9 L341.2 131.2 L338.9 132.0 L336.9 133.5 L334.5 133.5 L332.0 133.3 L331.4 136.6 L330.7 139.9 L331.2 143.2 L332.0 146.4 L330.4 145.7 L328.9 144.9 L327.5 143.8 L326.0 142.9 L324.9 142.7 L323.9 143.3 L322.8 143.3 L321.8 143.6 M332.0 146.4 L333.0 146.4 L334.0 146.7 L334.9 146.3 L335.9 146.4 L337.3 145.2 L339.0 144.9 L340.2 143.5 L341.2 142.2 L342.4 143.0 L343.9 143.0 L345.0 143.9 L346.5 143.9 L347.7 144.5 L348.9 145.1 L350.0 146.0 L351.1 146.7 L351.7 148.4 L353.2 149.4 L354.1 150.8 L355.3 152.0 L356.8 152.4 L358.0 153.4 L359.1 154.6 L360.6 154.9 L362.2 155.4 L363.9 155.6 L364.8 157.1 L365.9 158.4 L366.9 158.6 L367.7 159.2 L368.6 159.7 L369.4 160.2 M325.0 160.5 L326.0 160.1 L327.1 159.8 L327.9 159.0 L328.8 158.4 L330.7 158.9 L332.6 159.0 L334.3 158.3 L335.9 157.3 L337.9 157.2 L339.8 157.7 L341.3 158.9 L343.0 159.8 L343.8 161.2 L345.1 162.2 L346.8 162.2 L348.3 163.0 L348.9 163.0 L349.5 162.9 L350.1 162.9 L350.7 163.0 L351.4 164.1 L352.3 165.0 L353.4 165.8 L353.6 167.2 L355.0 167.0 L356.2 166.2 L357.5 165.7 L358.9 165.4 L359.8 165.2 L360.6 164.6 L361.5 164.4 L362.4 164.0 L364.0 162.7 L366.0 162.3 L367.6 160.9 L369.4 160.2 L370.7 160.1 L371.9 159.8 L373.0 160.1 L374.0 160.9 L375.3 160.3 L376.7 160.3 L378.1 160.7 L379.3 161.2 L380.5 160.5 L381.8 160.1 L382.7 159.1 L383.6 158.0 L384.7 159.0 L386.1 159.0 L386.5 160.3 L387.1 161.6 L388.5 161.4 L389.8 161.1 L391.1 160.6 L392.4 160.2 L394.1 159.9 L395.7 160.4 L397.4 160.3 L399.1 160.5 M378.6 146.0 L379.9 146.3 L381.2 146.4 L382.3 147.0 L383.6 147.5 L384.4 146.8 L385.3 146.2 L386.4 146.1 L387.4 146.0 L388.9 146.6 L390.4 146.7 L391.8 147.3 L393.1 148.2 L392.5 148.9 L391.8 149.6 L391.3 150.3 L390.6 151.0 L388.9 151.9 L387.1 152.4 L385.4 151.6 L383.6 151.0 L382.7 150.7 L381.8 151.1 L381.0 150.6 L380.0 150.6 L379.3 151.3 L378.4 151.4 L377.6 151.8 L376.9 152.4 L376.2 152.9 L375.6 153.5 L375.1 154.1 L374.7 154.9 L374.2 156.3 L373.9 157.8 L373.9 159.3 L374.0 160.9 M380.0 150.6 L381.0 150.3 L382.0 150.7 L382.9 151.2 L383.9 151.3 L385.2 151.6 L386.5 151.9 L387.6 152.7 L388.9 153.1 L390.4 153.2 L391.7 154.0 L393.1 153.4 L394.5 153.1 M350.7 163.0 L349.8 164.8 L348.9 166.6 L349.1 168.7 L348.6 170.7 L349.0 171.5 L349.5 172.2 L349.4 173.1 L349.7 173.9 L349.7 175.8 L348.8 177.4 L348.9 179.2 L348.6 181.0 L349.5 181.4 L350.5 181.4 L351.5 181.5 L352.5 181.3 L351.7 182.6 L351.1 184.0 L350.4 185.3 L349.7 186.6 L351.3 186.2 L352.9 186.2 L354.1 187.3 L355.3 188.4 L356.6 188.0 L357.9 187.7 L359.3 187.7 L360.6 188.0 L362.7 188.7 L364.8 188.2 L366.7 187.2 L368.7 186.6 L369.2 185.5 L369.7 184.4 L370.0 183.1 L370.5 182.0 L371.7 182.2 L372.9 182.2 L373.9 181.5 L374.7 180.6 L375.8 180.0 L376.9 179.4 L378.1 179.5 L379.3 179.6 L380.7 178.1 L381.7 176.4 L382.2 174.5 L381.8 172.5 L382.6 171.7 L383.5 171.1 L384.6 171.3 L385.7 171.1 L385.5 169.8 L386.2 168.7 L386.8 167.7 L387.1 166.5 L387.1 165.6 L386.9 164.8 L386.6 164.0 L386.0 163.3 L387.3 164.0 L388.6 164.0 L389.3 162.8 L390.6 162.3 L392.8 161.8 L394.8 161.1 L396.9 160.2 L399.1 160.5 M349.7 186.6 L350.9 187.4 L352.0 188.2 L352.1 189.6 L352.9 190.8 L353.7 191.1 L354.5 191.7 L355.3 192.0 L356.0 192.6 L355.8 193.7 L355.5 194.8 L354.8 195.7 L354.6 196.8 L355.4 197.3 L356.2 197.6 L357.1 197.7 L357.8 198.3 L356.0 199.0 L354.7 200.4 L353.4 201.8 L352.1 203.2 M375.4 208.5 L376.7 208.3 L378.0 208.1 L378.8 207.0 L380.0 206.4 L381.4 206.3 L382.7 206.6 L384.1 206.5 L385.3 206.0 L385.3 204.8 L385.5 203.6 L385.0 202.4 L384.3 201.4 L383.5 200.4 L383.2 199.0 L382.8 197.8 L381.8 196.8 L382.2 195.6 L383.4 194.9 L384.2 193.9 L385.3 193.3 L386.5 191.5 L387.8 189.8 L389.6 188.6 L391.7 188.0 L392.3 186.7 L393.5 185.9 L394.6 185.1 L395.9 184.5 L396.5 184.0 L396.9 183.4 L397.6 183.0 L398.0 182.4 L397.8 181.6 L397.5 180.8 L397.5 180.0 L397.7 179.2 L398.1 178.3 L399.1 177.8 L399.8 177.1 L400.5 176.4 L398.9 175.9 L398.0 174.5 L396.8 173.5 L395.9 172.1 L396.2 171.5 L396.6 171.0 L396.6 170.3 L396.6 169.7 L398.3 169.9 L399.8 169.2 L401.4 168.7 L403.0 168.6 L404.7 168.5 L406.2 167.8 L407.6 166.6 L409.3 166.9 M417.5 190.5 L418.5 190.7 L419.5 190.8 L420.3 191.4 L421.0 192.3 L422.9 192.5 L424.6 193.2 L426.1 194.4 L427.7 195.4 L429.1 195.7 L430.5 196.2 L431.9 196.5 L433.3 196.1 L434.2 196.2 L434.9 196.8 L435.7 197.3 L436.5 197.5 L438.8 196.7 L441.1 197.0 L443.5 197.5 L445.3 199.0 L444.8 197.6 L444.5 196.2 L445.2 194.9 L446.0 193.7 M417.1 183.1 L417.0 184.9 L417.2 186.8 L417.0 188.7 L417.5 190.5 M448.2 195.8 L449.1 196.4 L450.2 196.8 L451.4 197.0 L452.4 197.5 L454.2 197.7 L455.9 198.2 L457.6 197.1 L459.5 197.5 L459.6 196.6 L459.3 195.7 L458.7 194.9 L458.4 194.0 M445.3 199.0 L446.2 198.9 L447.1 199.0 L448.4 199.4 L449.1 200.5 L450.4 200.4 L451.7 200.4 L451.8 201.1 L451.8 201.8 L451.8 202.5 L451.7 203.2 L453.6 202.6 L455.6 202.2 L457.6 202.9 L459.5 203.5 L459.8 204.2 L460.0 204.9 L460.4 205.6 L460.5 206.4 L459.9 206.6 L459.2 206.8 L458.8 207.3 L458.0 207.4 L458.2 208.3 L458.0 209.2 L457.8 210.1 L457.7 211.0 L458.5 210.5 L459.2 209.9 L460.1 209.4 L460.5 208.5 L460.5 209.5 L460.7 210.5 L461.3 211.3 L461.2 212.4 L461.1 213.5 L461.0 214.7 L460.9 215.9 L460.5 217.0 M445.3 199.0 L446.0 200.6 L446.1 202.3 L446.6 204.0 L447.1 205.7 L447.5 207.1 L447.5 208.5 L448.4 209.6 L448.9 211.0 L448.8 212.0 L448.8 213.1 L448.8 214.1 L448.9 215.2 M461.2 212.4 L461.9 211.2 L462.3 209.8 L463.0 208.7 L464.0 207.8 L464.8 208.0 L465.6 208.1 L466.4 208.2 L467.2 208.1 L467.2 206.8 L467.7 205.6 L468.0 204.3 L468.6 203.2 L468.4 201.7 L468.4 200.2 L469.7 199.4 L470.8 198.3 L472.4 197.8 L473.8 196.9 L475.5 196.5 L477.1 196.1 L477.2 195.1 L477.6 194.2 L477.7 193.2 L477.8 192.3 M488.1 220.1 L486.8 220.4 L486.0 221.3 L484.8 221.5 L483.8 222.2 L482.5 222.9 L481.5 224.0 L480.8 225.3 L479.9 226.5 L480.8 228.5 L482.5 229.9 L483.0 232.1 L482.8 234.2 L483.4 235.0 L483.8 235.8 L484.2 236.7 L484.9 237.4 L483.6 238.5 L483.0 240.0 L482.0 241.3 L481.3 242.7 L481.9 244.8 L482.6 246.9 L483.2 249.0 L484.5 250.8 L483.7 252.2 L483.6 253.8 L483.0 255.2 L483.1 256.8 M488.1 220.1 L488.5 221.0 L489.3 221.5 L489.3 222.5 L489.8 223.3 L490.9 223.5 L491.9 223.3 L491.4 225.0 L491.2 226.8 L491.5 228.6 L491.6 230.4 L492.6 229.9 L493.6 229.5 L494.3 228.7 L495.1 227.9 L496.1 228.1 L497.0 228.5 L498.0 228.5 L499.0 228.6 L500.2 229.3 L501.5 229.9 L502.9 230.1 L504.3 230.4 L504.7 231.7 L504.8 233.0 L504.7 234.4 L504.3 235.7 L504.7 236.6 L505.2 237.5 L506.1 237.8 L507.1 238.1 L507.1 238.9 L507.4 239.7 L507.5 240.5 L507.1 241.3 L505.0 240.6 L502.7 240.8 L500.5 240.8 L498.3 241.3 L497.7 242.0 L497.2 242.9 L496.5 243.4 L495.8 244.1 L495.0 245.6 L495.6 247.2 L496.5 248.4 L497.2 249.8 M507.1 241.3 L507.7 241.1 L508.4 241.1 L509.0 241.2 L509.6 241.3 L510.7 241.2 L511.9 241.0 L513.0 240.5 L514.2 240.6 L513.8 242.0 L514.1 243.4 L514.3 244.8 L514.2 246.2 L512.8 246.9 L511.5 247.9 L510.9 249.4 L510.3 250.8 L509.3 251.6 L508.3 252.5 L507.1 252.9 L506.1 253.6 L505.6 254.2 L504.8 254.5 L504.2 255.0 L503.6 255.4 M514.2 240.6 L514.1 239.0 L513.7 237.4 L513.9 235.8 L514.2 234.2 L513.3 233.4 L512.6 232.5 L511.8 231.5 L510.6 231.1 L509.8 229.7 L508.6 228.5 L507.7 227.0 L506.1 226.5 L504.9 226.2 L503.7 226.0 L502.6 225.3 L501.8 224.4 L502.2 223.5 L502.7 222.6 L503.2 221.7 L503.6 220.8 L502.5 220.1 L501.3 219.6 L500.3 218.6 L499.0 218.4 L498.1 217.8 L497.3 217.1 L496.5 216.6 L495.5 216.2 L495.4 215.4 L495.6 214.6 L495.3 213.9 L495.1 213.1 M488.1 220.1 L489.3 219.6 L490.5 219.0 L491.4 217.9 L491.9 216.6 M488.1 269.5 L489.0 270.1 L490.0 270.6 L490.9 271.2 L491.9 271.6 L492.7 271.2 L493.5 270.8 L494.2 270.4 L495.1 270.2 M521.6 285.0 L522.3 285.7 L523.1 286.0 L523.8 286.6 L524.8 286.8 L526.6 286.6 L528.3 287.4 L530.2 287.7 L531.8 286.8 L533.6 286.8 L535.4 286.2 L537.1 286.8 L538.9 286.8 L539.8 286.1 L540.0 284.9 L540.6 284.1 L541.4 283.3 L542.4 281.9 L543.2 280.5 L543.5 278.8 L544.2 277.3 L545.7 277.3 L547.2 277.1 L548.7 277.4 L550.2 277.3 M537.5 275.9 L537.9 276.4 L538.5 276.8 L538.8 277.4 L539.2 278.0 L539.6 277.0 L540.2 276.2 L541.2 275.7 L541.7 274.8 M575.6 324.6 L576.0 325.1 L576.3 325.6"/></g><path d="M69.5 36.5 H614.1 V419.3 H69.5 Z" fill="none" stroke="#222" stroke-width="1.4"/><circle cx="121.1" cy="90.3" r="3.7" fill="#e00000"/><circle cx="129.6" cy="106.4" r="3.7" fill="#00a000"/><circle cx="153.3" cy="105.3" r="3.7" fill="#e00000"/><circle cx="172" cy="110.9" r="3.7" fill="#00a000"/><circle cx="190.9" cy="68.1" r="3.7" fill="#00a000"/><circle cx="232" cy="62.9" r="3.7" fill="#e00000"/><circle cx="144.4" cy="125.6" r="3.7" fill="#e00000"/><circle cx="143.9" cy="131.1" r="3.7" fill="#e00000"/><circle cx="121.7" cy="149.4" r="3.7" fill="#00a000"/><circle cx="123" cy="147.8" r="3.7" fill="#00a000"/><circle cx="299.3" cy="147.4" r="3.7" fill="#e00000"/><circle cx="294.7" cy="153.5" r="3.7" fill="#e00000"/><circle cx="299.3" cy="156.7" r="3.7" fill="#e00000"/><circle cx="303.2" cy="153" r="3.7" fill="#e00000"/><circle cx="298.4" cy="151.9" r="3.7" fill="#e00000"/><circle cx="307.4" cy="161.5" r="3.7" fill="#e00000"/><circle cx="312.8" cy="163.1" r="3.7" fill="#e00000"/><circle cx="348.7" cy="162.6" r="3.7" fill="#e00000"/><circle cx="286.5" cy="167.6" r="3.7" fill="#e00000"/><circle cx="325" cy="172.7" r="3.7" fill="#0010ff"/><circle cx="293.4" cy="182" r="3.7" fill="#e00000"/><circle cx="321.3" cy="186.5" r="3.7" fill="#e00000"/><circle cx="429" cy="128" r="3.7" fill="#e00000"/><circle cx="446.2" cy="124" r="3.7" fill="#e00000"/><circle cx="415.1" cy="150.3" r="3.7" fill="#e00000"/><circle cx="418" cy="159.9" r="3.7" fill="#e00000"/><circle cx="421.1" cy="160.5" r="3.7" fill="#e00000"/><circle cx="515.4" cy="157.7" r="3.7" fill="#e00000"/><circle cx="545.7" cy="160.9" r="3.7" fill="#e00000"/><circle cx="552.6" cy="158.8" r="3.7" fill="#e00000"/><circle cx="546.1" cy="165.3" r="3.7" fill="#e00000"/><circle cx="550.9" cy="165.3" r="3.7" fill="#e00000"/><circle cx="548.5" cy="162.5" r="3.7" fill="#e00000"/><circle cx="560.4" cy="176.7" r="3.7" fill="#e00000"/><circle cx="132.8" cy="241.6" r="3.7" fill="#e00000"/><circle cx="123.7" cy="249.5" r="3.7" fill="#e00000"/><circle cx="137.3" cy="250.2" r="3.7" fill="#e00000"/><circle cx="169.2" cy="241.9" r="3.7" fill="#e00000"/><circle cx="170.7" cy="249" r="3.7" fill="#e00000"/><circle cx="179.5" cy="272.8" r="3.7" fill="#e00000"/><circle cx="195.5" cy="228.4" r="3.7" fill="#e00000"/><circle cx="188.2" cy="240.4" r="3.7" fill="#e00000"/><circle cx="278.8" cy="258.7" r="3.7" fill="#e00000"/><circle cx="263.6" cy="265.4" r="3.7" fill="#e00000"/><circle cx="222.6" cy="396.7" r="3.7" fill="#00a000"/><text x="114.7" y="83.7" font-size="9.7" fill="#111" stroke="#111" stroke-width="0.25">SHE</text><text x="107" y="109.6" font-size="9.7" fill="#111" stroke="#111" stroke-width="0.25">SFK</text><text x="146.7" y="98.7" font-size="9.7" fill="#111" stroke="#111" stroke-width="0.25">DRS</text><text x="180.7" y="110" font-size="9.7" fill="#111" stroke="#111" stroke-width="0.25">EFR</text><text x="183.7" y="61.6" font-size="9.7" fill="#111" stroke="#111" stroke-width="0.25">GOT</text><text x="240" y="71.3" font-size="9.7" fill="#111" stroke="#111" stroke-width="0.25">FIN</text><text x="117.5" y="130" font-size="9.7" fill="#111" stroke="#111" stroke-width="0.25">OUE</text><text x="151.5" y="141.7" font-size="9.7" fill="#111" stroke="#111" stroke-width="0.25">SOL</text><text x="94.4" y="146.2" font-size="9.7" fill="#111" stroke="#111" stroke-width="0.25">MFW</text><text x="126" y="162.3" font-size="9.7" fill="#111" stroke="#111" stroke-width="0.25">MSF</text><text x="291.5" y="138.6" font-size="9.7" fill="#111" stroke="#111" stroke-width="0.25">MAZ</text><text x="272.9" y="150.6" font-size="9.7" fill="#111" stroke="#111" stroke-width="0.25">MAK</text><text x="309.6" y="148.7" font-size="9.7" fill="#111" stroke="#111" stroke-width="0.25">MOH</text><text x="270.7" y="162.6" font-size="9.7" fill="#111" stroke="#111" stroke-width="0.25">GHE</text><text x="314.9" y="159.4" font-size="9.7" fill="#111" stroke="#111" stroke-width="0.25">AFH</text><text x="343.1" y="157.8" font-size="9.7" fill="#111" stroke="#111" stroke-width="0.25">KAR</text><text x="259.8" y="173.2" font-size="9.7" fill="#111" stroke="#111" stroke-width="0.25">AWA</text><text x="302.1" y="175.9" font-size="9.7" fill="#111" stroke="#111" stroke-width="0.25">SHA</text><text x="334" y="179" font-size="9.7" fill="#111" stroke="#111" stroke-width="0.25">MOU</text><text x="269.7" y="188.1" font-size="9.7" fill="#111" stroke="#111" stroke-width="0.25">HAS</text><text x="314.4" y="200" font-size="9.7" fill="#111" stroke="#111" stroke-width="0.25">GSS</text><text x="419.9" y="122" font-size="9.7" fill="#111" stroke="#111" stroke-width="0.25">BSB</text><text x="452.7" y="134.1" font-size="9.7" fill="#111" stroke="#111" stroke-width="0.25">ALS</text><text x="407" y="144.1" font-size="9.7" fill="#111" stroke="#111" stroke-width="0.25">DLS</text><text x="431.2" y="159.5" font-size="9.7" fill="#111" stroke="#111" stroke-width="0.25">WGR</text><text x="403" y="175.1" font-size="9.7" fill="#111" stroke="#111" stroke-width="0.25">CLS</text><text x="493.4" y="169.1" font-size="9.7" fill="#111" stroke="#111" stroke-width="0.25">TAN</text><text x="524.1" y="157" font-size="9.7" fill="#111" stroke="#111" stroke-width="0.25">HDW</text><text x="556" y="154.4" font-size="9.7" fill="#111" stroke="#111" stroke-width="0.25">WDS</text><text x="560.8" y="170.4" font-size="9.7" fill="#111" stroke="#111" stroke-width="0.25">SSS</text><text x="528" y="179.3" font-size="9.7" fill="#111" stroke="#111" stroke-width="0.25">SXW</text><text x="558.7" y="192.5" font-size="9.7" fill="#111" stroke="#111" stroke-width="0.25">HUS</text><text x="122.8" y="236.6" font-size="9.7" fill="#111" stroke="#111" stroke-width="0.25">MOS</text><text x="105.1" y="253.6" font-size="9.7" fill="#111" stroke="#111" stroke-width="0.25">DJI</text><text x="133.8" y="264.4" font-size="9.7" fill="#111" stroke="#111" stroke-width="0.25">SAH</text><text x="162" y="235.3" font-size="9.7" fill="#111" stroke="#111" stroke-width="0.25">MBS</text><text x="164.1" y="262.9" font-size="9.7" fill="#111" stroke="#111" stroke-width="0.25">YAN</text><text x="171.1" y="285.9" font-size="9.7" fill="#111" stroke="#111" stroke-width="0.25">CAM</text><text x="188.6" y="221.4" font-size="9.7" fill="#111" stroke="#111" stroke-width="0.25">WAD</text><text x="197.7" y="244.8" font-size="9.7" fill="#111" stroke="#111" stroke-width="0.25">UDA</text><text x="288.4" y="262.5" font-size="9.7" fill="#111" stroke="#111" stroke-width="0.25">AFS</text><text x="255.4" y="280.2" font-size="9.7" fill="#111" stroke="#111" stroke-width="0.25">BOG</text><text x="219.6" y="387.3" font-size="9.7" fill="#111" stroke="#111" stroke-width="0.25">DPS</text><text x="0.3" y="15.4" font-size="25.5" font-weight="bold">a</text><path d="M972.31 216.9 A54.83 54.83 0 0 0 971.28 209.41 M969.12 213.52 L971.92 213.14 M978.03 209.45 A61.45 61.45 0 0 0 977.75 208.03 M976.07 209.1 L977.9 208.74 M977.75 208.03 L1094.81 183.58" fill="none" stroke="#2525f8" stroke-width="1.1"/><path d="M973.4 217.98 A55.86 55.86 0 0 0 973.25 215.68 M972.31 216.9 L973.34 216.83 M976.63 216.78 L1100.61 208.77" fill="none" stroke="#2929f2" stroke-width="1.1"/><path d="M976.72 218.87 A59.15 59.15 0 0 0 976.63 216.78 M973.4 217.98 L976.68 217.83 M980.06 219.51 A62.47 62.47 0 0 0 980.02 218.04 M976.72 218.87 L980.04 218.77 M980.02 218.04 L1097.93 213.2" fill="none" stroke="#2929f1" stroke-width="1.1"/><path d="M980.06 219.51 L1097.19 217.47 M934.94 218.22 L969.12 213.52" fill="none" stroke="#2a2af0" stroke-width="1.1"/><path d="M973.25 215.68 L1096.63 204.78" fill="none" stroke="#2828f3" stroke-width="1.1"/><path d="M975.26 213.1 A58.14 58.14 0 0 0 973.45 204.44 M971.28 209.41 L974.52 208.73 M989.24 202.07 L1088.72 176.34" fill="none" stroke="#2424f9" stroke-width="1.1"/><path d="M978.8 213.74 A61.59 61.59 0 0 0 978.52 211.58 M975.26 213.1 L978.67 212.65 M1030.65 205.21 L1096.65 196.23" fill="none" stroke="#2727f5" stroke-width="1.1"/><path d="M978.8 213.74 L1096.54 200.53" fill="none" stroke="#2828f4" stroke-width="1.1"/><path d="M1030.65 205.21 A114.09 114.09 0 0 0 1030.26 202.56 M978.52 211.58 L1030.46 203.88 M1030.26 202.56 L1092.84 192.53" fill="none" stroke="#2626f6" stroke-width="1.1"/><path d="M976.07 209.1 A59.59 59.59 0 0 0 973.18 199.09 M973.45 204.44 L974.85 204.03 M977.33 201 A62.86 62.86 0 0 0 976.19 197.82 M975.35 199.91 L976.78 199.4 M979.47 202.34 A64.51 64.51 0 0 0 978.26 198.64 M977.33 201 L978.89 200.48 M992.37 199.37 A77.73 77.73 0 0 0 991.85 197.61 M988.54 199.55 L992.12 198.49 M991.85 197.61 L1086.42 168.34" fill="none" stroke="#2222fb" stroke-width="1.1"/><path d="M978.03 209.45 L1094.71 187.93" fill="none" stroke="#2626f7" stroke-width="1.1"/><path d="M975.35 199.91 A61.34 61.34 0 0 0 974.23 197.03 M973.18 199.09 L974.81 198.46 M982.56 198.8 L1090.6 162.55" fill="none" stroke="#2222fc" stroke-width="1.1"/><path d="M983.99 203.64 A68.52 68.52 0 0 0 982.56 198.8 M979.47 202.34 L983.32 201.21 M987.25 204.33 A71.53 71.53 0 0 0 986.52 201.47 M983.99 203.64 L986.9 202.89 M989.24 202.07 A73.99 73.99 0 0 0 988.54 199.55 M986.52 201.47 L988.9 200.81 M992.37 199.37 L1089.24 171.87" fill="none" stroke="#2323fa" stroke-width="1.1"/><path d="M987.25 204.33 L1095.16 179.12" fill="none" stroke="#2424f8" stroke-width="1.1"/><path d="M978.26 198.64 L1088.31 158.8" fill="none" stroke="#2121fd" stroke-width="1.1"/><path d="M976.19 197.82 L1081.95 156.69" fill="none" stroke="#2121fe" stroke-width="1.1"/><path d="M974.23 197.03 L1087.34 149.94" fill="none" stroke="#2020ff" stroke-width="1.1"/><path d="M954.9 203.84 A40.89 40.89 0 0 0 952.5 199.29 M951.21 202.87 L953.77 201.53 M954.86 201.16 A42.03 42.03 0 0 0 951.91 196.33 M952.5 199.29 L953.47 198.7 M1005.31 169.64 A101.44 101.44 0 0 0 1003.96 167.38 M957.88 196.49 L1004.64 168.51 M1003.96 167.38 L1064.48 130.08" fill="none" stroke="#caca36" stroke-width="1.1"/><path d="M954.9 203.84 L1079.85 147.68 M935.73 211.04 L951.21 202.87" fill="none" stroke="#c8c830" stroke-width="1.1"/><path d="M957.19 200.92 A44.21 44.21 0 0 0 956.39 199.39 M954.86 201.16 L956.8 200.15 M958.83 200.77 A45.75 45.75 0 0 0 958.3 199.7 M957.19 200.92 L958.57 200.23 M958.3 199.7 L1071.87 141.39" fill="none" stroke="#c9c932" stroke-width="1.1"/><path d="M958.83 200.77 L1077.59 143.64" fill="none" stroke="#c8c831" stroke-width="1.1"/><path d="M956.39 199.39 L1068.64 138.02" fill="none" stroke="#c9c933" stroke-width="1.1"/><path d="M955.74 195.88 A45.45 45.45 0 0 0 953.61 192.87 M951.91 196.33 L954.7 194.35 M957.54 193.78 A48.11 48.11 0 0 0 956.47 192.25 M956.06 193.68 L957.01 193.01 M958.79 193.71 A49.19 49.19 0 0 0 958.08 192.65 M957.54 193.78 L958.44 193.18 M958.08 192.65 L1060.93 121.64" fill="none" stroke="#cbcb38" stroke-width="1.1"/><path d="M957.88 196.49 A46.94 46.94 0 0 0 956.06 193.68 M955.74 195.88 L956.99 195.07 M958.79 193.71 L1063.07 125.65" fill="none" stroke="#cbcb37" stroke-width="1.1"/><path d="M1005.31 169.64 L1070.43 131.81" fill="none" stroke="#caca34" stroke-width="1.1"/><path d="M956.47 192.25 L1056.77 119.07" fill="none" stroke="#cccc39" stroke-width="1.1"/><path d="M953.61 192.87 L1057.18 113.11" fill="none" stroke="#cccc3a" stroke-width="1.1"/><path d="M941.03 201.76 A30.06 30.06 0 0 0 939.47 199.97 M938.71 202.21 L940.27 200.85 M941.93 199.98 A31.89 31.89 0 0 0 939.61 197.52 M939.47 199.97 L940.8 198.72 M950.59 187.93 A46.43 46.43 0 0 0 946.35 184.14 M946.41 188.34 L948.53 185.97 M973.7 157.36 A84.54 84.54 0 0 0 970.36 154.55 M950.01 182.11 L972.05 155.94 M973.95 151.91 L1032.37 80.67" fill="none" stroke="#6e277c" stroke-width="1.1"/><path d="M941.03 201.76 L1058.05 107.68 M935.32 205.16 L938.71 202.21" fill="none" stroke="#6a2a78" stroke-width="1.1"/><path d="M941.93 199.98 L1053.85 105.13" fill="none" stroke="#6b2a78" stroke-width="1.1"/><path d="M943.19 197.75 A34.3 34.3 0 0 0 939.21 193.96 M939.61 197.52 L941.27 195.78 M943.28 196.45 A35.25 35.25 0 0 0 935.93 190.49 M939.21 193.96 L939.81 193.22 M941.51 188.71 A39.86 39.86 0 0 0 937.82 186.25 M937.92 190.1 L939.7 187.43 M946.41 188.34 A43.25 43.25 0 0 0 940.49 183.91 M941.51 188.71 L943.54 186 M949.34 185.28 A47.49 47.49 0 0 0 944.53 181.49 M946.35 184.14 L947 183.31 M973.95 151.91 A88.85 88.85 0 0 0 972.15 150.47 M970.36 154.55 L973.05 151.18 M972.15 150.47 L1028.25 78.37" fill="none" stroke="#6f267c" stroke-width="1.1"/><path d="M943.19 197.75 L1051.27 101.25" fill="none" stroke="#6b2979" stroke-width="1.1"/><path d="M943.28 196.45 L1047.63 98.32" fill="none" stroke="#6c2979" stroke-width="1.1"/><path d="M937.92 190.1 A36.65 36.65 0 0 0 935.37 188.54 M935.93 190.49 L936.66 189.29 M977.33 139.59 L1024.14 76.09" fill="none" stroke="#6f267d" stroke-width="1.1"/><path d="M950.59 187.93 L1045.01 94.43" fill="none" stroke="#6c287a" stroke-width="1.1"/><path d="M952.43 184.28 A50.32 50.32 0 0 0 950.01 182.11 M949.34 185.28 L951.24 183.18 M985.4 146.14 A100.7 100.7 0 0 0 983.45 144.42 M973.7 157.36 L984.43 145.27 M983.45 144.42 L1035.96 83.68" fill="none" stroke="#6e277b" stroke-width="1.1"/><path d="M952.43 184.28 L1041 91.92" fill="none" stroke="#6d287a" stroke-width="1.1"/><path d="M985.4 146.14 L1037.03 89.44" fill="none" stroke="#6d287b" stroke-width="1.1"/><path d="M974.79 140.89 A98.1 98.1 0 0 0 971.66 138.74 M944.53 181.49 L973.24 139.8 M977.33 139.59 A100.65 100.65 0 0 0 975.22 138.07 M974.79 140.89 L976.28 138.82 M975.22 138.07 L1019.25 75" fill="none" stroke="#70267d" stroke-width="1.1"/><path d="M971.66 138.74 L1015.22 72.78" fill="none" stroke="#70257e" stroke-width="1.1"/><path d="M940.49 183.91 L1011.53 70.05" fill="none" stroke="#71257e" stroke-width="1.1"/><path d="M937.82 186.25 L1007.05 68.62" fill="none" stroke="#71247f" stroke-width="1.1"/><path d="M935.37 188.54 L1004.78 63.32" fill="none" stroke="#72247f" stroke-width="1.1"/><path d="M926.04 191.46 A30.34 30.34 0 0 0 922.87 190.72 M924.01 192.99 L924.47 191.05 M929.24 189.91 A32.82 32.82 0 0 0 924.17 188.45 M926.04 191.46 L926.73 189.08 M958.81 102.59 L977.4 49.37" fill="none" stroke="#7d2299" stroke-width="1.1"/><path d="M949.1 157.63 A70.41 70.41 0 0 0 935.78 152.58 M929.24 189.91 L942.57 154.77 M957.16 116.4 L980.24 55.62" fill="none" stroke="#7c2296" stroke-width="1.1"/><path d="M952.6 156.13 A73.36 73.36 0 0 0 948.19 153.92 M949.1 157.63 L950.42 154.99 M970.59 116.42 A116.88 116.88 0 0 0 967.76 115.04 M951.44 151.79 L969.18 115.72 M967.76 115.04 L995.59 56.48" fill="none" stroke="#78218f" stroke-width="1.1"/><path d="M952.6 156.13 L1003.93 61.6 M923.14 196.74 L924.01 192.99" fill="none" stroke="#76208a" stroke-width="1.1"/><path d="M951.44 151.79 A76.69 76.69 0 0 0 947.69 150.07 M948.19 153.92 L949.58 150.9 M964.56 114.51 L990.83 55.15" fill="none" stroke="#7a2192" stroke-width="1.1"/><path d="M970.59 116.42 L998.16 62.2" fill="none" stroke="#77208c" stroke-width="1.1"/><path d="M964.56 114.51 A116.02 116.02 0 0 0 961.69 113.28 M947.69 150.07 L963.13 113.89 M961.69 113.28 L984.1 58.72" fill="none" stroke="#7b2194" stroke-width="1.1"/><path d="M947.62 121.44 A103.6 103.6 0 0 0 941.05 119.69 M935.78 152.58 L944.35 120.51 M949.46 110.72 L968.24 45.93" fill="none" stroke="#7f239e" stroke-width="1.1"/><path d="M952.8 118.7 A107.8 107.8 0 0 0 944.82 116.29 M947.62 121.44 L948.83 117.42 M957.16 116.4 A111.45 111.45 0 0 0 950.79 114.2 M952.8 118.7 L953.99 115.25 M953.86 112.09 A114.41 114.41 0 0 0 949.46 110.72 M950.79 114.2 L951.67 111.38 M958.81 102.59 A125 125 0 0 0 955.62 101.52 M953.86 112.09 L957.22 102.05 M955.62 101.52 L971.83 50.76" fill="none" stroke="#7e229c" stroke-width="1.1"/><path d="M944.82 116.29 L962.49 48.58" fill="none" stroke="#8023a0" stroke-width="1.1"/><path d="M941.05 119.69 L957.33 49.64" fill="none" stroke="#8223a3" stroke-width="1.1"/><path d="M924.17 188.45 L953.5 44.82" fill="none" stroke="#8324a6" stroke-width="1.1"/><path d="M922.87 190.72 L948.93 42.89" fill="none" stroke="#8424a8" stroke-width="1.1"/><path d="M919.54 187.23 A33.42 33.42 0 0 0 913.04 187.49 M916.35 188.97 L916.28 187.2 M919.84 182.06 A38.6 38.6 0 0 0 917.25 182 M918.52 183 L918.55 182.01 M920.39 131.34 A89.3 89.3 0 0 0 917.99 131.3 M918.57 166.29 L919.19 131.31 M917.99 131.3 L918.36 47.39" fill="none" stroke="#8a32ff" stroke-width="1.1"/><path d="M922.8 184.27 A36.7 36.7 0 0 0 916.65 183.91 M919.54 187.23 L919.73 183.96 M920.39 131.34 L923.07 45.73" fill="none" stroke="#8a31ff" stroke-width="1.1"/><path d="M926.58 166.91 A54.43 54.43 0 0 0 924.05 166.55 M922.8 184.27 L925.32 166.72 M925.44 164.54 A56.6 56.6 0 0 0 923.17 164.27 M924.05 166.55 L924.3 164.4 M925.74 148.25 L938.12 38.18" fill="none" stroke="#8a2eff" stroke-width="1.1"/><path d="M926.58 166.91 L946.16 49.93 M916.6 195.12 L916.35 188.97" fill="none" stroke="#8a2cff" stroke-width="1.1"/><path d="M925.44 164.54 L941.97 46.3" fill="none" stroke="#8a2dff" stroke-width="1.1"/><path d="M925.74 148.25 A72.8 72.8 0 0 0 923.79 148.06 M923.17 164.27 L924.76 148.15 M923.79 148.06 L932.99 40.16" fill="none" stroke="#8a2fff" stroke-width="1.1"/><path d="M918.52 183 A37.61 37.61 0 0 0 914.73 183.1 M916.65 183.91 L916.63 183 M918.57 166.29 A54.32 54.32 0 0 0 915.65 166.32 M917.25 182 L917.11 166.28 M916.29 162.5 L913.71 47.93" fill="none" stroke="#8a33ff" stroke-width="1.1"/><path d="M919.84 182.06 L927.68 47.48" fill="none" stroke="#8a30ff" stroke-width="1.1"/><path d="M916.29 162.5 A58.11 58.11 0 0 0 914.73 162.56 M915.65 166.32 L915.51 162.53 M914.73 162.56 L908.63 39.26" fill="none" stroke="#8a34ff" stroke-width="1.1"/><path d="M914.73 183.1 L904.32 46.98" fill="none" stroke="#8a35ff" stroke-width="1.1"/><path d="M913.51 185.75 A35.09 35.09 0 0 0 912.11 185.94 M913.04 187.49 L912.81 185.84 M911.71 163.72 A57.18 57.18 0 0 0 910.18 163.9 M913.51 185.75 L910.94 163.81 M910.18 163.9 L894.58 44.73" fill="none" stroke="#8a37ff" stroke-width="1.1"/><path d="M911.71 163.72 L899.18 42.84" fill="none" stroke="#8a36ff" stroke-width="1.1"/><path d="M912.11 185.94 L890.34 48.46" fill="none" stroke="#8a38ff" stroke-width="1.1"/><path d="M907.93 190.16 A31.94 31.94 0 0 0 900.72 193.48 M905.04 193.37 L904.22 191.6 M901.56 177.73 A45.78 45.78 0 0 0 899.92 178.37 M901.68 180.42 L900.74 178.04 M900.59 173.31 A50.26 50.26 0 0 0 899.38 173.76 M901.56 177.73 L899.99 173.53 M899.38 173.76 L853.94 56.89" fill="none" stroke="#6e68ff" stroke-width="1.1"/><path d="M909.11 186.79 A34.86 34.86 0 0 0 905.02 188.09 M907.93 190.16 L907.05 187.37 M900.59 173.31 L856.13 49.68" fill="none" stroke="#6e67ff" stroke-width="1.1"/><path d="M910.46 184.99 A36.32 36.32 0 0 0 907.07 185.84 M909.11 186.79 L908.76 185.37 M901.75 144.09 A78.14 78.14 0 0 0 897.85 145 M903.78 161.55 L899.79 144.52 M887.56 99.26 L875.05 48.74" fill="none" stroke="#6d63ff" stroke-width="1.1"/><path d="M907.59 160.78 A60.65 60.65 0 0 0 903.78 161.55 M910.46 184.99 L905.68 161.14 M897.35 116.13 A106.42 106.42 0 0 0 894.68 116.68 M901.75 144.09 L896.01 116.39 M894.68 116.68 L880.25 51.27" fill="none" stroke="#6c62ff" stroke-width="1.1"/><path d="M907.59 160.78 L888.95 49.41 M906.63 196.81 L905.04 193.37" fill="none" stroke="#6c60ff" stroke-width="1.1"/><path d="M897.35 116.13 L883.4 44.16" fill="none" stroke="#6c61ff" stroke-width="1.1"/><path d="M887.56 99.26 A125 125 0 0 0 884.46 100.07 M897.85 145 L886.01 99.66 M884.46 100.07 L871.32 52.29" fill="none" stroke="#6d64ff" stroke-width="1.1"/><path d="M907.07 185.84 L866.82 52.88" fill="none" stroke="#6d65ff" stroke-width="1.1"/><path d="M905.35 183.59 A38.98 38.98 0 0 0 901.74 184.99 M905.02 188.09 L903.53 184.25 M901.68 180.42 A43.23 43.23 0 0 0 898.39 181.88 M901.74 184.99 L900.02 181.11 M885.79 149.77 L846.09 61.39" fill="none" stroke="#6e6aff" stroke-width="1.1"/><path d="M905.35 183.59 L859.9 46.25" fill="none" stroke="#6e66ff" stroke-width="1.1"/><path d="M899.92 178.37 L847.07 52.15" fill="none" stroke="#6e69ff" stroke-width="1.1"/><path d="M885.51 151.54 A76.15 76.15 0 0 0 882.02 153.28 M898.39 181.88 L883.75 152.39 M875.87 139.14 L834.51 58.39" fill="none" stroke="#6f6cff" stroke-width="1.1"/><path d="M885.79 149.77 A77.65 77.65 0 0 0 883.98 150.61 M885.51 151.54 L884.88 150.18 M883.98 150.61 L841.08 61.29" fill="none" stroke="#6f6bff" stroke-width="1.1"/><path d="M875.87 139.14 A91.53 91.53 0 0 0 873.79 140.23 M882.02 153.28 L874.83 139.68 M873.79 140.23 L831.6 62.82" fill="none" stroke="#6f6dff" stroke-width="1.1"/><path d="M892.05 177.73 A49.9 49.9 0 0 0 890.42 178.75 M900.72 193.48 L891.23 178.23 M890.41 173.63 A54.27 54.27 0 0 0 889.22 174.34 M892.05 177.73 L889.82 173.98 M889.22 174.34 L821.44 63.88" fill="none" stroke="#706fff" stroke-width="1.1"/><path d="M890.41 173.63 L830.83 70.7" fill="none" stroke="#706eff" stroke-width="1.1"/><path d="M890.42 178.75 L822.53 74.2" fill="none" stroke="#7070ff" stroke-width="1.1"/><path d="M900.07 194.12 A31.75 31.75 0 0 0 896.19 197.15 M899.02 196.77 L898.07 195.56 M896.15 193.33 A34.69 34.69 0 0 0 892.39 196.77 M896.19 197.15 L894.21 194.98 M848.57 149.11 L792.97 91.54" fill="none" stroke="#b98bff" stroke-width="1.1"/><path d="M900.07 194.12 L817.72 69.7 M901.12 199.47 L899.02 196.77" fill="none" stroke="#c498ff" stroke-width="1.1"/><path d="M894.32 189.56 A38.8 38.8 0 0 0 892.92 190.66 M896.15 193.33 L893.61 190.1 M882.53 175.71 L810.07 82.97" fill="none" stroke="#bf92ff" stroke-width="1.1"/><path d="M884.32 174.37 A56.97 56.97 0 0 0 882.53 175.71 M894.32 189.56 L883.41 175.03 M875.04 159.82 A74.2 74.2 0 0 0 873.47 160.96 M884.32 174.37 L874.25 160.38 M873.47 160.96 L812.51 78.59" fill="none" stroke="#c194ff" stroke-width="1.1"/><path d="M875.04 159.82 L816.1 75.64" fill="none" stroke="#c296ff" stroke-width="1.1"/><path d="M892.92 190.66 L806.41 85.71" fill="none" stroke="#be91ff" stroke-width="1.1"/><path d="M861.04 157.23 A84.94 84.94 0 0 0 851.15 167.7 M892.39 196.77 L855.87 162.25 M850.75 157.85 A91.69 91.69 0 0 0 847.36 161.66 M850.33 160.89 L849.03 159.73 M849.87 153.16 A95.58 95.58 0 0 0 846.02 157.27 M850.75 157.85 L847.91 155.19 M845.94 150.18 A100.48 100.48 0 0 0 844.12 152.08 M845.81 151.88 L845.02 151.12 M844.12 152.08 L787.36 99.15" fill="none" stroke="#b687ff" stroke-width="1.1"/><path d="M840.65 132.07 A117.3 117.3 0 0 0 838.35 134.12 M861.04 157.23 L839.49 133.09 M838.35 134.12 L798.57 90.7" fill="none" stroke="#bb8dff" stroke-width="1.1"/><path d="M840.65 132.07 L800 85.32" fill="none" stroke="#bc8fff" stroke-width="1.1"/><path d="M850.96 164.59 A87.05 87.05 0 0 0 848.08 168.21 M851.15 167.7 L849.49 166.38 M850.33 160.89 A89.95 89.95 0 0 0 847.21 164.61 M850.96 164.59 L848.75 162.73 M846.02 157.27 L780.82 99.58" fill="none" stroke="#b586ff" stroke-width="1.1"/><path d="M848.57 149.11 A99.38 99.38 0 0 0 845.81 151.88 M849.87 153.16 L847.18 150.48 M845.94 150.18 L791.11 96.3" fill="none" stroke="#b889ff" stroke-width="1.1"/><path d="M847.36 161.66 L780.97 105.96" fill="none" stroke="#b384ff" stroke-width="1.1"/><path d="M847.21 164.61 L777.38 109.06" fill="none" stroke="#b282ff" stroke-width="1.1"/><path d="M848.08 168.21 L772.41 111.19" fill="none" stroke="#b080ff" stroke-width="1.1"/><path d="M888.05 201.7 A35.08 35.08 0 0 0 885.08 207.46 M889.16 205.92 L886.43 204.51 M887.42 199.14 A37.03 37.03 0 0 0 885.47 202.2 M888.05 201.7 L886.41 200.65 M807.37 155.15 A128.2 128.2 0 0 0 804.97 159.38 M808.93 158.83 L806.15 157.25 M803.98 156.97 L761.08 132.94" fill="none" stroke="#8a44ff" stroke-width="1.1"/><path d="M840.47 163.52 A95.96 95.96 0 0 0 838.36 166.49 M887.42 199.14 L839.4 165 M837.53 164.43 L769.36 116.6" fill="none" stroke="#9247ff" stroke-width="1.1"/><path d="M840.47 163.52 L778.1 117.37 M893.25 208.03 L889.16 205.92" fill="none" stroke="#9448ff" stroke-width="1.1"/><path d="M837.53 164.43 A97.8 97.8 0 0 0 836.14 166.48 M838.36 166.49 L836.83 165.45 M836.14 166.48 L767.53 120.89" fill="none" stroke="#9046ff" stroke-width="1.1"/><path d="M841.87 173 A89.44 89.44 0 0 0 838.22 179.39 M885.47 202.2 L839.98 176.16 M803.98 156.97 A130.23 130.23 0 0 0 802.4 159.86 M804.97 159.38 L803.18 158.41 M802.4 159.86 L757.13 136" fill="none" stroke="#8843ff" stroke-width="1.1"/><path d="M841.87 173 L769.86 127.74" fill="none" stroke="#8e46ff" stroke-width="1.1"/><path d="M808.93 158.83 A125 125 0 0 0 804.55 167.25 M838.22 179.39 L806.66 163 M804.71 164.68 L761.71 143.38" fill="none" stroke="#8642ff" stroke-width="1.1"/><path d="M807.37 155.15 L768.07 131.82" fill="none" stroke="#8c45ff" stroke-width="1.1"/><path d="M804.71 164.68 A125.98 125.98 0 0 0 802.67 169.01 M804.55 167.25 L803.67 166.84 M801.65 166.78 L752.97 144.18" fill="none" stroke="#8442ff" stroke-width="1.1"/><path d="M801.65 166.78 A127.83 127.83 0 0 0 800.33 169.73 M802.67 169.01 L800.98 168.25 M800.33 169.73 L751.71 148.64" fill="none" stroke="#8241ff" stroke-width="1.1"/><path d="M885.08 207.46 L752.53 153.91" fill="none" stroke="#8040ff" stroke-width="1.1"/><path d="M883.36 208.96 A36.16 36.16 0 0 0 882.12 213.62 M884.65 211.8 L882.66 211.27 M831.67 198.82 L746.94 177.35" fill="none" stroke="#4e3cff" stroke-width="1.1"/><path d="M837.9 189.2 A85.66 85.66 0 0 0 835.27 196.93 M883.36 208.96 L836.49 193.03 M833.22 193.41 A88.65 88.65 0 0 0 831.67 198.82 M835.27 196.93 L832.4 196.1 M831.3 190.35 A91.45 91.45 0 0 0 829.88 194.77 M833.22 193.41 L830.56 192.55 M825.95 192.35 L749.5 168.78" fill="none" stroke="#513dff" stroke-width="1.1"/><path d="M837.9 189.2 L754.93 156.52 M890.55 213.38 L884.65 211.8" fill="none" stroke="#5640ff" stroke-width="1.1"/><path d="M830.43 188.8 A92.79 92.79 0 0 0 829.65 191.02 M831.3 190.35 L830.03 189.91 M829.65 191.02 L745.38 162.68" fill="none" stroke="#533eff" stroke-width="1.1"/><path d="M830.43 188.8 L753.85 160.86" fill="none" stroke="#543fff" stroke-width="1.1"/><path d="M825.95 192.35 A95.9 95.9 0 0 0 825.26 194.68 M829.88 194.77 L825.6 193.51 M825.26 194.68 L744.65 172.06" fill="none" stroke="#503cff" stroke-width="1.1"/><path d="M881.02 212.31 A37.51 37.51 0 0 0 880.61 214.41 M882.12 213.62 L880.8 213.36 M876.56 212.93 A41.75 41.75 0 0 0 876.3 214.5 M880.61 214.41 L876.43 213.72 M873.07 211.69 A45.41 45.41 0 0 0 872.86 212.83 M876.56 212.93 L872.96 212.26 M872.86 212.83 L743.85 190.42" fill="none" stroke="#4a39ff" stroke-width="1.1"/><path d="M881.02 212.31 L741.47 180.69" fill="none" stroke="#4d3bff" stroke-width="1.1"/><path d="M873.07 211.69 L742.3 185.54" fill="none" stroke="#4b3aff" stroke-width="1.1"/><path d="M876.3 214.5 L744.08 194.98" fill="none" stroke="#4838ff" stroke-width="1.1"/><path d="M885.15 217.03 A32.64 32.64 0 0 0 884.97 221.47 M886.02 219.29 L884.99 219.25 M878.83 220.8 L747.4 221.49" fill="none" stroke="#caca2c" stroke-width="1.1"/><path d="M882.65 216.31 A35.21 35.21 0 0 0 882.55 217.2 M885.15 217.03 L882.6 216.75 M882.55 217.2 L748.97 204.24" fill="none" stroke="#cccc2f" stroke-width="1.1"/><path d="M882.65 216.31 L751.81 200.24 M888.82 219.41 L886.02 219.29" fill="none" stroke="#cccc30" stroke-width="1.1"/><path d="M881.17 219.05 A36.46 36.46 0 0 0 881.31 224.1 M884.97 221.47 L881.15 221.57 M878.24 221.81 L737.92 226.12" fill="none" stroke="#caca2b" stroke-width="1.1"/><path d="M880.32 217.94 A37.38 37.38 0 0 0 880.22 220.08 M881.17 219.05 L880.25 219.01 M878.85 219.32 A38.77 38.77 0 0 0 878.83 220.8 M880.22 220.08 L878.83 220.06 M876.18 218.7 A41.46 41.46 0 0 0 876.14 219.76 M878.85 219.32 L876.16 219.23 M876.14 219.76 L742.42 217.05" fill="none" stroke="#caca2d" stroke-width="1.1"/><path d="M880.32 217.94 L743.65 208.19 M876.18 218.7 L739 212.43" fill="none" stroke="#cbcb2e" stroke-width="1.1"/><path d="M879.89 222.84 A37.77 37.77 0 0 0 880.16 225.6 M881.31 224.1 L880 224.22 M878.24 221.81 A39.37 39.37 0 0 0 878.38 224.06 M879.89 222.84 L878.3 222.94 M876.41 223.44 A41.28 41.28 0 0 0 876.55 225.02 M878.38 224.06 L876.48 224.23 M874.33 223.03 A43.34 43.34 0 0 0 874.4 224.14 M876.41 223.44 L874.36 223.59 M874.33 223.03 L748.81 230.1 M874.4 224.14 L751.91 234.16" fill="none" stroke="#c9c92a" stroke-width="1.1"/><path d="M876.55 225.02 L748.54 238.79" fill="none" stroke="#c8c829" stroke-width="1.1"/><path d="M880.16 225.6 L746.43 243.44" fill="none" stroke="#c8c828" stroke-width="1.1"/><path d="M882.86 226.93 A35.31 35.31 0 0 0 883.69 230.46 M885.67 228.13 L883.23 228.71 M880.07 230.47 L749.34 264.85 M877.62 232.27 L745 270.96" fill="none" stroke="#ff8b1d" stroke-width="1.1"/><path d="M880.39 226.23 A37.63 37.63 0 0 0 880.79 228.46 M882.86 226.93 L880.58 227.35 M877.21 228.38 A41.13 41.13 0 0 0 877.56 229.99 M880.79 228.46 L877.38 229.19 M874.23 228.35 A44.06 44.06 0 0 0 874.45 229.51 M877.21 228.38 L874.33 228.93 M874.23 228.35 L746.26 251.22 M874.45 229.51 L744.95 256.25" fill="none" stroke="#ff8a1b" stroke-width="1.1"/><path d="M880.39 226.23 L747.59 246.31 M888.79 227.4 L885.67 228.13" fill="none" stroke="#ff8a1a" stroke-width="1.1"/><path d="M877.56 229.99 L750.68 259.75" fill="none" stroke="#ff8b1c" stroke-width="1.1"/><path d="M880.07 230.47 A38.81 38.81 0 0 0 880.63 232.4 M883.69 230.46 L880.34 231.44 M877.62 232.27 A41.65 41.65 0 0 0 878.25 234.26 M880.63 232.4 L877.92 233.27 M873.68 234.7 A46.13 46.13 0 0 0 874.38 236.74 M878.25 234.26 L874.02 235.73 M871.8 236.67 A48.54 48.54 0 0 0 872.48 238.49 M874.38 236.74 L872.13 237.58 M871.8 236.67 L750.37 279.27 M869.32 239 L751.65 283.86" fill="none" stroke="#ff8c1f" stroke-width="1.1"/><path d="M873.68 234.7 L745.47 275.87" fill="none" stroke="#ff8b1e" stroke-width="1.1"/><path d="M869.32 239 A51.67 51.67 0 0 0 869.83 240.29 M872.48 238.49 L869.57 239.65 M869.83 240.29 L754.48 287.83" fill="none" stroke="#ff8c20" stroke-width="1.1"/><path d="M885.54 234.34 A34.88 34.88 0 0 0 888.7 240.12 M888.39 236.54 L886.98 237.3 M883.11 237.47 A38.39 38.39 0 0 0 886.26 242.77 M885.64 239.55 L884.58 240.18 M876.46 240.7 A45.78 45.78 0 0 0 877.54 242.77 M879.57 240.4 L876.99 241.74 M873.5 243.52 A49.7 49.7 0 0 0 874.76 245.81 M877.54 242.77 L874.12 244.67 M869.08 248.95 L775.86 303.43" fill="none" stroke="#ff89cb" stroke-width="1.1"/><path d="M885.54 234.34 L766.6 285.32 M890.91 235.16 L888.39 236.54" fill="none" stroke="#ff9ad2" stroke-width="1.1"/><path d="M885.64 239.55 A37.15 37.15 0 0 0 888.09 243.17 M888.7 240.12 L886.81 241.39 M871.66 245.94 A52.46 52.46 0 0 0 873.14 248.46 M874.76 245.81 L872.38 247.21 M870.53 248.89 A54.91 54.91 0 0 0 871.62 250.62 M873.14 248.46 L871.07 249.76 M869.08 248.95 A56.2 56.2 0 0 0 869.8 250.15 M870.53 248.89 L869.43 249.55 M869.8 250.15 L773.77 309.5" fill="none" stroke="#ff86ca" stroke-width="1.1"/><path d="M878.62 238.46 A42.88 42.88 0 0 0 879.57 240.4 M883.11 237.47 L879.08 239.44 M871.66 245.94 L767.25 303.53" fill="none" stroke="#ff8ccc" stroke-width="1.1"/><path d="M878.62 238.46 L768.38 288.98" fill="none" stroke="#ff97d1" stroke-width="1.1"/><path d="M876.46 240.7 L763.71 295.79" fill="none" stroke="#ff93cf" stroke-width="1.1"/><path d="M873.5 243.52 L767.1 298.81" fill="none" stroke="#ff90ce" stroke-width="1.1"/><path d="M871.62 250.62 L777.05 312.37" fill="none" stroke="#ff82c8" stroke-width="1.1"/><path d="M884.72 243.25 A39.93 39.93 0 0 0 885.29 244.06 M886.26 242.77 L885 243.66 M885.29 244.06 L782.82 318.45" fill="none" stroke="#ff7bc5" stroke-width="1.1"/><path d="M884.72 243.25 L777.73 316.95" fill="none" stroke="#ff7fc7" stroke-width="1.1"/><path d="M888.09 243.17 L780.96 325.07" fill="none" stroke="#ff78c4" stroke-width="1.1"/><path d="M886.42 244.96 A39.57 39.57 0 0 0 890.66 249.58 M889.56 246.33 L888.45 247.36 M887.78 249.67 A41.65 41.65 0 0 0 890.78 252.46 M890.66 249.58 L889.25 251.1 M833.38 296.97 A113.69 113.69 0 0 0 836.72 300.5 M858.65 276.4 L835.03 298.75 M832.48 301.66 A117.54 117.54 0 0 0 835.51 304.72 M836.72 300.5 L833.98 303.2 M831.31 306.89 L797.15 341.05" fill="none" stroke="#f0339b" stroke-width="1.1"/><path d="M886.42 244.96 L784.92 324.26 M894.61 241.7 L889.56 246.33" fill="none" stroke="#f040a8" stroke-width="1.1"/><path d="M884.89 248.79 A43.18 43.18 0 0 0 888.6 252.59 M887.78 249.67 L886.69 250.75 M856.88 270.48 A78.58 78.58 0 0 0 859.31 273.3 M884.89 248.79 L858.08 271.9 M856.15 273.64 A81.17 81.17 0 0 0 858.65 276.4 M859.31 273.3 L857.38 275.03 M832.48 301.66 L794.76 337.58" fill="none" stroke="#f0359d" stroke-width="1.1"/><path d="M856.88 270.48 L786.32 328.44" fill="none" stroke="#f03da5" stroke-width="1.1"/><path d="M856.15 273.64 L788 332.47" fill="none" stroke="#f03ba3" stroke-width="1.1"/><path d="M833.38 296.97 L791.74 334.72" fill="none" stroke="#f038a0" stroke-width="1.1"/><path d="M831.31 306.89 A122.03 122.03 0 0 0 833.44 308.97 M835.51 304.72 L832.37 307.94 M833.44 308.97 L799.45 344.67" fill="none" stroke="#f03098" stroke-width="1.1"/><path d="M888.6 252.59 L805.55 344.18" fill="none" stroke="#f02d95" stroke-width="1.1"/><path d="M887.67 255.28 A45.81 45.81 0 0 0 888.52 256 M890.78 252.46 L888.09 255.64 M888.52 256 L808.93 352.9" fill="none" stroke="#f02890" stroke-width="1.1"/><path d="M887.67 255.28 L806.86 348.9" fill="none" stroke="#f02b93" stroke-width="1.1"/><path d="M893.24 254.16 A41.47 41.47 0 0 0 899.79 258.05 M898.07 253.49 L896.43 256.26 M880.35 299.41 L846.06 371.94" fill="none" stroke="#ff3f3f" stroke-width="1.1"/><path d="M891.17 253.71 A42.37 42.37 0 0 0 894.32 256 M893.24 254.16 L892.72 254.89 M890.64 258.46 A46.48 46.48 0 0 0 893.52 260.35 M894.32 256 L892.06 259.43 M868.38 285.62 A81.55 81.55 0 0 0 872.24 288.37 M890.64 258.46 L870.29 287.02 M868.91 290.38 A85.08 85.08 0 0 0 871.65 292.21 M872.24 288.37 L870.27 291.3 M866.85 291.37 A87.08 87.08 0 0 0 868.69 292.65 M868.91 290.38 L867.77 292.02 M868.69 292.65 L823.97 358.55" fill="none" stroke="#ff4646" stroke-width="1.1"/><path d="M891.17 253.71 L814.55 349.68 M901.26 248.12 L898.07 253.49" fill="none" stroke="#ff4a4a" stroke-width="1.1"/><path d="M868.38 285.62 L815.66 355.28" fill="none" stroke="#ff4949" stroke-width="1.1"/><path d="M866.85 291.37 L818.74 358.45" fill="none" stroke="#ff4848" stroke-width="1.1"/><path d="M871.65 292.21 L827.27 361.36" fill="none" stroke="#ff4545" stroke-width="1.1"/><path d="M893.52 260.35 L832.19 361.57" fill="none" stroke="#ff4444" stroke-width="1.1"/><path d="M896.37 257.78 A42.82 42.82 0 0 0 902.16 260.54 M899.79 258.05 L899.21 259.27 M897.15 270.8 A54.21 54.21 0 0 0 900.26 271.96 M899.51 269.23 L898.7 271.41 M888.3 297.46 L857.66 377.84" fill="none" stroke="#ff3b3b" stroke-width="1.1"/><path d="M896.37 257.78 L834.86 365.46" fill="none" stroke="#ff4343" stroke-width="1.1"/><path d="M896.63 260.86 A45.4 45.4 0 0 0 906.04 264.5 M902.16 260.54 L901.23 262.94 M899.51 269.23 A51.89 51.89 0 0 0 904.53 270.82 M902.74 267.75 L902 270.09 M899.25 272.74 L862.86 376.13" fill="none" stroke="#ff3a3a" stroke-width="1.1"/><path d="M894.61 263.37 A48.56 48.56 0 0 0 895.72 263.95 M896.63 260.86 L895.17 263.66 M895.72 263.95 L844.7 365.05" fill="none" stroke="#ff4040" stroke-width="1.1"/><path d="M894.61 263.37 L838.5 367.78" fill="none" stroke="#ff4141" stroke-width="1.1"/><path d="M902.74 267.75 A49.44 49.44 0 0 0 907.32 268.96 M906.04 264.5 L905.01 268.41 M899.25 272.74 A55.27 55.27 0 0 0 900.6 273.19 M900.26 271.96 L899.92 272.97 M900.6 273.19 L865.83 380.79" fill="none" stroke="#ff3939" stroke-width="1.1"/><path d="M884.86 296.06 A82.26 82.26 0 0 0 888.3 297.46 M897.15 270.8 L886.57 296.78 M885.51 298.66 L853.05 377.65" fill="none" stroke="#ff3d3d" stroke-width="1.1"/><path d="M882.52 297.36 A84.4 84.4 0 0 0 885.51 298.66 M884.86 296.06 L884.01 298.03 M880.35 299.41 A87.17 87.17 0 0 0 882.39 300.34 M882.52 297.36 L881.37 299.88 M882.39 300.34 L848.56 376.97" fill="none" stroke="#ff3e3e" stroke-width="1.1"/><path d="M902.98 272.65 A54.06 54.06 0 0 0 905 273.17 M904.53 270.82 L903.99 272.92 M901.11 276.52 A58.31 58.31 0 0 0 902.55 276.93 M902.98 272.65 L901.83 276.73 M902.55 276.93 L874.91 380.4" fill="none" stroke="#ff3636" stroke-width="1.1"/><path d="M901.11 276.52 L870.41 380.6" fill="none" stroke="#ff3838" stroke-width="1.1"/><path d="M905 273.17 L878.12 385.32" fill="none" stroke="#ff3535" stroke-width="1.1"/><path d="M907.32 268.96 L883.95 378.9" fill="none" stroke="#ff3434" stroke-width="1.1"/><path d="M910.19 258.74 A38.85 38.85 0 0 0 915.02 259.37 M912.86 257.1 L912.59 259.13 M912.06 262.39 A42.15 42.15 0 0 0 917.54 262.75 M915.02 259.37 L914.8 262.66 M914.58 272.52 L907.8 388.78" fill="none" stroke="#ff8184" stroke-width="1.1"/><path d="M910.19 258.74 L886.44 380.93 M913.37 253.13 L912.86 257.1" fill="none" stroke="#ff8a8a" stroke-width="1.1"/><path d="M910.82 264.93 A44.85 44.85 0 0 0 912.6 265.17 M912.06 262.39 L911.71 265.06 M910.03 266 A46.03 46.03 0 0 0 911.25 266.19 M910.82 264.93 L910.64 266.1 M911.25 266.19 L894.37 387.28" fill="none" stroke="#ff8688" stroke-width="1.1"/><path d="M910.03 266 L889.7 387.9" fill="none" stroke="#ff8889" stroke-width="1.1"/><path d="M912.6 265.17 L899.15 385.1" fill="none" stroke="#ff8587" stroke-width="1.1"/><path d="M915.22 266.77 A46.23 46.23 0 0 0 919.86 266.78 M917.54 262.75 L917.54 266.83 M915.32 271.43 A50.88 50.88 0 0 0 918.04 271.48 M916.72 269.64 L916.68 271.47 M917.36 273.12 L916.79 393.72" fill="none" stroke="#ff7e82" stroke-width="1.1"/><path d="M913.44 269.48 A49.05 49.05 0 0 0 916.72 269.64 M915.22 266.77 L915.08 269.59 M914.58 272.52 A52 52 0 0 0 915.97 272.58 M915.32 271.43 L915.27 272.55 M915.97 272.58 L912.27 390.28" fill="none" stroke="#ff7f83" stroke-width="1.1"/><path d="M913.44 269.48 L903.12 390.67" fill="none" stroke="#ff8386" stroke-width="1.1"/><path d="M917.36 273.12 A52.52 52.52 0 0 0 918.76 273.11 M918.04 271.48 L918.06 273.12 M918.76 273.11 L921.27 386.37" fill="none" stroke="#ff7c81" stroke-width="1.1"/><path d="M919.86 266.78 L925.57 383.53" fill="none" stroke="#ff7a80" stroke-width="1.1"/><path d="M923.16 260.35 A40.14 40.14 0 0 0 927.31 259.55 M925.09 259.21 L925.25 260.01 M924.98 268.26 A48.23 48.23 0 0 0 926.83 267.94 M925.62 266.47 L925.9 268.11 M924.51 269.39 A49.28 49.28 0 0 0 925.77 269.2 M924.98 268.26 L925.14 269.3 M925.77 269.2 L946.27 391.13" fill="none" stroke="#bf4759" stroke-width="1.1"/><path d="M921.21 264.37 A43.92 43.92 0 0 0 926.14 263.68 M923.16 260.35 L923.69 264.1 M924.51 269.39 L942.25 394.73" fill="none" stroke="#c14759" stroke-width="1.1"/><path d="M920.56 267.68 A47.17 47.17 0 0 0 922.39 267.53 M921.21 264.37 L921.48 267.61 M922.1 271.13 L932.44 387.37" fill="none" stroke="#c3495b" stroke-width="1.1"/><path d="M920.56 267.68 L928.47 393.4 M923.98 253.49 L925.09 259.21" fill="none" stroke="#c44a5c" stroke-width="1.1"/><path d="M922.1 271.13 A50.73 50.73 0 0 0 923.41 270.99 M922.39 267.53 L922.75 271.06 M923.41 270.99 L936.72 386.54" fill="none" stroke="#c2485a" stroke-width="1.1"/><path d="M925.62 266.47 A46.57 46.57 0 0 0 927.69 266.06 M926.14 263.68 L926.66 266.28 M926.83 267.94 L950.18 387.76" fill="none" stroke="#be4658" stroke-width="1.1"/><path d="M927.69 266.06 L955.67 392.13" fill="none" stroke="#bd4557" stroke-width="1.1"/><path d="M927.31 259.55 L958.47 384.51" fill="none" stroke="#bc4456" stroke-width="1.1"/><path d="M933.03 259.5 A41.85 41.85 0 0 0 939.78 256.09 M935.76 256.53 L936.48 257.95 M936.82 261.89 A45.55 45.55 0 0 0 940.67 259.87 M937.72 258.92 L938.77 260.93 M935.03 265.88 A48.52 48.52 0 0 0 941.03 263.09 M936.82 261.89 L938.08 264.58 M938.52 272.82 A56.25 56.25 0 0 0 942.72 270.93 M939.08 268.45 L940.64 271.92 M940.72 276.09 A60.11 60.11 0 0 0 942.22 275.44 M940.6 273.76 L941.47 275.77 M942.22 275.44 L986.35 373.7" fill="none" stroke="#ff7420" stroke-width="1.1"/><path d="M929.23 262.29 A43.28 43.28 0 0 0 937.72 258.92 M933.03 259.5 L933.56 260.83 M933.74 270.5 A52.45 52.45 0 0 0 939.08 268.45 M935.03 265.88 L936.44 269.55 M937.67 274.93 A57.92 57.92 0 0 0 940.6 273.76 M938.52 272.82 L939.14 274.36 M940.72 276.09 L981.38 373.69" fill="none" stroke="#ff7020" stroke-width="1.1"/><path d="M929.33 264.98 A45.91 45.91 0 0 0 930.53 264.65 M929.23 262.29 L929.93 264.82 M930.53 264.65 L964.45 380.17" fill="none" stroke="#ff5e1e" stroke-width="1.1"/><path d="M929.33 264.98 L959.49 379.14 M933.03 251.12 L935.76 256.53" fill="none" stroke="#ff5a1e" stroke-width="1.1"/><path d="M933.74 270.5 L969.95 382.4" fill="none" stroke="#ff631f" stroke-width="1.1"/><path d="M937.83 277.75 A60.62 60.62 0 0 0 939.38 277.17 M937.67 274.93 L938.6 277.46 M939.38 277.17 L978.96 380" fill="none" stroke="#ff6b1f" stroke-width="1.1"/><path d="M937.83 277.75 L974.7 381.93" fill="none" stroke="#ff671f" stroke-width="1.1"/><path d="M943.61 274.53 A59.87 59.87 0 0 0 945.07 273.8 M942.72 270.93 L944.34 274.17 M945.07 273.8 L992.55 365.75" fill="none" stroke="#ff7d21" stroke-width="1.1"/><path d="M943.61 274.53 L989.34 369.37" fill="none" stroke="#ff7921" stroke-width="1.1"/><path d="M941.03 263.09 L998.22 366.81" fill="none" stroke="#ff8121" stroke-width="1.1"/><path d="M940.67 259.87 L1003.91 367.49" fill="none" stroke="#ff8622" stroke-width="1.1"/><path d="M939.78 256.09 L1007.94 365.18" fill="none" stroke="#ff8a22" stroke-width="1.1"/><path d="M940.66 252.61 A39.45 39.45 0 0 0 948.44 245.2 M943.46 247.76 L944.8 249.17 M956.07 259.68 L1033.3 338.15" fill="none" stroke="#dca224" stroke-width="1.1"/><path d="M941.12 254.86 A41.56 41.56 0 0 0 942.66 253.75 M940.66 252.61 L941.89 254.32 M944.35 257.98 L1011.69 352.09" fill="none" stroke="#f1a124" stroke-width="1.1"/><path d="M942.87 259 A45.97 45.97 0 0 0 944.35 257.98 M941.12 254.86 L943.61 258.5 M944.49 262.65 A49.92 49.92 0 0 0 945.58 261.94 M942.87 259 L945.04 262.3 M945.58 261.94 L1008.84 355.39" fill="none" stroke="#f5a024" stroke-width="1.1"/><path d="M944.49 262.65 L1008.92 363.4 M941.6 245.8 L943.46 247.76" fill="none" stroke="#f8a024" stroke-width="1.1"/><path d="M942.66 253.75 L1016.79 351.84" fill="none" stroke="#eea124" stroke-width="1.1"/><path d="M949.02 249.06 A42.39 42.39 0 0 0 952.33 244.92 M948.44 245.2 L950.74 247.04 M949.78 256.9 A48.51 48.51 0 0 0 953.9 252.78 M950.33 253.33 L951.9 254.9 M953.66 256.82 A51.11 51.11 0 0 0 957.89 252.06 M953.9 252.78 L955.85 254.51 M953.15 258.65 A52.07 52.07 0 0 0 955.49 256.32 M953.66 256.82 L954.34 257.5 M956.07 259.68 A54.83 54.83 0 0 0 958.88 256.69 M955.49 256.32 L957.5 258.21 M959.82 261.32 A58.65 58.65 0 0 0 961.38 259.63 M958.73 258.74 L960.61 260.48 M963.47 262.58 L1041.82 334.29" fill="none" stroke="#d5a324" stroke-width="1.1"/><path d="M947.8 253.96 A45 45 0 0 0 953.77 247.36 M949.02 249.06 L950.95 250.81 M946.93 256.41 A46.29 46.29 0 0 0 950.33 253.33 M947.8 253.96 L948.67 254.91 M959.82 261.32 L1035.04 333.85" fill="none" stroke="#d9a224" stroke-width="1.1"/><path d="M947.43 258 A47.84 47.84 0 0 0 948.4 257.21 M946.93 256.41 L947.92 257.61 M948.4 257.21 L1021.97 344.69" fill="none" stroke="#e7a124" stroke-width="1.1"/><path d="M947.43 258 L1019.08 347.84" fill="none" stroke="#eaa124" stroke-width="1.1"/><path d="M949.78 256.9 L1026.49 343.42" fill="none" stroke="#e3a224" stroke-width="1.1"/><path d="M953.15 258.65 L1031.1 342.09" fill="none" stroke="#e0a224" stroke-width="1.1"/><path d="M958.73 258.74 A56.1 56.1 0 0 0 960.9 256.27 M958.88 256.69 L959.83 257.52 M963.47 262.58 A62.18 62.18 0 0 0 964.55 261.37 M961.38 259.63 L964.01 261.98 M964.55 261.37 L1045.82 331.95" fill="none" stroke="#d2a324" stroke-width="1.1"/><path d="M960.9 256.27 L1044.59 325.21" fill="none" stroke="#cea324" stroke-width="1.1"/><path d="M957.89 252.06 L1044.29 319.54" fill="none" stroke="#cba324" stroke-width="1.1"/><path d="M953.77 247.36 L1046.48 315.94" fill="none" stroke="#c7a424" stroke-width="1.1"/><path d="M952.33 244.92 L1055.81 317.38" fill="none" stroke="#c4a424" stroke-width="1.1"/><path d="M957.15 237.87 A43.15 43.15 0 0 0 960.75 221.35 M958.12 229.43 L959.76 229.79 M979.28 241.15 A65.01 65.01 0 0 0 980.01 238.79 M977.61 239.33 L979.66 239.97 M981 239.95 L1080.26 270.25" fill="none" stroke="#8a881e" stroke-width="1.1"/><path d="M957.36 241.18 A44.77 44.77 0 0 0 959.72 235.77 M957.15 237.87 L958.63 238.51 M979.28 241.15 L1070.11 271.41" fill="none" stroke="#8c8a1e" stroke-width="1.1"/><path d="M957.75 243.57 A46.26 46.26 0 0 0 959.54 240.12 M957.36 241.18 L958.68 241.86 M963.26 245.48 L1058.36 297.32" fill="none" stroke="#9e9b25" stroke-width="1.1"/><path d="M960.17 246.87 A50.02 50.02 0 0 0 961.82 243.98 M957.75 243.57 L961.02 245.44 M963.74 247.29 L1067.07 307.05" fill="none" stroke="#a09d25" stroke-width="1.1"/><path d="M962.15 249.87 A53.31 53.31 0 0 0 963.74 247.29 M960.17 246.87 L962.96 248.59 M967.66 253.05 A59.66 59.66 0 0 0 968.47 251.77 M966.18 251.22 L968.07 252.41 M968.47 251.77 L1058.24 306.77" fill="none" stroke="#a39f26" stroke-width="1.1"/><path d="M964.98 253.04 A57.43 57.43 0 0 0 966.18 251.22 M962.15 249.87 L965.59 252.14 M967.66 253.05 L1059.53 312.59" fill="none" stroke="#a5a227" stroke-width="1.1"/><path d="M964.98 253.04 L1058.97 317.4 M952.19 228.14 L958.12 229.43" fill="none" stroke="#a8a428" stroke-width="1.1"/><path d="M963.26 245.48 A52 52 0 0 0 963.87 244.32 M961.82 243.98 L963.57 244.9 M963.87 244.32 L1061.92 294.58" fill="none" stroke="#9b9824" stroke-width="1.1"/><path d="M960.06 241.02 A47.12 47.12 0 0 0 960.56 239.94 M959.54 240.12 L960.31 240.48 M960.56 239.94 L1063.86 286.44" fill="none" stroke="#969422" stroke-width="1.1"/><path d="M960.06 241.02 L1068.35 293.11" fill="none" stroke="#999623" stroke-width="1.1"/><path d="M962.72 239.55 A48.94 48.94 0 0 0 964.44 234.78 M959.72 235.77 L963.64 237.19 M977.61 239.33 A62.87 62.87 0 0 0 979.03 233.94 M974.42 235.61 L978.38 236.65 M988.73 236.52 L1083.96 257.84" fill="none" stroke="#82811b" stroke-width="1.1"/><path d="M962.72 239.55 L1077.36 287.7" fill="none" stroke="#949121" stroke-width="1.1"/><path d="M966.25 239.6 A52.23 52.23 0 0 0 968.62 231.77 M964.44 234.78 L967.59 235.73 M968.03 238.83 A53.63 53.63 0 0 0 971.04 225.1 M968.62 231.77 L969.99 232.07 M974.39 231.06 A57.75 57.75 0 0 0 975.22 224.53 M972.35 227.49 L974.9 227.81 M974.42 235.61 A58.76 58.76 0 0 0 976.03 226.83 M974.39 231.06 L975.39 231.25 M982.52 236.87 A66.93 66.93 0 0 0 983.42 232.73 M979.03 233.94 L983 234.81 M988.73 236.52 A72.89 72.89 0 0 0 989.11 234.71 M984.92 234.77 L988.92 235.62 M989.11 234.71 L1087.25 254.08" fill="none" stroke="#807e1a" stroke-width="1.1"/><path d="M966.25 239.6 L1070.18 280.18" fill="none" stroke="#918f20" stroke-width="1.1"/><path d="M968.03 238.83 L1070.19 275.77" fill="none" stroke="#8f8d1f" stroke-width="1.1"/><path d="M972.35 227.49 A55.18 55.18 0 0 0 972.73 222.96 M971.04 225.1 L972.58 225.23 M984.92 234.77 A68.79 68.79 0 0 0 985.55 231.35 M983.42 232.73 L985.25 233.06 M988.57 232.75 L1090.42 250.18" fill="none" stroke="#7d7c19" stroke-width="1.1"/><path d="M981 239.95 A66.28 66.28 0 0 0 981.47 238.34 M980.01 238.79 L981.24 239.15 M981.47 238.34 L1078.65 265.33" fill="none" stroke="#87851d" stroke-width="1.1"/><path d="M982.52 236.87 L1082.58 261.95" fill="none" stroke="#85831c" stroke-width="1.1"/><path d="M988.57 232.75 A72 72 0 0 0 988.86 230.95 M985.55 231.35 L988.72 231.85 M988.86 230.95 L1086.78 245.16" fill="none" stroke="#7b7a18" stroke-width="1.1"/><path d="M977.71 227.78 A60.54 60.54 0 0 0 977.87 226.25 M976.03 226.83 L977.8 227.01 M977.87 226.25 L1084.47 236.25" fill="none" stroke="#767517" stroke-width="1.1"/><path d="M977.71 227.78 L1079.64 239.95" fill="none" stroke="#787717" stroke-width="1.1"/><path d="M975.22 224.53 L1080.08 231.69" fill="none" stroke="#737316" stroke-width="1.1"/><path d="M972.73 222.96 L1077.63 227.45" fill="none" stroke="#717015" stroke-width="1.1"/><path d="M960.75 221.35 L1085.13 223.52" fill="none" stroke="#6e6e14" stroke-width="1.1"/><path d="M941.18 245.37 A34.2 34.2 0 0 0 951.02 227.88 M951.02 227.88 L952.19 228.14 M941.18 245.37 L941.6 245.8 M932.76 250.59 A33.6 33.6 0 0 0 946.89 237.07 M946.89 237.07 L947.41 237.36 M932.76 250.59 L933.03 251.12 M923.87 252.9 A32.9 32.9 0 0 0 940.34 244.37 M940.34 244.37 L940.83 244.88 M923.87 252.9 L923.98 253.49 M913.45 252.53 A32.2 32.2 0 0 0 932.4 249.2 M932.4 249.2 L932.72 249.82 M913.45 252.53 L913.37 253.13 M901.57 247.6 A31.4 31.4 0 0 0 923.04 251.53 M923.04 251.53 L923.18 252.31 M901.57 247.6 L901.26 248.12 M895.06 241.29 A30.6 30.6 0 0 0 912.1 250.7 M912.1 250.7 L911.95 251.49 M895.06 241.29 L894.61 241.7 M891.44 234.87 A29.8 29.8 0 0 0 903.19 246.69 M903.19 246.69 L902.81 247.39 M891.44 234.87 L890.91 235.16 M889.37 227.26 A29 29 0 0 0 897.04 241.05 M897.04 241.05 L896.47 241.62 M889.37 227.26 L888.79 227.4 M889.42 219.43 A28.2 28.2 0 0 0 892.95 234.3 M892.95 234.3 L892.25 234.69 M889.42 219.43 L888.82 219.41 M891.13 213.53 A27.4 27.4 0 0 0 890.94 226.93 M890.94 226.93 L890.16 227.11 M891.13 213.53 L890.55 213.38 M893.79 208.31 A26.8 26.8 0 0 0 890.8 220.23 M890.8 220.23 L890.2 220.22 M893.79 208.31 L893.25 208.03 M901.49 199.94 A26.2 26.2 0 0 0 892.18 214.24 M892.18 214.24 L891.6 214.09 M901.49 199.94 L901.12 199.47 M906.88 197.35 A25.6 25.6 0 0 0 896.14 206.64 M896.14 206.64 L895.64 206.31 M906.88 197.35 L906.63 196.81 M916.62 195.72 A24.9 24.9 0 0 0 901.31 201.77 M901.31 201.77 L900.85 201.24 M916.62 195.72 L916.6 195.12 M923.01 197.32 A23.9 23.9 0 0 0 908.82 198.37 M908.82 198.37 L908.45 197.44 M923.01 197.32 L923.14 196.74 M934.87 205.56 A22.9 22.9 0 0 0 915.91 197.76 M915.91 197.76 L915.83 196.77 M934.87 205.56 L935.32 205.16 M935.2 211.32 A19.9 19.9 0 0 0 925.17 202.2 M925.17 202.2 L926.31 199.42 M935.2 211.32 L935.73 211.04 M934.94 218.22 A17.5 17.5 0 0 0 929.37 207.65 M929.37 207.65 L930.99 205.87 M934.94 218.22 L934.94 218.22 M917.6 220.6 L930.12 208.38" fill="none" stroke="#111" stroke-width="1.3"/><path d="M737.57 293.23 A198 195.23 0 0 0 1116.74 219.37" fill="none" stroke="#dd3300" stroke-width="15.6"/><path d="M1116.79 212.9 A198 195.23 0 0 0 1101.33 138.95" fill="none" stroke="#0a1eff" stroke-width="15.6"/><path d="M1098.83 133.33 A198 195.23 0 0 0 1075.36 95.08" fill="none" stroke="#cccc00" stroke-width="15.6"/><path d="M1069.36 87.81 A198 195.23 0 0 0 722.45 189.46" fill="none" stroke="#640064" stroke-width="15.6"/><path d="M721.68 196.23 A198 195.23 0 0 0 722.4 239.41" fill="none" stroke="#cccc00" stroke-width="15.6"/><path d="M723.13 244.47 A198 195.23 0 0 0 734.9 286.94" fill="none" stroke="#ff8000" stroke-width="15.6"/><defs><path id="tEU" d="M728.14 181.45 A193.6 190.89 0 0 1 1043.24 68.37"/><path id="tAS" d="M763.83 342.82 A202.3 199.47 0 0 0 1108.9 282.82"/><path id="tAF" d="M1015.75 49.03 A193.9 191.19 0 0 1 1112.7 214.6"/><path id="tMO" d="M1043.63 67.92 A194.2 191.48 0 0 1 1086.98 310.34"/><path id="tAD" d="M767.66 339.65 A197.3 194.54 0 0 1 767.66 89.55"/><path id="tAD2" d="M773.33 334.96 A189.9 187.24 0 0 1 773.33 94.24"/><path id="tME" d="M821.3 381.11 A195 192.27 0 0 1 749.93 118.47"/></defs><text font-size="12.7" fill="#fff"><textPath href="#tEU" startOffset="50.17%" text-anchor="middle">European</textPath></text><text font-size="12.2" fill="#fff"><textPath href="#tAS" startOffset="51.58%" text-anchor="middle">Asian</textPath></text><text font-size="12.0" fill="#fff"><textPath href="#tAF" startOffset="48.00%" text-anchor="middle">African</textPath></text><text font-size="11.0" fill="#fff"><textPath href="#tMO" startOffset="48.00%" text-anchor="middle">Asiatic mouflon</textPath></text><text font-size="12.6" fill="#fff"><textPath href="#tAD" startOffset="48.50%" text-anchor="middle">African</textPath></text><text font-size="6.0" fill="#fff"><textPath href="#tAD2" startOffset="48.50%" text-anchor="middle">(Dorper sheep)</textPath></text><text font-size="8.0" fill="#fff"><textPath href="#tME" startOffset="49.78%" text-anchor="middle">Middle east</textPath></text><line x1="1107.6" y1="386.6" x2="1131.8" y2="386.6" stroke="#000" stroke-width="2.2"/><text x="1119.7" y="403.3" font-size="10.3" text-anchor="middle" stroke="#000" stroke-width="0.2">0.03</text><text x="710.3" y="18.2" font-size="25.5" font-weight="bold">b</text><rect x="55.6" y="465.5" width="391.8" height="249.1" fill="none" stroke="#000" stroke-width="1.5"/><line x1="51.6" y1="472.2" x2="55.6" y2="472.2" stroke="#000" stroke-width="1.2"/><text x="47.3" y="476.3" font-size="11.6" text-anchor="end" stroke="#000" stroke-width="0.2">0.10</text><line x1="51.6" y1="506.3" x2="55.6" y2="506.3" stroke="#000" stroke-width="1.2"/><text x="47.3" y="510.4" font-size="11.6" text-anchor="end" stroke="#000" stroke-width="0.2">0.05</text><line x1="51.6" y1="540.3" x2="55.6" y2="540.3" stroke="#000" stroke-width="1.2"/><text x="47.3" y="544.4" font-size="11.6" text-anchor="end" stroke="#000" stroke-width="0.2">0.00</text><line x1="51.6" y1="574.5" x2="55.6" y2="574.5" stroke="#000" stroke-width="1.2"/><text x="47.3" y="578.6" font-size="11.6" text-anchor="end" stroke="#000" stroke-width="0.2">−0.05</text><line x1="51.6" y1="608.5" x2="55.6" y2="608.5" stroke="#000" stroke-width="1.2"/><text x="47.3" y="612.6" font-size="11.6" text-anchor="end" stroke="#000" stroke-width="0.2">−0.10</text><line x1="51.6" y1="642.6" x2="55.6" y2="642.6" stroke="#000" stroke-width="1.2"/><text x="47.3" y="646.7" font-size="11.6" text-anchor="end" stroke="#000" stroke-width="0.2">−0.15</text><line x1="51.6" y1="676.7" x2="55.6" y2="676.7" stroke="#000" stroke-width="1.2"/><text x="47.3" y="680.8" font-size="11.6" text-anchor="end" stroke="#000" stroke-width="0.2">−0.20</text><line x1="51.6" y1="710.8" x2="55.6" y2="710.8" stroke="#000" stroke-width="1.2"/><text x="47.3" y="714.9" font-size="11.6" text-anchor="end" stroke="#000" stroke-width="0.2">−0.25</text><line x1="117" y1="714.6" x2="117" y2="718.9" stroke="#000" stroke-width="1.2"/><text x="117" y="733.4" font-size="11.6" text-anchor="middle" stroke="#000" stroke-width="0.2">−0.10</text><line x1="209.3" y1="714.6" x2="209.3" y2="718.9" stroke="#000" stroke-width="1.2"/><text x="209.3" y="733.4" font-size="11.6" text-anchor="middle" stroke="#000" stroke-width="0.2">−0.05</text><line x1="301.6" y1="714.6" x2="301.6" y2="718.9" stroke="#000" stroke-width="1.2"/><text x="301.6" y="733.4" font-size="11.6" text-anchor="middle" stroke="#000" stroke-width="0.2">0.00</text><line x1="394" y1="714.6" x2="394" y2="718.9" stroke="#000" stroke-width="1.2"/><text x="394" y="733.4" font-size="11.6" text-anchor="middle" stroke="#000" stroke-width="0.2">0.05</text><text x="236.6" y="750.2" font-size="11.6" text-anchor="middle" stroke="#000" stroke-width="0.2">PC1</text><text x="0" y="0" font-size="11.6" text-anchor="middle" transform="translate(10.6 581.5) rotate(-90)" stroke="#000" stroke-width="0.2">PC2</text><ellipse cx="164.5" cy="503.1" rx="110.1" ry="28" transform="rotate(12.3 164.5 503.1)" fill="none" stroke="#cdb1cf" stroke-width="1.1"/><ellipse cx="312.25" cy="557.9" rx="50.3" ry="43" transform="rotate(47.5 312.25 557.9)" fill="none" stroke="#c9c412" stroke-width="1.3"/><ellipse cx="397.9" cy="543.4" rx="43.4" ry="33.3" transform="rotate(-3 397.9 543.4)" fill="none" stroke="#ee1111" stroke-width="1.3"/><ellipse cx="177.55" cy="686.65" rx="32" ry="10.8" transform="rotate(-53.4 177.55 686.65)" fill="none" stroke="#1030ee" stroke-width="1.3"/><rect x="66.32" y="470.62" width="7.56" height="7.56" stroke="#c9a9cb" stroke-width="1.15" fill="none"/><rect x="67.72" y="472.02" width="7.56" height="7.56" stroke="#c9a9cb" stroke-width="1.15" fill="none"/><rect x="69.02" y="473.32" width="7.56" height="7.56" stroke="#c9a9cb" stroke-width="1.15" fill="none"/><rect x="72.72" y="476.12" width="7.56" height="7.56" stroke="#c9a9cb" stroke-width="1.15" fill="none"/><rect x="66.32" y="473.32" width="7.56" height="7.56" stroke="#c9a9cb" stroke-width="1.15" fill="none"/><rect x="70.22" y="472.22" width="7.56" height="7.56" stroke="#c9a9cb" stroke-width="1.15" fill="none"/><rect x="83.32" y="479.12" width="7.56" height="7.56" stroke="#c9a9cb" stroke-width="1.15" fill="none"/><rect x="91.12" y="480.22" width="7.56" height="7.56" stroke="#c9a9cb" stroke-width="1.15" fill="none"/><rect x="85.22" y="478.22" width="7.56" height="7.56" stroke="#c9a9cb" stroke-width="1.15" fill="none"/><rect x="89.22" y="481.22" width="7.56" height="7.56" stroke="#c9a9cb" stroke-width="1.15" fill="none"/><path d="M127 496.17 L122.59 503.94 L131.41 503.94 Z" stroke="#c9a9cb" stroke-width="1.15" fill="none"/><path d="M131.1 496.17 L126.69 503.94 L135.51 503.94 Z" stroke="#c9a9cb" stroke-width="1.15" fill="none"/><path d="M136.1 495.67 L131.69 503.44 L140.51 503.44 Z" stroke="#c9a9cb" stroke-width="1.15" fill="none"/><path d="M143.9 496.57 L139.49 504.34 L148.31 504.34 Z" stroke="#c9a9cb" stroke-width="1.15" fill="none"/><path d="M139 497.17 L134.59 504.94 L143.41 504.94 Z" stroke="#c9a9cb" stroke-width="1.15" fill="none"/><path d="M135 512.83 L130.59 505.06 L139.41 505.06 Z" stroke="#b2345f" stroke-width="1.15" fill="none"/><path d="M138 514.83 L133.59 507.06 L142.41 507.06 Z" stroke="#b2345f" stroke-width="1.15" fill="none"/><path d="M141 513.83 L136.59 506.06 L145.41 506.06 Z" stroke="#b2345f" stroke-width="1.15" fill="none"/><path d="M144 515.83 L139.59 508.06 L148.41 508.06 Z" stroke="#b2345f" stroke-width="1.15" fill="none"/><path d="M147 514.83 L142.59 507.06 L151.41 507.06 Z" stroke="#b2345f" stroke-width="1.15" fill="none"/><path d="M150 515.83 L145.59 508.06 L154.41 508.06 Z" stroke="#b2345f" stroke-width="1.15" fill="none"/><path d="M153.6 515.43 L149.19 507.66 L158.01 507.66 Z" stroke="#b2345f" stroke-width="1.15" fill="none"/><path d="M139 516.83 L134.59 509.06 L143.41 509.06 Z" stroke="#b2345f" stroke-width="1.15" fill="none"/><path d="M145 517.83 L140.59 510.06 L149.41 510.06 Z" stroke="#b2345f" stroke-width="1.15" fill="none"/><rect x="130.22" y="504.22" width="7.56" height="7.56" stroke="#b2345f" stroke-width="1.15" fill="none"/><path d="M130.22 504.22 L137.78 511.78" stroke="#b2345f" stroke-width="1.15" fill="none"/><path d="M130.22 511.78 L137.78 504.22" stroke="#b2345f" stroke-width="1.15" fill="none"/><rect x="133.22" y="505.22" width="7.56" height="7.56" stroke="#b2345f" stroke-width="1.15" fill="none"/><path d="M133.22 505.22 L140.78 512.78" stroke="#b2345f" stroke-width="1.15" fill="none"/><path d="M133.22 512.78 L140.78 505.22" stroke="#b2345f" stroke-width="1.15" fill="none"/><rect x="136.22" y="506.22" width="7.56" height="7.56" stroke="#b2345f" stroke-width="1.15" fill="none"/><path d="M136.22 506.22 L143.78 513.78" stroke="#b2345f" stroke-width="1.15" fill="none"/><path d="M136.22 513.78 L143.78 506.22" stroke="#b2345f" stroke-width="1.15" fill="none"/><rect x="139.22" y="505.22" width="7.56" height="7.56" stroke="#b2345f" stroke-width="1.15" fill="none"/><path d="M139.22 505.22 L146.78 512.78" stroke="#b2345f" stroke-width="1.15" fill="none"/><path d="M139.22 512.78 L146.78 505.22" stroke="#b2345f" stroke-width="1.15" fill="none"/><rect x="142.22" y="506.22" width="7.56" height="7.56" stroke="#b2345f" stroke-width="1.15" fill="none"/><path d="M142.22 506.22 L149.78 513.78" stroke="#b2345f" stroke-width="1.15" fill="none"/><path d="M142.22 513.78 L149.78 506.22" stroke="#b2345f" stroke-width="1.15" fill="none"/><rect x="161.72" y="509.32" width="7.56" height="7.56" stroke="#b2345f" stroke-width="1.15" fill="none"/><path d="M161.72 509.32 L169.28 516.88" stroke="#b2345f" stroke-width="1.15" fill="none"/><path d="M161.72 516.88 L169.28 509.32" stroke="#b2345f" stroke-width="1.15" fill="none"/><rect x="184.62" y="515.02" width="7.56" height="7.56" stroke="#b2345f" stroke-width="1.15" fill="none"/><path d="M184.62 515.02 L192.18 522.58" stroke="#b2345f" stroke-width="1.15" fill="none"/><path d="M184.62 522.58 L192.18 515.02" stroke="#b2345f" stroke-width="1.15" fill="none"/><circle cx="171" cy="522.06" r="3.6" stroke="#00e000" stroke-width="1" fill="none"/><path d="M168.48 519.54 L173.52 524.58" stroke="#00e000" stroke-width="1" fill="none"/><path d="M168.48 524.58 L173.52 519.54" stroke="#00e000" stroke-width="1" fill="none"/><circle cx="174" cy="523.16" r="3.6" stroke="#00e000" stroke-width="1" fill="none"/><path d="M171.48 520.64 L176.52 525.68" stroke="#00e000" stroke-width="1" fill="none"/><path d="M171.48 525.68 L176.52 520.64" stroke="#00e000" stroke-width="1" fill="none"/><circle cx="177" cy="522.53" r="3.6" stroke="#00e000" stroke-width="1" fill="none"/><path d="M174.48 520.01 L179.52 525.05" stroke="#00e000" stroke-width="1" fill="none"/><path d="M174.48 525.05 L179.52 520.01" stroke="#00e000" stroke-width="1" fill="none"/><circle cx="180.2" cy="523.37" r="3.6" stroke="#00e000" stroke-width="1" fill="none"/><path d="M177.68 520.85 L182.72 525.89" stroke="#00e000" stroke-width="1" fill="none"/><path d="M177.68 525.89 L182.72 520.85" stroke="#00e000" stroke-width="1" fill="none"/><circle cx="183" cy="523.45" r="3.6" stroke="#00e000" stroke-width="1" fill="none"/><path d="M180.48 520.93 L185.52 525.97" stroke="#00e000" stroke-width="1" fill="none"/><path d="M180.48 525.97 L185.52 520.93" stroke="#00e000" stroke-width="1" fill="none"/><circle cx="186" cy="521.44" r="3.6" stroke="#00e000" stroke-width="1" fill="none"/><path d="M183.48 518.92 L188.52 523.96" stroke="#00e000" stroke-width="1" fill="none"/><path d="M183.48 523.96 L188.52 518.92" stroke="#00e000" stroke-width="1" fill="none"/><circle cx="189.4" cy="521.25" r="3.6" stroke="#00e000" stroke-width="1" fill="none"/><path d="M186.88 518.73 L191.92 523.77" stroke="#00e000" stroke-width="1" fill="none"/><path d="M186.88 523.77 L191.92 518.73" stroke="#00e000" stroke-width="1" fill="none"/><circle cx="192" cy="524.21" r="3.6" stroke="#00e000" stroke-width="1" fill="none"/><path d="M189.48 521.69 L194.52 526.73" stroke="#00e000" stroke-width="1" fill="none"/><path d="M189.48 526.73 L194.52 521.69" stroke="#00e000" stroke-width="1" fill="none"/><circle cx="194.5" cy="522.13" r="3.6" stroke="#00e000" stroke-width="1" fill="none"/><path d="M191.98 519.61 L197.02 524.65" stroke="#00e000" stroke-width="1" fill="none"/><path d="M191.98 524.65 L197.02 519.61" stroke="#00e000" stroke-width="1" fill="none"/><circle cx="196.7" cy="522.04" r="3.6" stroke="#00e000" stroke-width="1" fill="none"/><path d="M194.18 519.52 L199.22 524.56" stroke="#00e000" stroke-width="1" fill="none"/><path d="M194.18 524.56 L199.22 519.52" stroke="#00e000" stroke-width="1" fill="none"/><circle cx="219" cy="524.78" r="3.6" stroke="#00e000" stroke-width="1" fill="none"/><path d="M216.48 522.26 L221.52 527.3" stroke="#00e000" stroke-width="1" fill="none"/><path d="M216.48 527.3 L221.52 522.26" stroke="#00e000" stroke-width="1" fill="none"/><circle cx="223.5" cy="522.89" r="3.6" stroke="#00e000" stroke-width="1" fill="none"/><path d="M220.98 520.37 L226.02 525.41" stroke="#00e000" stroke-width="1" fill="none"/><path d="M220.98 525.41 L226.02 520.37" stroke="#00e000" stroke-width="1" fill="none"/><rect x="192.92" y="517.22" width="7.56" height="7.56" stroke="#a035f0" stroke-width="1.15" fill="none"/><path d="M192.92 521 L200.48 521" stroke="#a035f0" stroke-width="1.15" fill="none"/><path d="M196.7 517.22 L196.7 524.78" stroke="#a035f0" stroke-width="1.15" fill="none"/><rect x="194.72" y="518.22" width="7.56" height="7.56" stroke="#a035f0" stroke-width="1.15" fill="none"/><path d="M194.72 522 L202.28 522" stroke="#a035f0" stroke-width="1.15" fill="none"/><path d="M198.5 518.22 L198.5 525.78" stroke="#a035f0" stroke-width="1.15" fill="none"/><rect x="196.22" y="517.42" width="7.56" height="7.56" stroke="#a035f0" stroke-width="1.15" fill="none"/><path d="M196.22 521.2 L203.78 521.2" stroke="#a035f0" stroke-width="1.15" fill="none"/><path d="M200 517.42 L200 524.98" stroke="#a035f0" stroke-width="1.15" fill="none"/><rect x="197.52" y="517.72" width="7.56" height="7.56" stroke="#a035f0" stroke-width="1.15" fill="none"/><path d="M197.52 521.5 L205.08 521.5" stroke="#a035f0" stroke-width="1.15" fill="none"/><path d="M201.3 517.72 L201.3 525.28" stroke="#a035f0" stroke-width="1.15" fill="none"/><rect x="199.22" y="518.72" width="7.56" height="7.56" stroke="#a035f0" stroke-width="1.15" fill="none"/><path d="M199.22 522.5 L206.78 522.5" stroke="#a035f0" stroke-width="1.15" fill="none"/><path d="M203 518.72 L203 526.28" stroke="#a035f0" stroke-width="1.15" fill="none"/><rect x="200.72" y="518.02" width="7.56" height="7.56" stroke="#a035f0" stroke-width="1.15" fill="none"/><path d="M200.72 521.8 L208.28 521.8" stroke="#a035f0" stroke-width="1.15" fill="none"/><path d="M204.5 518.02 L204.5 525.58" stroke="#a035f0" stroke-width="1.15" fill="none"/><rect x="202.12" y="518.22" width="7.56" height="7.56" stroke="#a035f0" stroke-width="1.15" fill="none"/><path d="M202.12 522 L209.68 522" stroke="#a035f0" stroke-width="1.15" fill="none"/><path d="M205.9 518.22 L205.9 525.78" stroke="#a035f0" stroke-width="1.15" fill="none"/><rect x="203.72" y="519.22" width="7.56" height="7.56" stroke="#a035f0" stroke-width="1.15" fill="none"/><path d="M203.72 523 L211.28 523" stroke="#a035f0" stroke-width="1.15" fill="none"/><path d="M207.5 519.22 L207.5 526.78" stroke="#a035f0" stroke-width="1.15" fill="none"/><rect x="205.72" y="518.62" width="7.56" height="7.56" stroke="#a035f0" stroke-width="1.15" fill="none"/><path d="M205.72 522.4 L213.28 522.4" stroke="#a035f0" stroke-width="1.15" fill="none"/><path d="M209.5 518.62 L209.5 526.18" stroke="#a035f0" stroke-width="1.15" fill="none"/><rect x="199.22" y="519.22" width="7.56" height="7.56" stroke="#a035f0" stroke-width="1.15" fill="none"/><path d="M199.22 523 L206.78 523" stroke="#a035f0" stroke-width="1.15" fill="none"/><path d="M203 519.22 L203 526.78" stroke="#a035f0" stroke-width="1.15" fill="none"/><rect x="194.22" y="519.72" width="7.56" height="7.56" stroke="#a035f0" stroke-width="1.15" fill="none"/><path d="M194.22 523.5 L201.78 523.5" stroke="#a035f0" stroke-width="1.15" fill="none"/><path d="M198 519.72 L198 527.28" stroke="#a035f0" stroke-width="1.15" fill="none"/><rect x="196.72" y="519.82" width="7.56" height="7.56" stroke="#a035f0" stroke-width="1.15" fill="none"/><path d="M196.72 523.6 L204.28 523.6" stroke="#a035f0" stroke-width="1.15" fill="none"/><path d="M200.5 519.82 L200.5 527.38" stroke="#a035f0" stroke-width="1.15" fill="none"/><rect x="202.22" y="520.02" width="7.56" height="7.56" stroke="#a035f0" stroke-width="1.15" fill="none"/><path d="M202.22 523.8 L209.78 523.8" stroke="#a035f0" stroke-width="1.15" fill="none"/><path d="M206 520.02 L206 527.58" stroke="#a035f0" stroke-width="1.15" fill="none"/><circle cx="199.4" cy="524.7" r="4.2" stroke="#c9a9cb" stroke-width="1.15" fill="none"/><circle cx="203" cy="525.2" r="4.2" stroke="#c9a9cb" stroke-width="1.15" fill="none"/><rect x="203.22" y="522.12" width="7.56" height="7.56" stroke="#b2345f" stroke-width="1.15" fill="none"/><path d="M203.22 522.12 L210.78 529.68" stroke="#b2345f" stroke-width="1.15" fill="none"/><path d="M203.22 529.68 L210.78 522.12" stroke="#b2345f" stroke-width="1.15" fill="none"/><path d="M213.2 527.46 L208.79 535.02 L217.61 535.02 Z" stroke="#0000ff" stroke-width="1.15" fill="none"/><path d="M213.2 537.54 L208.79 529.98 L217.61 529.98 Z" stroke="#0000ff" stroke-width="1.15" fill="none"/><path d="M217 526.46 L212.59 534.02 L221.41 534.02 Z" stroke="#0000ff" stroke-width="1.15" fill="none"/><path d="M217 536.54 L212.59 528.98 L221.41 528.98 Z" stroke="#0000ff" stroke-width="1.15" fill="none"/><path d="M226.1 528.36 L221.69 535.92 L230.51 535.92 Z" stroke="#0000ff" stroke-width="1.15" fill="none"/><path d="M226.1 538.44 L221.69 530.88 L230.51 530.88 Z" stroke="#0000ff" stroke-width="1.15" fill="none"/><path d="M229.7 528.36 L225.29 535.92 L234.11 535.92 Z" stroke="#0000ff" stroke-width="1.15" fill="none"/><path d="M229.7 538.44 L225.29 530.88 L234.11 530.88 Z" stroke="#0000ff" stroke-width="1.15" fill="none"/><path d="M221 526.96 L216.59 534.52 L225.41 534.52 Z" stroke="#0000ff" stroke-width="1.15" fill="none"/><path d="M221 537.04 L216.59 529.48 L225.41 529.48 Z" stroke="#0000ff" stroke-width="1.15" fill="none"/><path d="M210.75 524.7 L221.25 524.7" stroke="#c9a9cb" stroke-width="1.15" fill="none"/><path d="M216 519.45 L216 529.95" stroke="#c9a9cb" stroke-width="1.15" fill="none"/><path d="M212.75 525.5 L223.25 525.5" stroke="#c9a9cb" stroke-width="1.15" fill="none"/><path d="M218 520.25 L218 530.75" stroke="#c9a9cb" stroke-width="1.15" fill="none"/><rect x="224.12" y="522.32" width="7.56" height="7.56" stroke="#c9a9cb" stroke-width="1.15" fill="none"/><path d="M227.9 522.32 L224.12 529.88 L231.68 529.88 Z" stroke="#c9a9cb" stroke-width="1.15" fill="none"/><rect x="225.22" y="521.22" width="7.56" height="7.56" stroke="#c9a9cb" stroke-width="1.15" fill="none"/><path d="M229 521.22 L225.22 528.78 L232.78 528.78 Z" stroke="#c9a9cb" stroke-width="1.15" fill="none"/><rect x="226.22" y="521.72" width="7.56" height="7.56" stroke="#c9a9cb" stroke-width="1.15" fill="none"/><path d="M230 521.72 L226.22 529.28 L233.78 529.28 Z" stroke="#c9a9cb" stroke-width="1.15" fill="none"/><rect x="227.22" y="523.02" width="7.56" height="7.56" stroke="#c9a9cb" stroke-width="1.15" fill="none"/><path d="M231 523.02 L227.22 530.58 L234.78 530.58 Z" stroke="#c9a9cb" stroke-width="1.15" fill="none"/><rect x="228.72" y="522.82" width="7.56" height="7.56" stroke="#c9a9cb" stroke-width="1.15" fill="none"/><path d="M232.5 522.82 L228.72 530.38 L236.28 530.38 Z" stroke="#c9a9cb" stroke-width="1.15" fill="none"/><rect x="229.72" y="521.42" width="7.56" height="7.56" stroke="#c9a9cb" stroke-width="1.15" fill="none"/><path d="M233.5 521.42 L229.72 528.98 L237.28 528.98 Z" stroke="#c9a9cb" stroke-width="1.15" fill="none"/><rect x="230.72" y="522.52" width="7.56" height="7.56" stroke="#c9a9cb" stroke-width="1.15" fill="none"/><path d="M234.5 522.52 L230.72 530.08 L238.28 530.08 Z" stroke="#c9a9cb" stroke-width="1.15" fill="none"/><rect x="232.32" y="522.82" width="7.56" height="7.56" stroke="#c9a9cb" stroke-width="1.15" fill="none"/><path d="M236.1 522.82 L232.32 530.38 L239.88 530.38 Z" stroke="#c9a9cb" stroke-width="1.15" fill="none"/><rect x="225.22" y="524.22" width="7.56" height="7.56" stroke="#c9a9cb" stroke-width="1.15" fill="none"/><path d="M229 524.22 L225.22 531.78 L232.78 531.78 Z" stroke="#c9a9cb" stroke-width="1.15" fill="none"/><rect x="229.22" y="524.22" width="7.56" height="7.56" stroke="#c9a9cb" stroke-width="1.15" fill="none"/><path d="M233 524.22 L229.22 531.78 L236.78 531.78 Z" stroke="#c9a9cb" stroke-width="1.15" fill="none"/><rect x="231.72" y="524.22" width="7.56" height="7.56" stroke="#c9a9cb" stroke-width="1.15" fill="none"/><path d="M235.5 524.22 L231.72 531.78 L239.28 531.78 Z" stroke="#c9a9cb" stroke-width="1.15" fill="none"/><rect x="223.72" y="524.02" width="7.56" height="7.56" stroke="#c9a9cb" stroke-width="1.15" fill="none"/><path d="M227.5 524.02 L223.72 531.58 L231.28 531.58 Z" stroke="#c9a9cb" stroke-width="1.15" fill="none"/><path d="M245.3 524.26 L240.89 531.82 L249.71 531.82 Z" stroke="#0000ff" stroke-width="1.15" fill="none"/><path d="M245.3 534.34 L240.89 526.78 L249.71 526.78 Z" stroke="#0000ff" stroke-width="1.15" fill="none"/><path d="M249.9 524.76 L245.49 532.32 L254.31 532.32 Z" stroke="#0000ff" stroke-width="1.15" fill="none"/><path d="M249.9 534.84 L245.49 527.28 L254.31 527.28 Z" stroke="#0000ff" stroke-width="1.15" fill="none"/><path d="M255.4 524.26 L250.99 531.82 L259.81 531.82 Z" stroke="#0000ff" stroke-width="1.15" fill="none"/><path d="M255.4 534.34 L250.99 526.78 L259.81 526.78 Z" stroke="#0000ff" stroke-width="1.15" fill="none"/><path d="M260.9 523.86 L256.49 531.42 L265.31 531.42 Z" stroke="#0000ff" stroke-width="1.15" fill="none"/><path d="M260.9 533.94 L256.49 526.38 L265.31 526.38 Z" stroke="#0000ff" stroke-width="1.15" fill="none"/><path d="M248 527.46 L243.59 535.02 L252.41 535.02 Z" stroke="#0000ff" stroke-width="1.15" fill="none"/><path d="M248 537.54 L243.59 529.98 L252.41 529.98 Z" stroke="#0000ff" stroke-width="1.15" fill="none"/><path d="M252 525.96 L247.59 533.52 L256.41 533.52 Z" stroke="#0000ff" stroke-width="1.15" fill="none"/><path d="M252 536.04 L247.59 528.48 L256.41 528.48 Z" stroke="#0000ff" stroke-width="1.15" fill="none"/><path d="M258 525.46 L253.59 533.02 L262.41 533.02 Z" stroke="#0000ff" stroke-width="1.15" fill="none"/><path d="M258 535.54 L253.59 527.98 L262.41 527.98 Z" stroke="#0000ff" stroke-width="1.15" fill="none"/><path d="M262 524.96 L257.59 532.52 L266.41 532.52 Z" stroke="#0000ff" stroke-width="1.15" fill="none"/><path d="M262 535.04 L257.59 527.48 L266.41 527.48 Z" stroke="#0000ff" stroke-width="1.15" fill="none"/><path d="M275.8 538.05 L281.05 543.3 L275.8 548.55 L270.55 543.3 Z" stroke="#cccc00" stroke-width="1.15" fill="none"/><path d="M278.3 541.45 L283.55 546.7 L278.3 551.95 L273.05 546.7 Z" stroke="#cccc00" stroke-width="1.15" fill="none"/><path d="M289.2 541.45 L294.45 546.7 L289.2 551.95 L283.95 546.7 Z" stroke="#cccc00" stroke-width="1.15" fill="none"/><path d="M290.8 543.05 L296.05 548.3 L290.8 553.55 L285.55 548.3 Z" stroke="#cccc00" stroke-width="1.15" fill="none"/><path d="M264.16 555 L274.24 555" stroke="#cccc00" stroke-width="1.15" fill="none"/><path d="M269.2 549.96 L269.2 560.04" stroke="#cccc00" stroke-width="1.15" fill="none"/><path d="M265.63 551.43 L272.77 558.57" stroke="#cccc00" stroke-width="1.15" fill="none"/><path d="M265.63 558.57 L272.77 551.43" stroke="#cccc00" stroke-width="1.15" fill="none"/><path d="M290.76 558.3 L300.84 558.3" stroke="#cccc00" stroke-width="1.15" fill="none"/><path d="M295.8 553.26 L295.8 563.34" stroke="#cccc00" stroke-width="1.15" fill="none"/><path d="M292.23 554.73 L299.37 561.87" stroke="#cccc00" stroke-width="1.15" fill="none"/><path d="M292.23 561.87 L299.37 554.73" stroke="#cccc00" stroke-width="1.15" fill="none"/><path d="M294.16 560 L304.24 560" stroke="#cccc00" stroke-width="1.15" fill="none"/><path d="M299.2 554.96 L299.2 565.04" stroke="#cccc00" stroke-width="1.15" fill="none"/><path d="M295.63 556.43 L302.77 563.57" stroke="#cccc00" stroke-width="1.15" fill="none"/><path d="M295.63 563.57 L302.77 556.43" stroke="#cccc00" stroke-width="1.15" fill="none"/><path d="M298.26 557.5 L308.34 557.5" stroke="#cccc00" stroke-width="1.15" fill="none"/><path d="M303.3 552.46 L303.3 562.54" stroke="#cccc00" stroke-width="1.15" fill="none"/><path d="M299.73 553.93 L306.87 561.07" stroke="#cccc00" stroke-width="1.15" fill="none"/><path d="M299.73 561.07 L306.87 553.93" stroke="#cccc00" stroke-width="1.15" fill="none"/><path d="M294.96 563.3 L305.04 563.3" stroke="#cccc00" stroke-width="1.15" fill="none"/><path d="M300 558.26 L300 568.34" stroke="#cccc00" stroke-width="1.15" fill="none"/><path d="M296.43 559.73 L303.57 566.87" stroke="#cccc00" stroke-width="1.15" fill="none"/><path d="M296.43 566.87 L303.57 559.73" stroke="#cccc00" stroke-width="1.15" fill="none"/><path d="M291.96 561 L302.04 561" stroke="#cccc00" stroke-width="1.15" fill="none"/><path d="M297 555.96 L297 566.04" stroke="#cccc00" stroke-width="1.15" fill="none"/><path d="M293.43 557.43 L300.57 564.57" stroke="#cccc00" stroke-width="1.15" fill="none"/><path d="M293.43 564.57 L300.57 557.43" stroke="#cccc00" stroke-width="1.15" fill="none"/><path d="M296.96 559 L307.04 559" stroke="#cccc00" stroke-width="1.15" fill="none"/><path d="M302 553.96 L302 564.04" stroke="#cccc00" stroke-width="1.15" fill="none"/><path d="M298.43 555.43 L305.57 562.57" stroke="#cccc00" stroke-width="1.15" fill="none"/><path d="M298.43 562.57 L305.57 555.43" stroke="#cccc00" stroke-width="1.15" fill="none"/><path d="M333.26 560.8 L343.34 560.8" stroke="#cccc00" stroke-width="1.15" fill="none"/><path d="M338.3 555.76 L338.3 565.84" stroke="#cccc00" stroke-width="1.15" fill="none"/><path d="M334.73 557.23 L341.87 564.37" stroke="#cccc00" stroke-width="1.15" fill="none"/><path d="M334.73 564.37 L341.87 557.23" stroke="#cccc00" stroke-width="1.15" fill="none"/><path d="M349.16 560 L359.24 560" stroke="#cccc00" stroke-width="1.15" fill="none"/><path d="M354.2 554.96 L354.2 565.04" stroke="#cccc00" stroke-width="1.15" fill="none"/><path d="M350.63 556.43 L357.77 563.57" stroke="#cccc00" stroke-width="1.15" fill="none"/><path d="M350.63 563.57 L357.77 556.43" stroke="#cccc00" stroke-width="1.15" fill="none"/><path d="M322.92 535.42 L330.48 542.98" stroke="#cccc00" stroke-width="1.15" fill="none"/><path d="M322.92 542.98 L330.48 535.42" stroke="#cccc00" stroke-width="1.15" fill="none"/><path d="M334.52 534.52 L342.08 542.08" stroke="#cccc00" stroke-width="1.15" fill="none"/><path d="M334.52 542.08 L342.08 534.52" stroke="#cccc00" stroke-width="1.15" fill="none"/><path d="M337.92 536.22 L345.48 543.78" stroke="#cccc00" stroke-width="1.15" fill="none"/><path d="M337.92 543.78 L345.48 536.22" stroke="#cccc00" stroke-width="1.15" fill="none"/><path d="M342.02 535.42 L349.58 542.98" stroke="#cccc00" stroke-width="1.15" fill="none"/><path d="M342.02 542.98 L349.58 535.42" stroke="#cccc00" stroke-width="1.15" fill="none"/><path d="M336.22 535.72 L343.78 543.28" stroke="#cccc00" stroke-width="1.15" fill="none"/><path d="M336.22 543.28 L343.78 535.72" stroke="#cccc00" stroke-width="1.15" fill="none"/><path d="M361 534.05 L366.25 539.3 L361 544.55 L355.75 539.3 Z" stroke="#ff9a00" stroke-width="1.15" fill="none"/><path d="M355.75 539.3 L366.25 539.3" stroke="#ff9a00" stroke-width="1.15" fill="none"/><path d="M361 534.05 L361 544.55" stroke="#ff9a00" stroke-width="1.15" fill="none"/><path d="M366.3 534.05 L371.55 539.3 L366.3 544.55 L361.05 539.3 Z" stroke="#ff9a00" stroke-width="1.15" fill="none"/><path d="M361.05 539.3 L371.55 539.3" stroke="#ff9a00" stroke-width="1.15" fill="none"/><path d="M366.3 534.05 L366.3 544.55" stroke="#ff9a00" stroke-width="1.15" fill="none"/><path d="M364 538.55 L369.25 543.8 L364 549.05 L358.75 543.8 Z" stroke="#ff9a00" stroke-width="1.15" fill="none"/><path d="M358.75 543.8 L369.25 543.8" stroke="#ff9a00" stroke-width="1.15" fill="none"/><path d="M364 538.55 L364 549.05" stroke="#ff9a00" stroke-width="1.15" fill="none"/><path d="M377.5 538.55 L382.75 543.8 L377.5 549.05 L372.25 543.8 Z" stroke="#ff9a00" stroke-width="1.15" fill="none"/><path d="M372.25 543.8 L382.75 543.8" stroke="#ff9a00" stroke-width="1.15" fill="none"/><path d="M377.5 538.55 L377.5 549.05" stroke="#ff9a00" stroke-width="1.15" fill="none"/><path d="M382 541.55 L387.25 546.8 L382 552.05 L376.75 546.8 Z" stroke="#ff9a00" stroke-width="1.15" fill="none"/><path d="M376.75 546.8 L387.25 546.8" stroke="#ff9a00" stroke-width="1.15" fill="none"/><path d="M382 541.55 L382 552.05" stroke="#ff9a00" stroke-width="1.15" fill="none"/><path d="M386.5 539.25 L391.75 544.5 L386.5 549.75 L381.25 544.5 Z" stroke="#ff9a00" stroke-width="1.15" fill="none"/><path d="M381.25 544.5 L391.75 544.5" stroke="#ff9a00" stroke-width="1.15" fill="none"/><path d="M386.5 539.25 L386.5 549.75" stroke="#ff9a00" stroke-width="1.15" fill="none"/><path d="M399.6 536.65 L404.85 541.9 L399.6 547.15 L394.35 541.9 Z" stroke="#ff9a00" stroke-width="1.15" fill="none"/><path d="M394.35 541.9 L404.85 541.9" stroke="#ff9a00" stroke-width="1.15" fill="none"/><path d="M399.6 536.65 L399.6 547.15" stroke="#ff9a00" stroke-width="1.15" fill="none"/><path d="M380 539.75 L385.25 545 L380 550.25 L374.75 545 Z" stroke="#ff9a00" stroke-width="1.15" fill="none"/><path d="M374.75 545 L385.25 545" stroke="#ff9a00" stroke-width="1.15" fill="none"/><path d="M380 539.75 L380 550.25" stroke="#ff9a00" stroke-width="1.15" fill="none"/><path d="M384 537.75 L389.25 543 L384 548.25 L378.75 543 Z" stroke="#ff9a00" stroke-width="1.15" fill="none"/><path d="M378.75 543 L389.25 543" stroke="#ff9a00" stroke-width="1.15" fill="none"/><path d="M384 537.75 L384 548.25" stroke="#ff9a00" stroke-width="1.15" fill="none"/><path d="M360 537.75 L365.25 543 L360 548.25 L354.75 543 Z" stroke="#ff9a00" stroke-width="1.15" fill="none"/><path d="M354.75 543 L365.25 543" stroke="#ff9a00" stroke-width="1.15" fill="none"/><path d="M360 537.75 L360 548.25" stroke="#ff9a00" stroke-width="1.15" fill="none"/><rect x="358.02" y="545.22" width="7.56" height="7.56" stroke="#ff0000" stroke-width="1.15" fill="none"/><path d="M358.02 545.22 L365.58 552.78" stroke="#ff0000" stroke-width="1.15" fill="none"/><path d="M358.02 552.78 L365.58 545.22" stroke="#ff0000" stroke-width="1.15" fill="none"/><rect x="370.02" y="546.72" width="7.56" height="7.56" stroke="#ff0000" stroke-width="1.15" fill="none"/><path d="M370.02 546.72 L377.58 554.28" stroke="#ff0000" stroke-width="1.15" fill="none"/><path d="M370.02 554.28 L377.58 546.72" stroke="#ff0000" stroke-width="1.15" fill="none"/><rect x="364.02" y="556.12" width="7.56" height="7.56" stroke="#ff0000" stroke-width="1.15" fill="none"/><path d="M364.02 556.12 L371.58 563.68" stroke="#ff0000" stroke-width="1.15" fill="none"/><path d="M364.02 563.68 L371.58 556.12" stroke="#ff0000" stroke-width="1.15" fill="none"/><rect x="376.72" y="531.72" width="7.56" height="7.56" stroke="#ff0000" stroke-width="1.15" fill="none"/><path d="M376.72 531.72 L384.28 539.28" stroke="#ff0000" stroke-width="1.15" fill="none"/><path d="M376.72 539.28 L384.28 531.72" stroke="#ff0000" stroke-width="1.15" fill="none"/><rect x="368.22" y="531.22" width="7.56" height="7.56" stroke="#ff0000" stroke-width="1.15" fill="none"/><rect x="369.72" y="532.72" width="7.56" height="7.56" stroke="#ff0000" stroke-width="1.15" fill="none"/><rect x="371.22" y="531.72" width="7.56" height="7.56" stroke="#ff0000" stroke-width="1.15" fill="none"/><rect x="372.72" y="532.52" width="7.56" height="7.56" stroke="#ff0000" stroke-width="1.15" fill="none"/><rect x="374.22" y="531.72" width="7.56" height="7.56" stroke="#ff0000" stroke-width="1.15" fill="none"/><rect x="385.22" y="531.22" width="7.56" height="7.56" stroke="#ff0000" stroke-width="1.15" fill="none"/><rect x="386.72" y="532.52" width="7.56" height="7.56" stroke="#ff0000" stroke-width="1.15" fill="none"/><rect x="388.22" y="531.72" width="7.56" height="7.56" stroke="#ff0000" stroke-width="1.15" fill="none"/><rect x="389.72" y="532.72" width="7.56" height="7.56" stroke="#ff0000" stroke-width="1.15" fill="none"/><rect x="391.22" y="531.52" width="7.56" height="7.56" stroke="#ff0000" stroke-width="1.15" fill="none"/><rect x="392.72" y="532.22" width="7.56" height="7.56" stroke="#ff0000" stroke-width="1.15" fill="none"/><circle cx="374" cy="537" r="4.2" stroke="#ff0000" stroke-width="1.15" fill="none"/><circle cx="391" cy="537.2" r="4.2" stroke="#ff0000" stroke-width="1.15" fill="none"/><circle cx="394.5" cy="534.8" r="4.2" stroke="#ff0000" stroke-width="1.15" fill="none"/><rect x="409.26" y="530.08" width="7.56" height="7.56" stroke="#ff0000" stroke-width="1.15" fill="none"/><path d="M405.25 532.07 L410.5 537.32 L405.25 542.57 L400 537.32 Z" stroke="#ff0000" stroke-width="1.15" fill="none"/><path d="M415.82 540.69 L426.32 540.69" stroke="#ff0000" stroke-width="1.15" fill="none"/><path d="M421.07 535.44 L421.07 545.94" stroke="#ff0000" stroke-width="1.15" fill="none"/><circle cx="404.16" cy="536.4" r="4.2" stroke="#ff0000" stroke-width="1.15" fill="none"/><rect x="406.68" y="533.68" width="7.56" height="7.56" stroke="#ff0000" stroke-width="1.15" fill="none"/><path d="M423.38 533.61 L433.88 533.61" stroke="#ff0000" stroke-width="1.15" fill="none"/><path d="M428.63 528.36 L428.63 538.86" stroke="#ff0000" stroke-width="1.15" fill="none"/><rect x="418.77" y="533.97" width="7.56" height="7.56" stroke="#ff0000" stroke-width="1.15" fill="none"/><path d="M415.64 536.07 L426.14 536.07" stroke="#ff0000" stroke-width="1.15" fill="none"/><path d="M420.89 530.82 L420.89 541.32" stroke="#ff0000" stroke-width="1.15" fill="none"/><path d="M400.66 536.45 L408.22 544.01" stroke="#ff0000" stroke-width="1.15" fill="none"/><path d="M400.66 544.01 L408.22 536.45" stroke="#ff0000" stroke-width="1.15" fill="none"/><circle cx="415.99" cy="537.37" r="4.2" stroke="#ff0000" stroke-width="1.15" fill="none"/><path d="M411.79 537.37 L420.19 537.37" stroke="#ff0000" stroke-width="1.15" fill="none"/><path d="M415.99 533.17 L415.99 541.57" stroke="#ff0000" stroke-width="1.15" fill="none"/><path d="M412.56 535.02 L408.15 542.79 L416.97 542.79 Z" stroke="#ff0000" stroke-width="1.15" fill="none"/><path d="M400.94 537.64 L411.44 537.64" stroke="#ff0000" stroke-width="1.15" fill="none"/><path d="M406.19 532.39 L406.19 542.89" stroke="#ff0000" stroke-width="1.15" fill="none"/><circle cx="414.54" cy="537.43" r="4.2" stroke="#ff0000" stroke-width="1.15" fill="none"/><path d="M415.46 538.07 L425.54 538.07" stroke="#ff0000" stroke-width="1.15" fill="none"/><path d="M420.5 533.03 L420.5 543.11" stroke="#ff0000" stroke-width="1.15" fill="none"/><path d="M416.93 534.5 L424.07 541.64" stroke="#ff0000" stroke-width="1.15" fill="none"/><path d="M416.93 541.64 L424.07 534.5" stroke="#ff0000" stroke-width="1.15" fill="none"/><path d="M424.09 531.1 L429.34 536.35 L424.09 541.6 L418.84 536.35 Z" stroke="#ff0000" stroke-width="1.15" fill="none"/><path d="M417.43 535.56 L422.68 540.81 L417.43 546.06 L412.18 540.81 Z" stroke="#ff0000" stroke-width="1.15" fill="none"/><path d="M407.04 539.65 L417.54 539.65" stroke="#ff0000" stroke-width="1.15" fill="none"/><path d="M412.29 534.4 L412.29 544.9" stroke="#ff0000" stroke-width="1.15" fill="none"/><path d="M400.5 535.2 L410.58 535.2" stroke="#ff0000" stroke-width="1.15" fill="none"/><path d="M405.54 530.16 L405.54 540.24" stroke="#ff0000" stroke-width="1.15" fill="none"/><path d="M401.97 531.63 L409.11 538.77" stroke="#ff0000" stroke-width="1.15" fill="none"/><path d="M401.97 538.77 L409.11 531.63" stroke="#ff0000" stroke-width="1.15" fill="none"/><path d="M426.35 535.29 L433.91 542.85" stroke="#ff0000" stroke-width="1.15" fill="none"/><path d="M426.35 542.85 L433.91 535.29" stroke="#ff0000" stroke-width="1.15" fill="none"/><path d="M421.88 527.91 L427.13 533.16 L421.88 538.41 L416.63 533.16 Z" stroke="#ff0000" stroke-width="1.15" fill="none"/><path d="M416.63 533.16 L427.13 533.16" stroke="#ff0000" stroke-width="1.15" fill="none"/><path d="M421.88 527.91 L421.88 538.41" stroke="#ff0000" stroke-width="1.15" fill="none"/><path d="M415.96 534.48 L411.55 542.25 L420.37 542.25 Z" stroke="#ff0000" stroke-width="1.15" fill="none"/><circle cx="431.93" cy="536.3" r="4.2" stroke="#ff0000" stroke-width="1.15" fill="none"/><path d="M426.7 532.41 L431.95 537.66 L426.7 542.91 L421.45 537.66 Z" stroke="#ff0000" stroke-width="1.15" fill="none"/><path d="M408.5 535.65 L418.58 535.65" stroke="#ff0000" stroke-width="1.15" fill="none"/><path d="M413.54 530.61 L413.54 540.69" stroke="#ff0000" stroke-width="1.15" fill="none"/><path d="M409.97 532.08 L417.11 539.22" stroke="#ff0000" stroke-width="1.15" fill="none"/><path d="M409.97 539.22 L417.11 532.08" stroke="#ff0000" stroke-width="1.15" fill="none"/><circle cx="420.98" cy="536.61" r="4.2" stroke="#ff0000" stroke-width="1.15" fill="none"/><circle cx="432.29" cy="536.77" r="4.2" stroke="#ff0000" stroke-width="1.15" fill="none"/><circle cx="404.88" cy="538.81" r="4.2" stroke="#ff0000" stroke-width="1.15" fill="none"/><path d="M400.68 538.81 L409.08 538.81" stroke="#ff0000" stroke-width="1.15" fill="none"/><path d="M404.88 534.61 L404.88 543.01" stroke="#ff0000" stroke-width="1.15" fill="none"/><path d="M430.01 536.12 L437.57 543.68" stroke="#ff0000" stroke-width="1.15" fill="none"/><path d="M430.01 543.68 L437.57 536.12" stroke="#ff0000" stroke-width="1.15" fill="none"/><path d="M425.22 535.23 L430.47 540.48 L425.22 545.73 L419.97 540.48 Z" stroke="#ff0000" stroke-width="1.15" fill="none"/><path d="M403.7 531.83 L399.29 539.6 L408.11 539.6 Z" stroke="#ff0000" stroke-width="1.15" fill="none"/><path d="M416.69 536.94 L427.19 536.94" stroke="#ff0000" stroke-width="1.15" fill="none"/><path d="M421.94 531.69 L421.94 542.19" stroke="#ff0000" stroke-width="1.15" fill="none"/><path d="M421.57 533.66 L432.07 533.66" stroke="#ff0000" stroke-width="1.15" fill="none"/><path d="M426.82 528.41 L426.82 538.91" stroke="#ff0000" stroke-width="1.15" fill="none"/><path d="M410.29 540.75 L420.37 540.75" stroke="#ff0000" stroke-width="1.15" fill="none"/><path d="M415.33 535.71 L415.33 545.79" stroke="#ff0000" stroke-width="1.15" fill="none"/><path d="M411.76 537.18 L418.9 544.32" stroke="#ff0000" stroke-width="1.15" fill="none"/><path d="M411.76 544.32 L418.9 537.18" stroke="#ff0000" stroke-width="1.15" fill="none"/><path d="M405.5 531.29 L410.75 536.54 L405.5 541.79 L400.25 536.54 Z" stroke="#ff0000" stroke-width="1.15" fill="none"/><path d="M400.25 536.54 L410.75 536.54" stroke="#ff0000" stroke-width="1.15" fill="none"/><path d="M405.5 531.29 L405.5 541.79" stroke="#ff0000" stroke-width="1.15" fill="none"/><path d="M411.61 538.56 L407.2 530.79 L416.02 530.79 Z" stroke="#ff0000" stroke-width="1.15" fill="none"/><path d="M429.78 539.84 L425.37 532.07 L434.19 532.07 Z" stroke="#ff0000" stroke-width="1.15" fill="none"/><path d="M433.58 543.47 L429.17 535.7 L437.99 535.7 Z" stroke="#ff0000" stroke-width="1.15" fill="none"/><path d="M432.69 529.03 L428.28 536.8 L437.1 536.8 Z" stroke="#ff0000" stroke-width="1.15" fill="none"/><rect x="403.91" y="534.65" width="7.56" height="7.56" stroke="#ff0000" stroke-width="1.15" fill="none"/><path d="M414.25 534.02 L421.81 541.58" stroke="#ff0000" stroke-width="1.15" fill="none"/><path d="M414.25 541.58 L421.81 534.02" stroke="#ff0000" stroke-width="1.15" fill="none"/><path d="M411.74 528.56 L416.99 533.81 L411.74 539.06 L406.49 533.81 Z" stroke="#ff0000" stroke-width="1.15" fill="none"/><path d="M406.49 533.81 L416.99 533.81" stroke="#ff0000" stroke-width="1.15" fill="none"/><path d="M411.74 528.56 L411.74 539.06" stroke="#ff0000" stroke-width="1.15" fill="none"/><path d="M414.45 532.77 L410.04 540.54 L418.86 540.54 Z" stroke="#ff0000" stroke-width="1.15" fill="none"/><circle cx="424.41" cy="537.14" r="4.2" stroke="#ff0000" stroke-width="1.15" fill="none"/><path d="M420.21 537.14 L428.61 537.14" stroke="#ff0000" stroke-width="1.15" fill="none"/><path d="M424.41 532.94 L424.41 541.34" stroke="#ff0000" stroke-width="1.15" fill="none"/><path d="M418.26 539.16 L428.34 539.16" stroke="#ff0000" stroke-width="1.15" fill="none"/><path d="M423.3 534.12 L423.3 544.2" stroke="#ff0000" stroke-width="1.15" fill="none"/><path d="M419.73 535.59 L426.87 542.73" stroke="#ff0000" stroke-width="1.15" fill="none"/><path d="M419.73 542.73 L426.87 535.59" stroke="#ff0000" stroke-width="1.15" fill="none"/><path d="M430.89 534.27 L436.14 539.52 L430.89 544.77 L425.64 539.52 Z" stroke="#ff0000" stroke-width="1.15" fill="none"/><path d="M425.64 539.52 L436.14 539.52" stroke="#ff0000" stroke-width="1.15" fill="none"/><path d="M430.89 534.27 L430.89 544.77" stroke="#ff0000" stroke-width="1.15" fill="none"/><circle cx="415.16" cy="536.09" r="4.2" stroke="#ff0000" stroke-width="1.15" fill="none"/><path d="M412.68 536.1 L423.18 536.1" stroke="#ff0000" stroke-width="1.15" fill="none"/><path d="M417.93 530.85 L417.93 541.35" stroke="#ff0000" stroke-width="1.15" fill="none"/><path d="M405.09 529.55 L400.68 537.32 L409.5 537.32 Z" stroke="#ff0000" stroke-width="1.15" fill="none"/><circle cx="406.41" cy="537.91" r="4.2" stroke="#ff0000" stroke-width="1.15" fill="none"/><circle cx="403.01" cy="533.86" r="4.2" stroke="#ff0000" stroke-width="1.15" fill="none"/><circle cx="432.42" cy="538.02" r="4.2" stroke="#ff0000" stroke-width="1.15" fill="none"/><path d="M430.1 533.2 L425.69 540.97 L434.51 540.97 Z" stroke="#ff0000" stroke-width="1.15" fill="none"/><circle cx="422.67" cy="541.1" r="4.2" stroke="#ff0000" stroke-width="1.15" fill="none"/><path d="M418.47 541.1 L426.87 541.1" stroke="#ff0000" stroke-width="1.15" fill="none"/><path d="M422.67 536.9 L422.67 545.3" stroke="#ff0000" stroke-width="1.15" fill="none"/><path d="M409.25 533.61 L419.33 533.61" stroke="#ff0000" stroke-width="1.15" fill="none"/><path d="M414.29 528.57 L414.29 538.65" stroke="#ff0000" stroke-width="1.15" fill="none"/><path d="M410.72 530.04 L417.86 537.18" stroke="#ff0000" stroke-width="1.15" fill="none"/><path d="M410.72 537.18 L417.86 530.04" stroke="#ff0000" stroke-width="1.15" fill="none"/><path d="M428.75 536.69 L438.83 536.69" stroke="#ff0000" stroke-width="1.15" fill="none"/><path d="M433.79 531.65 L433.79 541.73" stroke="#ff0000" stroke-width="1.15" fill="none"/><path d="M430.22 533.12 L437.36 540.26" stroke="#ff0000" stroke-width="1.15" fill="none"/><path d="M430.22 540.26 L437.36 533.12" stroke="#ff0000" stroke-width="1.15" fill="none"/><path d="M412.67 528.55 L417.92 533.8 L412.67 539.05 L407.42 533.8 Z" stroke="#ff0000" stroke-width="1.15" fill="none"/><path d="M425.95 531.98 L421.54 539.75 L430.36 539.75 Z" stroke="#ff0000" stroke-width="1.15" fill="none"/><path d="M419.01 529.1 L424.26 534.35 L419.01 539.6 L413.76 534.35 Z" stroke="#ff0000" stroke-width="1.15" fill="none"/><path d="M413.76 534.35 L424.26 534.35" stroke="#ff0000" stroke-width="1.15" fill="none"/><path d="M419.01 529.1 L419.01 539.6" stroke="#ff0000" stroke-width="1.15" fill="none"/><rect x="410.43" y="534.93" width="7.56" height="7.56" stroke="#ff0000" stroke-width="1.15" fill="none"/><circle cx="426.5" cy="535.18" r="4.2" stroke="#ff0000" stroke-width="1.15" fill="none"/><path d="M398.75 534 L409.25 534" stroke="#ff0000" stroke-width="1.15" fill="none"/><path d="M404 528.75 L404 539.25" stroke="#ff0000" stroke-width="1.15" fill="none"/><path d="M401.75 533 L412.25 533" stroke="#ff0000" stroke-width="1.15" fill="none"/><path d="M407 527.75 L407 538.25" stroke="#ff0000" stroke-width="1.15" fill="none"/><path d="M406.75 533 L417.25 533" stroke="#ff0000" stroke-width="1.15" fill="none"/><path d="M412 527.75 L412 538.25" stroke="#ff0000" stroke-width="1.15" fill="none"/><path d="M189.9 659.67 L185.49 667.44 L194.31 667.44 Z" stroke="#0000ff" stroke-width="1.15" fill="none"/><path d="M187.93 663.18 L183.52 670.95 L192.34 670.95 Z" stroke="#0000ff" stroke-width="1.15" fill="none"/><path d="M184.98 668.45 L180.57 676.22 L189.39 676.22 Z" stroke="#0000ff" stroke-width="1.15" fill="none"/><path d="M182.52 672.84 L178.11 680.61 L186.93 680.61 Z" stroke="#0000ff" stroke-width="1.15" fill="none"/><path d="M179.57 678.11 L175.16 685.88 L183.98 685.88 Z" stroke="#0000ff" stroke-width="1.15" fill="none"/><path d="M177.11 682.5 L172.7 690.27 L181.52 690.27 Z" stroke="#0000ff" stroke-width="1.15" fill="none"/><path d="M174.65 686.89 L170.24 694.66 L179.06 694.66 Z" stroke="#0000ff" stroke-width="1.15" fill="none"/><path d="M172.68 690.4 L168.27 698.17 L177.09 698.17 Z" stroke="#0000ff" stroke-width="1.15" fill="none"/><path d="M170.96 693.47 L166.55 701.24 L175.37 701.24 Z" stroke="#0000ff" stroke-width="1.15" fill="none"/><path d="M169.48 696.11 L165.07 703.88 L173.89 703.88 Z" stroke="#0000ff" stroke-width="1.15" fill="none"/><path d="M168.25 698.3 L163.84 706.07 L172.66 706.07 Z" stroke="#0000ff" stroke-width="1.15" fill="none"/><path d="M167.27 700.06 L162.86 707.83 L171.68 707.83 Z" stroke="#0000ff" stroke-width="1.15" fill="none"/><path d="M166.28 701.81 L161.87 709.58 L170.69 709.58 Z" stroke="#0000ff" stroke-width="1.15" fill="none"/><path d="M165.3 703.57 L160.89 711.34 L169.71 711.34 Z" stroke="#0000ff" stroke-width="1.15" fill="none"/><rect x="215.8" y="626.5" width="231.6" height="88.1" fill="#fff" stroke="#000" stroke-width="1.5"/><rect x="219.99" y="635.39" width="7.02" height="7.02" stroke="#ff0000" stroke-width="1.15" fill="none"/><text x="231.8" y="642.5" font-size="9.8" stroke="#000" stroke-width="0.2">SXW</text><circle cx="223.5" cy="654.7" r="3.9" stroke="#ff0000" stroke-width="1.15" fill="none"/><text x="231.8" y="658.3" font-size="9.8" stroke="#000" stroke-width="0.2">SSS</text><path d="M223.5 666.12 L219.41 673.33 L227.59 673.33 Z" stroke="#ff0000" stroke-width="1.15" fill="none"/><text x="231.8" y="674.2" font-size="9.8" stroke="#000" stroke-width="0.2">HDW</text><path d="M218.62 686.5 L228.38 686.5" stroke="#ff0000" stroke-width="1.15" fill="none"/><path d="M223.5 681.62 L223.5 691.38" stroke="#ff0000" stroke-width="1.15" fill="none"/><text x="231.8" y="690.1" font-size="9.8" stroke="#000" stroke-width="0.2">HUS</text><path d="M219.99 698.89 L227.01 705.91" stroke="#ff0000" stroke-width="1.15" fill="none"/><path d="M219.99 705.91 L227.01 698.89" stroke="#ff0000" stroke-width="1.15" fill="none"/><text x="231.8" y="706" font-size="9.8" stroke="#000" stroke-width="0.2">TAN</text><path d="M264.4 634.02 L269.27 638.9 L264.4 643.77 L259.52 638.9 Z" stroke="#ff0000" stroke-width="1.15" fill="none"/><text x="273" y="642.5" font-size="9.8" stroke="#000" stroke-width="0.2">WDS</text><path d="M264.4 659.19 L260.3 651.97 L268.5 651.97 Z" stroke="#ff0000" stroke-width="1.15" fill="none"/><text x="273" y="658.3" font-size="9.8" stroke="#000" stroke-width="0.2">ALS</text><rect x="260.89" y="667.09" width="7.02" height="7.02" stroke="#ff0000" stroke-width="1.15" fill="none"/><path d="M260.89 667.09 L267.91 674.11" stroke="#ff0000" stroke-width="1.15" fill="none"/><path d="M260.89 674.11 L267.91 667.09" stroke="#ff0000" stroke-width="1.15" fill="none"/><text x="273" y="674.2" font-size="9.8" stroke="#000" stroke-width="0.2">BSB</text><path d="M259.72 686.5 L269.08 686.5" stroke="#ff0000" stroke-width="1.15" fill="none"/><path d="M264.4 681.82 L264.4 691.18" stroke="#ff0000" stroke-width="1.15" fill="none"/><path d="M261.08 683.18 L267.71 689.82" stroke="#ff0000" stroke-width="1.15" fill="none"/><path d="M261.08 689.82 L267.71 683.18" stroke="#ff0000" stroke-width="1.15" fill="none"/><text x="273" y="690.1" font-size="9.8" stroke="#000" stroke-width="0.2">CLS</text><path d="M264.4 697.52 L269.27 702.4 L264.4 707.27 L259.52 702.4 Z" stroke="#ff0000" stroke-width="1.15" fill="none"/><path d="M259.52 702.4 L269.27 702.4" stroke="#ff0000" stroke-width="1.15" fill="none"/><path d="M264.4 697.52 L264.4 707.27" stroke="#ff0000" stroke-width="1.15" fill="none"/><text x="273" y="706" font-size="9.8" stroke="#000" stroke-width="0.2">DLS</text><circle cx="304.8" cy="638.9" r="3.9" stroke="#ff0000" stroke-width="1.15" fill="none"/><path d="M300.9 638.9 L308.7 638.9" stroke="#ff0000" stroke-width="1.15" fill="none"/><path d="M304.8 635 L304.8 642.8" stroke="#ff0000" stroke-width="1.15" fill="none"/><text x="312.6" y="642.5" font-size="9.8" stroke="#000" stroke-width="0.2">WGR</text><path d="M304.8 650.02 L300.7 657.04 L308.9 657.04 Z" stroke="#0000ff" stroke-width="1.15" fill="none"/><path d="M304.8 659.38 L300.7 652.36 L308.9 652.36 Z" stroke="#0000ff" stroke-width="1.15" fill="none"/><text x="312.6" y="658.3" font-size="9.8" stroke="#000" stroke-width="0.2">EFR</text><rect x="301.29" y="667.09" width="7.02" height="7.02" stroke="#a035f0" stroke-width="1.15" fill="none"/><path d="M301.29 670.6 L308.31 670.6" stroke="#a035f0" stroke-width="1.15" fill="none"/><path d="M304.8 667.09 L304.8 674.11" stroke="#a035f0" stroke-width="1.15" fill="none"/><text x="312.6" y="674.2" font-size="9.8" stroke="#000" stroke-width="0.2">GOT</text><circle cx="304.8" cy="686.5" r="3.9" stroke="#00e000" stroke-width="1.15" fill="none"/><path d="M302.07 683.77 L307.53 689.23" stroke="#00e000" stroke-width="1.15" fill="none"/><path d="M302.07 689.23 L307.53 683.77" stroke="#00e000" stroke-width="1.15" fill="none"/><text x="312.6" y="690.1" font-size="9.8" stroke="#000" stroke-width="0.2">SFK</text><rect x="301.29" y="698.89" width="7.02" height="7.02" stroke="#c9a9cb" stroke-width="1.15" fill="none"/><path d="M304.8 698.89 L301.29 705.91 L308.31 705.91 Z" stroke="#c9a9cb" stroke-width="1.15" fill="none"/><text x="312.6" y="706" font-size="9.8" stroke="#000" stroke-width="0.2">FIN</text><rect x="339.89" y="635.39" width="7.02" height="7.02" stroke="#c9a9cb" stroke-width="1.15" fill="none"/><text x="352" y="642.5" font-size="9.8" stroke="#000" stroke-width="0.2">OUE</text><circle cx="343.4" cy="654.7" r="3.9" stroke="#c9a9cb" stroke-width="1.15" fill="none"/><text x="352" y="658.3" font-size="9.8" stroke="#000" stroke-width="0.2">SHE</text><path d="M343.4 666.12 L339.3 673.33 L347.5 673.33 Z" stroke="#c9a9cb" stroke-width="1.15" fill="none"/><text x="352" y="674.2" font-size="9.8" stroke="#000" stroke-width="0.2">SOL</text><path d="M338.52 686.5 L348.27 686.5" stroke="#c9a9cb" stroke-width="1.15" fill="none"/><path d="M343.4 681.62 L343.4 691.38" stroke="#c9a9cb" stroke-width="1.15" fill="none"/><text x="352" y="690.1" font-size="9.8" stroke="#000" stroke-width="0.2">DRS</text><path d="M339.89 698.89 L346.91 705.91" stroke="#cccc00" stroke-width="1.15" fill="none"/><path d="M339.89 705.91 L346.91 698.89" stroke="#cccc00" stroke-width="1.15" fill="none"/><text x="352" y="706" font-size="9.8" stroke="#000" stroke-width="0.2">WDP</text><path d="M382.6 630.52 L387.48 635.4 L382.6 640.27 L377.73 635.4 Z" stroke="#cccc00" stroke-width="1.15" fill="none"/><text x="391.9" y="639" font-size="9.8" stroke="#000" stroke-width="0.2">BDP</text><path d="M382.6 653.99 L378.5 646.77 L386.7 646.77 Z" stroke="#b2345f" stroke-width="1.15" fill="none"/><text x="391.9" y="653.1" font-size="9.8" stroke="#000" stroke-width="0.2">MFW</text><rect x="379.09" y="659.39" width="7.02" height="7.02" stroke="#b2345f" stroke-width="1.15" fill="none"/><path d="M379.09 659.39 L386.11 666.41" stroke="#b2345f" stroke-width="1.15" fill="none"/><path d="M379.09 666.41 L386.11 659.39" stroke="#b2345f" stroke-width="1.15" fill="none"/><text x="391.9" y="666.5" font-size="9.8" stroke="#000" stroke-width="0.2">MSF</text><path d="M382.6 670.51 L378.5 677.73 L386.7 677.73 Z" stroke="#0000ff" stroke-width="1.15" fill="none"/><text x="391.9" y="678.6" font-size="9.8" stroke="#000" stroke-width="0.2">MOU</text><path d="M377.92 687.8 L387.28 687.8" stroke="#cccc00" stroke-width="1.15" fill="none"/><path d="M382.6 683.12 L382.6 692.48" stroke="#cccc00" stroke-width="1.15" fill="none"/><path d="M379.29 684.48 L385.92 691.12" stroke="#cccc00" stroke-width="1.15" fill="none"/><path d="M379.29 691.12 L385.92 684.48" stroke="#cccc00" stroke-width="1.15" fill="none"/><text x="391.9" y="691.4" font-size="9.8" stroke="#000" stroke-width="0.2">Africa</text><path d="M382.6 697.52 L387.48 702.4 L382.6 707.27 L377.73 702.4 Z" stroke="#ff8c1a" stroke-width="1.15" fill="none"/><path d="M377.73 702.4 L387.48 702.4" stroke="#ff8c1a" stroke-width="1.15" fill="none"/><path d="M382.6 697.52 L382.6 707.27" stroke="#ff8c1a" stroke-width="1.15" fill="none"/><text x="391.9" y="701.5" font-size="9.8" stroke="#000" stroke-width="0.2">the</text><text x="391.9" y="710.5" font-size="9.8" stroke="#000" stroke-width="0.2">Middle East</text><text x="0.5" y="469.2" font-size="25" font-weight="bold">c</text><text x="473.5" y="469" font-size="25" font-weight="bold">d</text><line x1="521.7" y1="463.9" x2="521.7" y2="710.8" stroke="#000" stroke-width="1.5"/><line x1="520.9" y1="710.1" x2="778.9" y2="710.1" stroke="#000" stroke-width="1.5"/><line x1="517.6" y1="710.1" x2="521.7" y2="710.1" stroke="#000" stroke-width="1.2"/><text x="512.3" y="714.2" font-size="11.6" text-anchor="end" stroke="#000" stroke-width="0.2">0.0</text><line x1="517.6" y1="653.5" x2="521.7" y2="653.5" stroke="#000" stroke-width="1.2"/><text x="512.3" y="657.6" font-size="11.6" text-anchor="end" stroke="#000" stroke-width="0.2">0.2</text><line x1="517.6" y1="596.9" x2="521.7" y2="596.9" stroke="#000" stroke-width="1.2"/><text x="512.3" y="601" font-size="11.6" text-anchor="end" stroke="#000" stroke-width="0.2">0.4</text><line x1="517.6" y1="540.3" x2="521.7" y2="540.3" stroke="#000" stroke-width="1.2"/><text x="512.3" y="544.4" font-size="11.6" text-anchor="end" stroke="#000" stroke-width="0.2">0.6</text><line x1="517.6" y1="483.7" x2="521.7" y2="483.7" stroke="#000" stroke-width="1.2"/><text x="512.3" y="487.8" font-size="11.6" text-anchor="end" stroke="#000" stroke-width="0.2">0.8</text><line x1="531.3" y1="710.1" x2="531.3" y2="714.6" stroke="#000" stroke-width="1.2"/><text x="531.3" y="727.5" font-size="11.6" text-anchor="middle" stroke="#000" stroke-width="0.2">0</text><line x1="578.8" y1="710.1" x2="578.8" y2="714.6" stroke="#000" stroke-width="1.2"/><text x="578.8" y="727.5" font-size="11.6" text-anchor="middle" stroke="#000" stroke-width="0.2">100</text><line x1="626.3" y1="710.1" x2="626.3" y2="714.6" stroke="#000" stroke-width="1.2"/><text x="626.3" y="727.5" font-size="11.6" text-anchor="middle" stroke="#000" stroke-width="0.2">200</text><line x1="673.8" y1="710.1" x2="673.8" y2="714.6" stroke="#000" stroke-width="1.2"/><text x="673.8" y="727.5" font-size="11.6" text-anchor="middle" stroke="#000" stroke-width="0.2">300</text><line x1="721.3" y1="710.1" x2="721.3" y2="714.6" stroke="#000" stroke-width="1.2"/><text x="721.3" y="727.5" font-size="11.6" text-anchor="middle" stroke="#000" stroke-width="0.2">400</text><line x1="768.8" y1="710.1" x2="768.8" y2="714.6" stroke="#000" stroke-width="1.2"/><text x="768.8" y="727.5" font-size="11.6" text-anchor="middle" stroke="#000" stroke-width="0.2">500</text><text x="650" y="746.2" font-size="11.8" text-anchor="middle" stroke="#000" stroke-width="0.2">Distance (kb)</text><g transform="translate(487.2 590) rotate(-90)"><text x="0" y="0" font-size="11.6" font-style="italic" text-anchor="middle">R</text><text x="5.0" y="-6.6" font-size="7.8">2</text></g><path d="M530.9 574 C530.97 578.33 531.13 591.5 531.3 600 C531.47 608.5 531.65 617.83 531.9 625 C532.15 632.17 532.45 638 532.8 643 C533.15 648 533.47 651.5 534 655 C534.53 658.5 535.23 661.25 536 664 C536.77 666.75 537.6 669.42 538.6 671.5 C539.6 673.58 540.67 675.2 542 676.5 C543.33 677.8 544.43 678.58 546.6 679.3 C548.77 680.02 550.6 680.4 555 680.8 C559.4 681.2 563.83 681.43 573 681.7 C582.17 681.97 592.17 682.18 610 682.4 C627.83 682.62 653.55 682.83 680 683 C706.45 683.17 753.92 683.33 768.7 683.4" fill="none" stroke="#1a1aff" stroke-width="2.1" stroke-linejoin="round"/><path d="M530.9 553 C531.05 557 531.45 570.17 531.8 577 C532.15 583.83 532.53 589.17 533 594 C533.47 598.83 533.93 602.17 534.6 606 C535.27 609.83 536.02 613.67 537 617 C537.98 620.33 538.9 622.92 540.5 626 C542.1 629.08 544.18 632.78 546.6 635.5 C549.02 638.22 551.93 640.47 555 642.3 C558.07 644.13 560.83 645.13 565 646.5 C569.17 647.87 574.17 649.38 580 650.5 C585.83 651.62 592.27 652.38 600 653.2 C607.73 654.02 613.07 654.72 626.4 655.4 C639.73 656.08 656.28 656.82 680 657.3 C703.72 657.78 753.92 658.13 768.7 658.3" fill="none" stroke="#ff1a1a" stroke-width="2.1" stroke-linejoin="round"/><path d="M531.1 520 C531.17 524.67 531.3 539.67 531.5 548 C531.7 556.33 531.95 563.5 532.3 570 C532.65 576.5 533.07 582.17 533.6 587 C534.13 591.83 534.68 595.25 535.5 599 C536.32 602.75 537.42 606.42 538.5 609.5 C539.58 612.58 540.65 615 542 617.5 C543.35 620 544.43 622.17 546.6 624.5 C548.77 626.83 551.93 629.62 555 631.5 C558.07 633.38 560.83 634.5 565 635.8 C569.17 637.1 574.17 638.33 580 639.3 C585.83 640.27 592.27 640.92 600 641.6 C607.73 642.28 613.07 642.73 626.4 643.4 C639.73 644.07 656.28 644.95 680 645.6 C703.72 646.25 753.92 647.02 768.7 647.3" fill="none" stroke="#169c16" stroke-width="2.1" stroke-linejoin="round"/><line x1="648.8" y1="476.3" x2="668.4" y2="476.3" stroke="#1a1aff" stroke-width="2.1"/><text x="677.1" y="480" font-size="12" stroke="#000" stroke-width="0.2">Asiatic mouflon</text><line x1="648.8" y1="488.3" x2="668.4" y2="488.3" stroke="#ff1a1a" stroke-width="2.1"/><text x="677.1" y="491.9" font-size="12" stroke="#000" stroke-width="0.2">Landraces</text><line x1="648.8" y1="500.2" x2="668.4" y2="500.2" stroke="#169c16" stroke-width="2.1"/><text x="677.1" y="503.7" font-size="12" stroke="#000" stroke-width="0.2">Improved breeds</text><text x="807.2" y="469.5" font-size="25" font-weight="bold">e</text><rect x="806.7" y="583.3" width="8.4" height="37.8" fill="#000"/><rect x="806.7" y="621.1" width="8.4" height="37.6" fill="#0000ff"/><rect x="806.7" y="649.8" width="158.4" height="8.9" fill="#0000ff"/><rect x="806.7" y="583.3" width="162" height="8.4" fill="#000"/><rect x="960.3" y="552.7" width="8.4" height="39" fill="#000"/><rect x="960.3" y="588" width="8.4" height="34.9" fill="#cccc00"/><rect x="960.3" y="614.6" width="124.1" height="8.3" fill="#cccc00"/><rect x="960.3" y="552.7" width="25.5" height="8.2" fill="#000"/><rect x="977.6" y="525.8" width="8.2" height="30.7" fill="#000"/><rect x="977.6" y="556.5" width="8.2" height="31" fill="#660099"/><rect x="977.6" y="579.1" width="104.6" height="8.4" fill="#660099"/><rect x="977.6" y="525.8" width="42.8" height="8.4" fill="#000"/><rect x="1012.3" y="508" width="8.1" height="21.7" fill="#ff0000"/><rect x="1012.3" y="529.7" width="8.1" height="21.3" fill="#ff8800"/><rect x="1012.3" y="508" width="36.7" height="8.2" fill="#ff0000"/><text x="1057.4" y="515.2" font-size="11.0" font-style="italic" stroke="#000" stroke-width="0.2">East Asian populations</text><text x="1026.6" y="550.5" font-size="11.0" font-style="italic" stroke="#000" stroke-width="0.2">Middle Eastern populations</text><text x="1092" y="585.8" font-size="11.0" font-style="italic" stroke="#000" stroke-width="0.2">European populations</text><text x="1093" y="622.5" font-size="11.0" font-style="italic" stroke="#000" stroke-width="0.2">African populations</text><text x="975.8" y="657.7" font-size="11.0" font-style="italic" stroke="#000" stroke-width="0.2">Asiatic mouflon</text><text x="1025.6" y="532.2" font-size="11.5" fill="#ff1a1a" font-style="italic" stroke="#ff1a1a" stroke-width="0.2">1,000</text><text x="988.4" y="559.2" font-size="11.8" fill="#ff1a1a" font-style="italic" stroke="#ff1a1a" stroke-width="0.2">995</text><line x1="1102" y1="686.2" x2="1131" y2="686.2" stroke="#000" stroke-width="1.5"/><text x="1136.5" y="689.8" font-size="10.4" stroke="#000" stroke-width="0.2">0.009</text></svg></body></html>
